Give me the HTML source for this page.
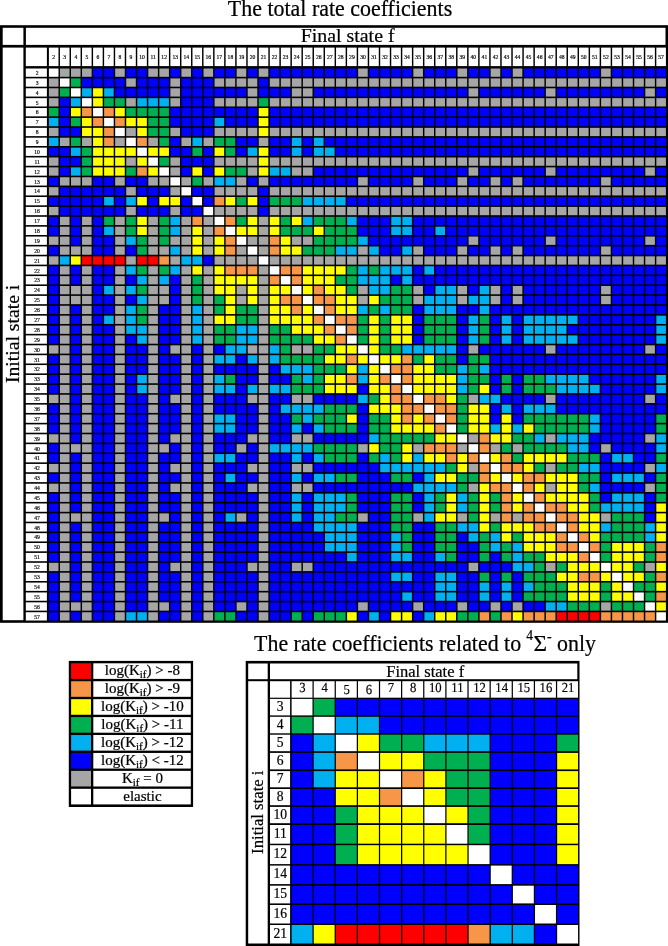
<!DOCTYPE html>
<html><head><meta charset="utf-8"><style>
html,body{margin:0;padding:0;background:#fff;overflow:hidden;width:668px;height:946px;}
svg{display:block;will-change:transform;}
text{font-family:"Liberation Serif",serif;fill:#000;stroke:#000;stroke-width:0.22px;}
</style></head><body>
<svg width="668" height="946" viewBox="0 0 668 946" shape-rendering="auto">
<rect x="0.00" y="25.20" width="668.00" height="597.60" fill="#000"/>
<rect x="2.70" y="27.80" width="20.70" height="17.10" fill="#fff"/>
<rect x="25.90" y="27.80" width="639.60" height="17.10" fill="#fff"/>
<rect x="2.70" y="47.60" width="20.70" height="572.60" fill="#fff"/>
<rect x="25.80" y="47.60" width="21.10" height="18.50" fill="#fff"/>
<rect x="48.90" y="47.60" width="9.60" height="18.50" fill="#fff"/>
<text x="53.70" y="58.90" font-size="5.6" text-anchor="middle" style="stroke-width:0.17px">2</text>
<rect x="59.94" y="47.60" width="9.60" height="18.50" fill="#fff"/>
<text x="64.74" y="58.90" font-size="5.6" text-anchor="middle" style="stroke-width:0.17px">3</text>
<rect x="70.99" y="47.60" width="9.60" height="18.50" fill="#fff"/>
<text x="75.79" y="58.90" font-size="5.6" text-anchor="middle" style="stroke-width:0.17px">4</text>
<rect x="82.03" y="47.60" width="9.60" height="18.50" fill="#fff"/>
<text x="86.83" y="58.90" font-size="5.6" text-anchor="middle" style="stroke-width:0.17px">5</text>
<rect x="93.08" y="47.60" width="9.60" height="18.50" fill="#fff"/>
<text x="97.88" y="58.90" font-size="5.6" text-anchor="middle" style="stroke-width:0.17px">6</text>
<rect x="104.12" y="47.60" width="9.60" height="18.50" fill="#fff"/>
<text x="108.92" y="58.90" font-size="5.6" text-anchor="middle" style="stroke-width:0.17px">7</text>
<rect x="115.16" y="47.60" width="9.60" height="18.50" fill="#fff"/>
<text x="119.96" y="58.90" font-size="5.6" text-anchor="middle" style="stroke-width:0.17px">8</text>
<rect x="126.21" y="47.60" width="9.60" height="18.50" fill="#fff"/>
<text x="131.01" y="58.90" font-size="5.6" text-anchor="middle" style="stroke-width:0.17px">9</text>
<rect x="137.25" y="47.60" width="9.60" height="18.50" fill="#fff"/>
<text x="142.05" y="58.90" font-size="5.6" text-anchor="middle" style="stroke-width:0.17px">10</text>
<rect x="148.30" y="47.60" width="9.60" height="18.50" fill="#fff"/>
<text x="153.10" y="58.90" font-size="5.6" text-anchor="middle" style="stroke-width:0.17px">11</text>
<rect x="159.34" y="47.60" width="9.60" height="18.50" fill="#fff"/>
<text x="164.14" y="58.90" font-size="5.6" text-anchor="middle" style="stroke-width:0.17px">12</text>
<rect x="170.38" y="47.60" width="9.60" height="18.50" fill="#fff"/>
<text x="175.18" y="58.90" font-size="5.6" text-anchor="middle" style="stroke-width:0.17px">13</text>
<rect x="181.43" y="47.60" width="9.60" height="18.50" fill="#fff"/>
<text x="186.23" y="58.90" font-size="5.6" text-anchor="middle" style="stroke-width:0.17px">14</text>
<rect x="192.47" y="47.60" width="9.60" height="18.50" fill="#fff"/>
<text x="197.27" y="58.90" font-size="5.6" text-anchor="middle" style="stroke-width:0.17px">15</text>
<rect x="203.52" y="47.60" width="9.60" height="18.50" fill="#fff"/>
<text x="208.32" y="58.90" font-size="5.6" text-anchor="middle" style="stroke-width:0.17px">16</text>
<rect x="214.56" y="47.60" width="9.60" height="18.50" fill="#fff"/>
<text x="219.36" y="58.90" font-size="5.6" text-anchor="middle" style="stroke-width:0.17px">17</text>
<rect x="225.60" y="47.60" width="9.60" height="18.50" fill="#fff"/>
<text x="230.40" y="58.90" font-size="5.6" text-anchor="middle" style="stroke-width:0.17px">18</text>
<rect x="236.65" y="47.60" width="9.60" height="18.50" fill="#fff"/>
<text x="241.45" y="58.90" font-size="5.6" text-anchor="middle" style="stroke-width:0.17px">19</text>
<rect x="247.69" y="47.60" width="9.60" height="18.50" fill="#fff"/>
<text x="252.49" y="58.90" font-size="5.6" text-anchor="middle" style="stroke-width:0.17px">20</text>
<rect x="258.74" y="47.60" width="9.60" height="18.50" fill="#fff"/>
<text x="263.54" y="58.90" font-size="5.6" text-anchor="middle" style="stroke-width:0.17px">21</text>
<rect x="269.78" y="47.60" width="9.60" height="18.50" fill="#fff"/>
<text x="274.58" y="58.90" font-size="5.6" text-anchor="middle" style="stroke-width:0.17px">22</text>
<rect x="280.82" y="47.60" width="9.60" height="18.50" fill="#fff"/>
<text x="285.62" y="58.90" font-size="5.6" text-anchor="middle" style="stroke-width:0.17px">23</text>
<rect x="291.87" y="47.60" width="9.60" height="18.50" fill="#fff"/>
<text x="296.67" y="58.90" font-size="5.6" text-anchor="middle" style="stroke-width:0.17px">24</text>
<rect x="302.91" y="47.60" width="9.60" height="18.50" fill="#fff"/>
<text x="307.71" y="58.90" font-size="5.6" text-anchor="middle" style="stroke-width:0.17px">25</text>
<rect x="313.96" y="47.60" width="9.60" height="18.50" fill="#fff"/>
<text x="318.76" y="58.90" font-size="5.6" text-anchor="middle" style="stroke-width:0.17px">26</text>
<rect x="325.00" y="47.60" width="9.60" height="18.50" fill="#fff"/>
<text x="329.80" y="58.90" font-size="5.6" text-anchor="middle" style="stroke-width:0.17px">27</text>
<rect x="336.04" y="47.60" width="9.60" height="18.50" fill="#fff"/>
<text x="340.84" y="58.90" font-size="5.6" text-anchor="middle" style="stroke-width:0.17px">28</text>
<rect x="347.09" y="47.60" width="9.60" height="18.50" fill="#fff"/>
<text x="351.89" y="58.90" font-size="5.6" text-anchor="middle" style="stroke-width:0.17px">29</text>
<rect x="358.13" y="47.60" width="9.60" height="18.50" fill="#fff"/>
<text x="362.93" y="58.90" font-size="5.6" text-anchor="middle" style="stroke-width:0.17px">30</text>
<rect x="369.18" y="47.60" width="9.60" height="18.50" fill="#fff"/>
<text x="373.98" y="58.90" font-size="5.6" text-anchor="middle" style="stroke-width:0.17px">31</text>
<rect x="380.22" y="47.60" width="9.60" height="18.50" fill="#fff"/>
<text x="385.02" y="58.90" font-size="5.6" text-anchor="middle" style="stroke-width:0.17px">32</text>
<rect x="391.26" y="47.60" width="9.60" height="18.50" fill="#fff"/>
<text x="396.06" y="58.90" font-size="5.6" text-anchor="middle" style="stroke-width:0.17px">33</text>
<rect x="402.31" y="47.60" width="9.60" height="18.50" fill="#fff"/>
<text x="407.11" y="58.90" font-size="5.6" text-anchor="middle" style="stroke-width:0.17px">34</text>
<rect x="413.35" y="47.60" width="9.60" height="18.50" fill="#fff"/>
<text x="418.15" y="58.90" font-size="5.6" text-anchor="middle" style="stroke-width:0.17px">35</text>
<rect x="424.40" y="47.60" width="9.60" height="18.50" fill="#fff"/>
<text x="429.20" y="58.90" font-size="5.6" text-anchor="middle" style="stroke-width:0.17px">36</text>
<rect x="435.44" y="47.60" width="9.60" height="18.50" fill="#fff"/>
<text x="440.24" y="58.90" font-size="5.6" text-anchor="middle" style="stroke-width:0.17px">37</text>
<rect x="446.48" y="47.60" width="9.60" height="18.50" fill="#fff"/>
<text x="451.28" y="58.90" font-size="5.6" text-anchor="middle" style="stroke-width:0.17px">38</text>
<rect x="457.53" y="47.60" width="9.60" height="18.50" fill="#fff"/>
<text x="462.33" y="58.90" font-size="5.6" text-anchor="middle" style="stroke-width:0.17px">39</text>
<rect x="468.57" y="47.60" width="9.60" height="18.50" fill="#fff"/>
<text x="473.37" y="58.90" font-size="5.6" text-anchor="middle" style="stroke-width:0.17px">40</text>
<rect x="479.62" y="47.60" width="9.60" height="18.50" fill="#fff"/>
<text x="484.42" y="58.90" font-size="5.6" text-anchor="middle" style="stroke-width:0.17px">41</text>
<rect x="490.66" y="47.60" width="9.60" height="18.50" fill="#fff"/>
<text x="495.46" y="58.90" font-size="5.6" text-anchor="middle" style="stroke-width:0.17px">42</text>
<rect x="501.70" y="47.60" width="9.60" height="18.50" fill="#fff"/>
<text x="506.50" y="58.90" font-size="5.6" text-anchor="middle" style="stroke-width:0.17px">43</text>
<rect x="512.75" y="47.60" width="9.60" height="18.50" fill="#fff"/>
<text x="517.55" y="58.90" font-size="5.6" text-anchor="middle" style="stroke-width:0.17px">44</text>
<rect x="523.79" y="47.60" width="9.60" height="18.50" fill="#fff"/>
<text x="528.59" y="58.90" font-size="5.6" text-anchor="middle" style="stroke-width:0.17px">45</text>
<rect x="534.84" y="47.60" width="9.60" height="18.50" fill="#fff"/>
<text x="539.64" y="58.90" font-size="5.6" text-anchor="middle" style="stroke-width:0.17px">46</text>
<rect x="545.88" y="47.60" width="9.60" height="18.50" fill="#fff"/>
<text x="550.68" y="58.90" font-size="5.6" text-anchor="middle" style="stroke-width:0.17px">47</text>
<rect x="556.92" y="47.60" width="9.60" height="18.50" fill="#fff"/>
<text x="561.72" y="58.90" font-size="5.6" text-anchor="middle" style="stroke-width:0.17px">48</text>
<rect x="567.97" y="47.60" width="9.60" height="18.50" fill="#fff"/>
<text x="572.77" y="58.90" font-size="5.6" text-anchor="middle" style="stroke-width:0.17px">49</text>
<rect x="579.01" y="47.60" width="9.60" height="18.50" fill="#fff"/>
<text x="583.81" y="58.90" font-size="5.6" text-anchor="middle" style="stroke-width:0.17px">50</text>
<rect x="590.06" y="47.60" width="9.60" height="18.50" fill="#fff"/>
<text x="594.86" y="58.90" font-size="5.6" text-anchor="middle" style="stroke-width:0.17px">51</text>
<rect x="601.10" y="47.60" width="9.60" height="18.50" fill="#fff"/>
<text x="605.90" y="58.90" font-size="5.6" text-anchor="middle" style="stroke-width:0.17px">52</text>
<rect x="612.14" y="47.60" width="9.60" height="18.50" fill="#fff"/>
<text x="616.94" y="58.90" font-size="5.6" text-anchor="middle" style="stroke-width:0.17px">53</text>
<rect x="623.19" y="47.60" width="9.60" height="18.50" fill="#fff"/>
<text x="627.99" y="58.90" font-size="5.6" text-anchor="middle" style="stroke-width:0.17px">54</text>
<rect x="634.23" y="47.60" width="9.60" height="18.50" fill="#fff"/>
<text x="639.03" y="58.90" font-size="5.6" text-anchor="middle" style="stroke-width:0.17px">55</text>
<rect x="645.28" y="47.60" width="9.60" height="18.50" fill="#fff"/>
<text x="650.08" y="58.90" font-size="5.6" text-anchor="middle" style="stroke-width:0.17px">56</text>
<rect x="656.32" y="47.60" width="9.60" height="18.50" fill="#fff"/>
<text x="661.12" y="58.90" font-size="5.6" text-anchor="middle" style="stroke-width:0.17px">57</text>
<rect x="25.80" y="68.50" width="21.10" height="8.30" fill="#fff"/>
<text x="37.10" y="74.85" font-size="5.6" text-anchor="middle" style="stroke-width:0.17px">2</text>
<rect x="48.90" y="68.50" width="9.60" height="8.30" fill="#ffffff"/>
<rect x="59.94" y="68.50" width="9.60" height="8.30" fill="#a6a6a6"/>
<rect x="70.99" y="68.50" width="9.60" height="8.30" fill="#a6a6a6"/>
<rect x="82.03" y="68.50" width="9.60" height="8.30" fill="#a6a6a6"/>
<rect x="93.08" y="68.50" width="9.60" height="8.30" fill="#0000ff"/>
<rect x="104.12" y="68.50" width="9.60" height="8.30" fill="#0000ff"/>
<rect x="115.16" y="68.50" width="9.60" height="8.30" fill="#a6a6a6"/>
<rect x="126.21" y="68.50" width="9.60" height="8.30" fill="#0000ff"/>
<rect x="137.25" y="68.50" width="9.60" height="8.30" fill="#0000ff"/>
<rect x="148.30" y="68.50" width="9.60" height="8.30" fill="#a6a6a6"/>
<rect x="159.34" y="68.50" width="9.60" height="8.30" fill="#a6a6a6"/>
<rect x="170.38" y="68.50" width="9.60" height="8.30" fill="#0000ff"/>
<rect x="181.43" y="68.50" width="9.60" height="8.30" fill="#a6a6a6"/>
<rect x="192.47" y="68.50" width="9.60" height="8.30" fill="#0000ff"/>
<rect x="203.52" y="68.50" width="9.60" height="8.30" fill="#a6a6a6"/>
<rect x="214.56" y="68.50" width="9.60" height="8.30" fill="#0000ff"/>
<rect x="225.60" y="68.50" width="9.60" height="8.30" fill="#0000ff"/>
<rect x="236.65" y="68.50" width="9.60" height="8.30" fill="#a6a6a6"/>
<rect x="247.69" y="68.50" width="9.60" height="8.30" fill="#0000ff"/>
<rect x="258.74" y="68.50" width="9.60" height="8.30" fill="#a6a6a6"/>
<rect x="269.78" y="68.50" width="9.60" height="8.30" fill="#0000ff"/>
<rect x="280.82" y="68.50" width="9.60" height="8.30" fill="#0000ff"/>
<rect x="291.87" y="68.50" width="9.60" height="8.30" fill="#0000ff"/>
<rect x="302.91" y="68.50" width="9.60" height="8.30" fill="#0000ff"/>
<rect x="313.96" y="68.50" width="9.60" height="8.30" fill="#0000ff"/>
<rect x="325.00" y="68.50" width="9.60" height="8.30" fill="#0000ff"/>
<rect x="336.04" y="68.50" width="9.60" height="8.30" fill="#0000ff"/>
<rect x="347.09" y="68.50" width="9.60" height="8.30" fill="#0000ff"/>
<rect x="358.13" y="68.50" width="9.60" height="8.30" fill="#a6a6a6"/>
<rect x="369.18" y="68.50" width="9.60" height="8.30" fill="#0000ff"/>
<rect x="380.22" y="68.50" width="9.60" height="8.30" fill="#0000ff"/>
<rect x="391.26" y="68.50" width="9.60" height="8.30" fill="#0000ff"/>
<rect x="402.31" y="68.50" width="9.60" height="8.30" fill="#0000ff"/>
<rect x="413.35" y="68.50" width="9.60" height="8.30" fill="#a6a6a6"/>
<rect x="424.40" y="68.50" width="9.60" height="8.30" fill="#0000ff"/>
<rect x="435.44" y="68.50" width="9.60" height="8.30" fill="#0000ff"/>
<rect x="446.48" y="68.50" width="9.60" height="8.30" fill="#0000ff"/>
<rect x="457.53" y="68.50" width="9.60" height="8.30" fill="#a6a6a6"/>
<rect x="468.57" y="68.50" width="9.60" height="8.30" fill="#0000ff"/>
<rect x="479.62" y="68.50" width="9.60" height="8.30" fill="#0000ff"/>
<rect x="490.66" y="68.50" width="9.60" height="8.30" fill="#a6a6a6"/>
<rect x="501.70" y="68.50" width="9.60" height="8.30" fill="#0000ff"/>
<rect x="512.75" y="68.50" width="9.60" height="8.30" fill="#a6a6a6"/>
<rect x="523.79" y="68.50" width="9.60" height="8.30" fill="#0000ff"/>
<rect x="534.84" y="68.50" width="9.60" height="8.30" fill="#0000ff"/>
<rect x="545.88" y="68.50" width="9.60" height="8.30" fill="#0000ff"/>
<rect x="556.92" y="68.50" width="9.60" height="8.30" fill="#0000ff"/>
<rect x="567.97" y="68.50" width="9.60" height="8.30" fill="#0000ff"/>
<rect x="579.01" y="68.50" width="9.60" height="8.30" fill="#0000ff"/>
<rect x="590.06" y="68.50" width="9.60" height="8.30" fill="#0000ff"/>
<rect x="601.10" y="68.50" width="9.60" height="8.30" fill="#a6a6a6"/>
<rect x="612.14" y="68.50" width="9.60" height="8.30" fill="#0000ff"/>
<rect x="623.19" y="68.50" width="9.60" height="8.30" fill="#0000ff"/>
<rect x="634.23" y="68.50" width="9.60" height="8.30" fill="#0000ff"/>
<rect x="645.28" y="68.50" width="9.60" height="8.30" fill="#0000ff"/>
<rect x="656.32" y="68.50" width="9.60" height="8.30" fill="#0000ff"/>
<rect x="25.80" y="78.39" width="21.10" height="8.30" fill="#fff"/>
<text x="37.10" y="84.74" font-size="5.6" text-anchor="middle" style="stroke-width:0.17px">3</text>
<rect x="48.90" y="78.39" width="9.60" height="8.30" fill="#a6a6a6"/>
<rect x="59.94" y="78.39" width="9.60" height="8.30" fill="#ffffff"/>
<rect x="70.99" y="78.39" width="9.60" height="8.30" fill="#00b050"/>
<rect x="82.03" y="78.39" width="9.60" height="8.30" fill="#0000ff"/>
<rect x="93.08" y="78.39" width="9.60" height="8.30" fill="#0000ff"/>
<rect x="104.12" y="78.39" width="9.60" height="8.30" fill="#0000ff"/>
<rect x="115.16" y="78.39" width="9.60" height="8.30" fill="#0000ff"/>
<rect x="126.21" y="78.39" width="9.60" height="8.30" fill="#a6a6a6"/>
<rect x="137.25" y="78.39" width="9.60" height="8.30" fill="#0000ff"/>
<rect x="148.30" y="78.39" width="9.60" height="8.30" fill="#0000ff"/>
<rect x="159.34" y="78.39" width="9.60" height="8.30" fill="#0000ff"/>
<rect x="170.38" y="78.39" width="9.60" height="8.30" fill="#a6a6a6"/>
<rect x="181.43" y="78.39" width="9.60" height="8.30" fill="#0000ff"/>
<rect x="192.47" y="78.39" width="9.60" height="8.30" fill="#0000ff"/>
<rect x="203.52" y="78.39" width="9.60" height="8.30" fill="#0000ff"/>
<rect x="214.56" y="78.39" width="9.60" height="8.30" fill="#a6a6a6"/>
<rect x="225.60" y="78.39" width="9.60" height="8.30" fill="#a6a6a6"/>
<rect x="236.65" y="78.39" width="9.60" height="8.30" fill="#a6a6a6"/>
<rect x="247.69" y="78.39" width="9.60" height="8.30" fill="#a6a6a6"/>
<rect x="258.74" y="78.39" width="9.60" height="8.30" fill="#0000ff"/>
<rect x="269.78" y="78.39" width="9.60" height="8.30" fill="#a6a6a6"/>
<rect x="280.82" y="78.39" width="9.60" height="8.30" fill="#a6a6a6"/>
<rect x="291.87" y="78.39" width="9.60" height="8.30" fill="#a6a6a6"/>
<rect x="302.91" y="78.39" width="9.60" height="8.30" fill="#a6a6a6"/>
<rect x="313.96" y="78.39" width="9.60" height="8.30" fill="#a6a6a6"/>
<rect x="325.00" y="78.39" width="9.60" height="8.30" fill="#a6a6a6"/>
<rect x="336.04" y="78.39" width="9.60" height="8.30" fill="#a6a6a6"/>
<rect x="347.09" y="78.39" width="9.60" height="8.30" fill="#a6a6a6"/>
<rect x="358.13" y="78.39" width="9.60" height="8.30" fill="#a6a6a6"/>
<rect x="369.18" y="78.39" width="9.60" height="8.30" fill="#a6a6a6"/>
<rect x="380.22" y="78.39" width="9.60" height="8.30" fill="#a6a6a6"/>
<rect x="391.26" y="78.39" width="9.60" height="8.30" fill="#a6a6a6"/>
<rect x="402.31" y="78.39" width="9.60" height="8.30" fill="#a6a6a6"/>
<rect x="413.35" y="78.39" width="9.60" height="8.30" fill="#a6a6a6"/>
<rect x="424.40" y="78.39" width="9.60" height="8.30" fill="#a6a6a6"/>
<rect x="435.44" y="78.39" width="9.60" height="8.30" fill="#a6a6a6"/>
<rect x="446.48" y="78.39" width="9.60" height="8.30" fill="#a6a6a6"/>
<rect x="457.53" y="78.39" width="9.60" height="8.30" fill="#a6a6a6"/>
<rect x="468.57" y="78.39" width="9.60" height="8.30" fill="#a6a6a6"/>
<rect x="479.62" y="78.39" width="9.60" height="8.30" fill="#a6a6a6"/>
<rect x="490.66" y="78.39" width="9.60" height="8.30" fill="#a6a6a6"/>
<rect x="501.70" y="78.39" width="9.60" height="8.30" fill="#a6a6a6"/>
<rect x="512.75" y="78.39" width="9.60" height="8.30" fill="#a6a6a6"/>
<rect x="523.79" y="78.39" width="9.60" height="8.30" fill="#a6a6a6"/>
<rect x="534.84" y="78.39" width="9.60" height="8.30" fill="#a6a6a6"/>
<rect x="545.88" y="78.39" width="9.60" height="8.30" fill="#a6a6a6"/>
<rect x="556.92" y="78.39" width="9.60" height="8.30" fill="#a6a6a6"/>
<rect x="567.97" y="78.39" width="9.60" height="8.30" fill="#a6a6a6"/>
<rect x="579.01" y="78.39" width="9.60" height="8.30" fill="#a6a6a6"/>
<rect x="590.06" y="78.39" width="9.60" height="8.30" fill="#a6a6a6"/>
<rect x="601.10" y="78.39" width="9.60" height="8.30" fill="#a6a6a6"/>
<rect x="612.14" y="78.39" width="9.60" height="8.30" fill="#a6a6a6"/>
<rect x="623.19" y="78.39" width="9.60" height="8.30" fill="#a6a6a6"/>
<rect x="634.23" y="78.39" width="9.60" height="8.30" fill="#a6a6a6"/>
<rect x="645.28" y="78.39" width="9.60" height="8.30" fill="#a6a6a6"/>
<rect x="656.32" y="78.39" width="9.60" height="8.30" fill="#a6a6a6"/>
<rect x="25.80" y="88.27" width="21.10" height="8.30" fill="#fff"/>
<text x="37.10" y="94.62" font-size="5.6" text-anchor="middle" style="stroke-width:0.17px">4</text>
<rect x="48.90" y="88.27" width="9.60" height="8.30" fill="#a6a6a6"/>
<rect x="59.94" y="88.27" width="9.60" height="8.30" fill="#00b050"/>
<rect x="70.99" y="88.27" width="9.60" height="8.30" fill="#ffffff"/>
<rect x="82.03" y="88.27" width="9.60" height="8.30" fill="#00b0f0"/>
<rect x="93.08" y="88.27" width="9.60" height="8.30" fill="#ffff00"/>
<rect x="104.12" y="88.27" width="9.60" height="8.30" fill="#00b0f0"/>
<rect x="115.16" y="88.27" width="9.60" height="8.30" fill="#0000ff"/>
<rect x="126.21" y="88.27" width="9.60" height="8.30" fill="#0000ff"/>
<rect x="137.25" y="88.27" width="9.60" height="8.30" fill="#0000ff"/>
<rect x="148.30" y="88.27" width="9.60" height="8.30" fill="#0000ff"/>
<rect x="159.34" y="88.27" width="9.60" height="8.30" fill="#0000ff"/>
<rect x="170.38" y="88.27" width="9.60" height="8.30" fill="#a6a6a6"/>
<rect x="181.43" y="88.27" width="9.60" height="8.30" fill="#0000ff"/>
<rect x="192.47" y="88.27" width="9.60" height="8.30" fill="#0000ff"/>
<rect x="203.52" y="88.27" width="9.60" height="8.30" fill="#0000ff"/>
<rect x="214.56" y="88.27" width="9.60" height="8.30" fill="#0000ff"/>
<rect x="225.60" y="88.27" width="9.60" height="8.30" fill="#0000ff"/>
<rect x="236.65" y="88.27" width="9.60" height="8.30" fill="#0000ff"/>
<rect x="247.69" y="88.27" width="9.60" height="8.30" fill="#a6a6a6"/>
<rect x="258.74" y="88.27" width="9.60" height="8.30" fill="#0000ff"/>
<rect x="269.78" y="88.27" width="9.60" height="8.30" fill="#0000ff"/>
<rect x="280.82" y="88.27" width="9.60" height="8.30" fill="#0000ff"/>
<rect x="291.87" y="88.27" width="9.60" height="8.30" fill="#a6a6a6"/>
<rect x="302.91" y="88.27" width="9.60" height="8.30" fill="#a6a6a6"/>
<rect x="313.96" y="88.27" width="9.60" height="8.30" fill="#0000ff"/>
<rect x="325.00" y="88.27" width="9.60" height="8.30" fill="#0000ff"/>
<rect x="336.04" y="88.27" width="9.60" height="8.30" fill="#0000ff"/>
<rect x="347.09" y="88.27" width="9.60" height="8.30" fill="#0000ff"/>
<rect x="358.13" y="88.27" width="9.60" height="8.30" fill="#0000ff"/>
<rect x="369.18" y="88.27" width="9.60" height="8.30" fill="#0000ff"/>
<rect x="380.22" y="88.27" width="9.60" height="8.30" fill="#0000ff"/>
<rect x="391.26" y="88.27" width="9.60" height="8.30" fill="#0000ff"/>
<rect x="402.31" y="88.27" width="9.60" height="8.30" fill="#0000ff"/>
<rect x="413.35" y="88.27" width="9.60" height="8.30" fill="#0000ff"/>
<rect x="424.40" y="88.27" width="9.60" height="8.30" fill="#0000ff"/>
<rect x="435.44" y="88.27" width="9.60" height="8.30" fill="#0000ff"/>
<rect x="446.48" y="88.27" width="9.60" height="8.30" fill="#0000ff"/>
<rect x="457.53" y="88.27" width="9.60" height="8.30" fill="#0000ff"/>
<rect x="468.57" y="88.27" width="9.60" height="8.30" fill="#a6a6a6"/>
<rect x="479.62" y="88.27" width="9.60" height="8.30" fill="#0000ff"/>
<rect x="490.66" y="88.27" width="9.60" height="8.30" fill="#0000ff"/>
<rect x="501.70" y="88.27" width="9.60" height="8.30" fill="#0000ff"/>
<rect x="512.75" y="88.27" width="9.60" height="8.30" fill="#0000ff"/>
<rect x="523.79" y="88.27" width="9.60" height="8.30" fill="#0000ff"/>
<rect x="534.84" y="88.27" width="9.60" height="8.30" fill="#0000ff"/>
<rect x="545.88" y="88.27" width="9.60" height="8.30" fill="#a6a6a6"/>
<rect x="556.92" y="88.27" width="9.60" height="8.30" fill="#0000ff"/>
<rect x="567.97" y="88.27" width="9.60" height="8.30" fill="#0000ff"/>
<rect x="579.01" y="88.27" width="9.60" height="8.30" fill="#0000ff"/>
<rect x="590.06" y="88.27" width="9.60" height="8.30" fill="#0000ff"/>
<rect x="601.10" y="88.27" width="9.60" height="8.30" fill="#0000ff"/>
<rect x="612.14" y="88.27" width="9.60" height="8.30" fill="#0000ff"/>
<rect x="623.19" y="88.27" width="9.60" height="8.30" fill="#0000ff"/>
<rect x="634.23" y="88.27" width="9.60" height="8.30" fill="#0000ff"/>
<rect x="645.28" y="88.27" width="9.60" height="8.30" fill="#a6a6a6"/>
<rect x="656.32" y="88.27" width="9.60" height="8.30" fill="#0000ff"/>
<rect x="25.80" y="98.16" width="21.10" height="8.30" fill="#fff"/>
<text x="37.10" y="104.51" font-size="5.6" text-anchor="middle" style="stroke-width:0.17px">5</text>
<rect x="48.90" y="98.16" width="9.60" height="8.30" fill="#a6a6a6"/>
<rect x="59.94" y="98.16" width="9.60" height="8.30" fill="#0000ff"/>
<rect x="70.99" y="98.16" width="9.60" height="8.30" fill="#00b0f0"/>
<rect x="82.03" y="98.16" width="9.60" height="8.30" fill="#ffffff"/>
<rect x="93.08" y="98.16" width="9.60" height="8.30" fill="#ffff00"/>
<rect x="104.12" y="98.16" width="9.60" height="8.30" fill="#00b050"/>
<rect x="115.16" y="98.16" width="9.60" height="8.30" fill="#00b050"/>
<rect x="126.21" y="98.16" width="9.60" height="8.30" fill="#a6a6a6"/>
<rect x="137.25" y="98.16" width="9.60" height="8.30" fill="#00b0f0"/>
<rect x="148.30" y="98.16" width="9.60" height="8.30" fill="#00b0f0"/>
<rect x="159.34" y="98.16" width="9.60" height="8.30" fill="#00b0f0"/>
<rect x="170.38" y="98.16" width="9.60" height="8.30" fill="#a6a6a6"/>
<rect x="181.43" y="98.16" width="9.60" height="8.30" fill="#0000ff"/>
<rect x="192.47" y="98.16" width="9.60" height="8.30" fill="#0000ff"/>
<rect x="203.52" y="98.16" width="9.60" height="8.30" fill="#0000ff"/>
<rect x="214.56" y="98.16" width="9.60" height="8.30" fill="#a6a6a6"/>
<rect x="225.60" y="98.16" width="9.60" height="8.30" fill="#a6a6a6"/>
<rect x="236.65" y="98.16" width="9.60" height="8.30" fill="#a6a6a6"/>
<rect x="247.69" y="98.16" width="9.60" height="8.30" fill="#a6a6a6"/>
<rect x="258.74" y="98.16" width="9.60" height="8.30" fill="#00b050"/>
<rect x="269.78" y="98.16" width="9.60" height="8.30" fill="#a6a6a6"/>
<rect x="280.82" y="98.16" width="9.60" height="8.30" fill="#a6a6a6"/>
<rect x="291.87" y="98.16" width="9.60" height="8.30" fill="#a6a6a6"/>
<rect x="302.91" y="98.16" width="9.60" height="8.30" fill="#a6a6a6"/>
<rect x="313.96" y="98.16" width="9.60" height="8.30" fill="#a6a6a6"/>
<rect x="325.00" y="98.16" width="9.60" height="8.30" fill="#a6a6a6"/>
<rect x="336.04" y="98.16" width="9.60" height="8.30" fill="#a6a6a6"/>
<rect x="347.09" y="98.16" width="9.60" height="8.30" fill="#a6a6a6"/>
<rect x="358.13" y="98.16" width="9.60" height="8.30" fill="#a6a6a6"/>
<rect x="369.18" y="98.16" width="9.60" height="8.30" fill="#a6a6a6"/>
<rect x="380.22" y="98.16" width="9.60" height="8.30" fill="#a6a6a6"/>
<rect x="391.26" y="98.16" width="9.60" height="8.30" fill="#a6a6a6"/>
<rect x="402.31" y="98.16" width="9.60" height="8.30" fill="#a6a6a6"/>
<rect x="413.35" y="98.16" width="9.60" height="8.30" fill="#a6a6a6"/>
<rect x="424.40" y="98.16" width="9.60" height="8.30" fill="#a6a6a6"/>
<rect x="435.44" y="98.16" width="9.60" height="8.30" fill="#a6a6a6"/>
<rect x="446.48" y="98.16" width="9.60" height="8.30" fill="#a6a6a6"/>
<rect x="457.53" y="98.16" width="9.60" height="8.30" fill="#a6a6a6"/>
<rect x="468.57" y="98.16" width="9.60" height="8.30" fill="#a6a6a6"/>
<rect x="479.62" y="98.16" width="9.60" height="8.30" fill="#a6a6a6"/>
<rect x="490.66" y="98.16" width="9.60" height="8.30" fill="#a6a6a6"/>
<rect x="501.70" y="98.16" width="9.60" height="8.30" fill="#a6a6a6"/>
<rect x="512.75" y="98.16" width="9.60" height="8.30" fill="#a6a6a6"/>
<rect x="523.79" y="98.16" width="9.60" height="8.30" fill="#a6a6a6"/>
<rect x="534.84" y="98.16" width="9.60" height="8.30" fill="#a6a6a6"/>
<rect x="545.88" y="98.16" width="9.60" height="8.30" fill="#a6a6a6"/>
<rect x="556.92" y="98.16" width="9.60" height="8.30" fill="#a6a6a6"/>
<rect x="567.97" y="98.16" width="9.60" height="8.30" fill="#a6a6a6"/>
<rect x="579.01" y="98.16" width="9.60" height="8.30" fill="#a6a6a6"/>
<rect x="590.06" y="98.16" width="9.60" height="8.30" fill="#a6a6a6"/>
<rect x="601.10" y="98.16" width="9.60" height="8.30" fill="#a6a6a6"/>
<rect x="612.14" y="98.16" width="9.60" height="8.30" fill="#a6a6a6"/>
<rect x="623.19" y="98.16" width="9.60" height="8.30" fill="#a6a6a6"/>
<rect x="634.23" y="98.16" width="9.60" height="8.30" fill="#a6a6a6"/>
<rect x="645.28" y="98.16" width="9.60" height="8.30" fill="#a6a6a6"/>
<rect x="656.32" y="98.16" width="9.60" height="8.30" fill="#a6a6a6"/>
<rect x="25.80" y="108.04" width="21.10" height="8.30" fill="#fff"/>
<text x="37.10" y="114.39" font-size="5.6" text-anchor="middle" style="stroke-width:0.17px">6</text>
<rect x="48.90" y="108.04" width="9.60" height="8.30" fill="#00b050"/>
<rect x="59.94" y="108.04" width="9.60" height="8.30" fill="#0000ff"/>
<rect x="70.99" y="108.04" width="9.60" height="8.30" fill="#ffff00"/>
<rect x="82.03" y="108.04" width="9.60" height="8.30" fill="#f79646"/>
<rect x="93.08" y="108.04" width="9.60" height="8.30" fill="#ffffff"/>
<rect x="104.12" y="108.04" width="9.60" height="8.30" fill="#f79646"/>
<rect x="115.16" y="108.04" width="9.60" height="8.30" fill="#ffff00"/>
<rect x="126.21" y="108.04" width="9.60" height="8.30" fill="#00b050"/>
<rect x="137.25" y="108.04" width="9.60" height="8.30" fill="#00b050"/>
<rect x="148.30" y="108.04" width="9.60" height="8.30" fill="#00b050"/>
<rect x="159.34" y="108.04" width="9.60" height="8.30" fill="#00b050"/>
<rect x="170.38" y="108.04" width="9.60" height="8.30" fill="#0000ff"/>
<rect x="181.43" y="108.04" width="9.60" height="8.30" fill="#0000ff"/>
<rect x="192.47" y="108.04" width="9.60" height="8.30" fill="#0000ff"/>
<rect x="203.52" y="108.04" width="9.60" height="8.30" fill="#0000ff"/>
<rect x="214.56" y="108.04" width="9.60" height="8.30" fill="#0000ff"/>
<rect x="225.60" y="108.04" width="9.60" height="8.30" fill="#0000ff"/>
<rect x="236.65" y="108.04" width="9.60" height="8.30" fill="#0000ff"/>
<rect x="247.69" y="108.04" width="9.60" height="8.30" fill="#0000ff"/>
<rect x="258.74" y="108.04" width="9.60" height="8.30" fill="#ffff00"/>
<rect x="269.78" y="108.04" width="9.60" height="8.30" fill="#0000ff"/>
<rect x="280.82" y="108.04" width="9.60" height="8.30" fill="#0000ff"/>
<rect x="291.87" y="108.04" width="9.60" height="8.30" fill="#0000ff"/>
<rect x="302.91" y="108.04" width="9.60" height="8.30" fill="#0000ff"/>
<rect x="313.96" y="108.04" width="9.60" height="8.30" fill="#0000ff"/>
<rect x="325.00" y="108.04" width="9.60" height="8.30" fill="#0000ff"/>
<rect x="336.04" y="108.04" width="9.60" height="8.30" fill="#0000ff"/>
<rect x="347.09" y="108.04" width="9.60" height="8.30" fill="#0000ff"/>
<rect x="358.13" y="108.04" width="9.60" height="8.30" fill="#0000ff"/>
<rect x="369.18" y="108.04" width="9.60" height="8.30" fill="#0000ff"/>
<rect x="380.22" y="108.04" width="9.60" height="8.30" fill="#0000ff"/>
<rect x="391.26" y="108.04" width="9.60" height="8.30" fill="#0000ff"/>
<rect x="402.31" y="108.04" width="9.60" height="8.30" fill="#0000ff"/>
<rect x="413.35" y="108.04" width="9.60" height="8.30" fill="#0000ff"/>
<rect x="424.40" y="108.04" width="9.60" height="8.30" fill="#0000ff"/>
<rect x="435.44" y="108.04" width="9.60" height="8.30" fill="#0000ff"/>
<rect x="446.48" y="108.04" width="9.60" height="8.30" fill="#0000ff"/>
<rect x="457.53" y="108.04" width="9.60" height="8.30" fill="#0000ff"/>
<rect x="468.57" y="108.04" width="9.60" height="8.30" fill="#0000ff"/>
<rect x="479.62" y="108.04" width="9.60" height="8.30" fill="#0000ff"/>
<rect x="490.66" y="108.04" width="9.60" height="8.30" fill="#0000ff"/>
<rect x="501.70" y="108.04" width="9.60" height="8.30" fill="#0000ff"/>
<rect x="512.75" y="108.04" width="9.60" height="8.30" fill="#0000ff"/>
<rect x="523.79" y="108.04" width="9.60" height="8.30" fill="#0000ff"/>
<rect x="534.84" y="108.04" width="9.60" height="8.30" fill="#0000ff"/>
<rect x="545.88" y="108.04" width="9.60" height="8.30" fill="#0000ff"/>
<rect x="556.92" y="108.04" width="9.60" height="8.30" fill="#0000ff"/>
<rect x="567.97" y="108.04" width="9.60" height="8.30" fill="#0000ff"/>
<rect x="579.01" y="108.04" width="9.60" height="8.30" fill="#0000ff"/>
<rect x="590.06" y="108.04" width="9.60" height="8.30" fill="#0000ff"/>
<rect x="601.10" y="108.04" width="9.60" height="8.30" fill="#0000ff"/>
<rect x="612.14" y="108.04" width="9.60" height="8.30" fill="#0000ff"/>
<rect x="623.19" y="108.04" width="9.60" height="8.30" fill="#0000ff"/>
<rect x="634.23" y="108.04" width="9.60" height="8.30" fill="#0000ff"/>
<rect x="645.28" y="108.04" width="9.60" height="8.30" fill="#0000ff"/>
<rect x="656.32" y="108.04" width="9.60" height="8.30" fill="#0000ff"/>
<rect x="25.80" y="117.93" width="21.10" height="8.30" fill="#fff"/>
<text x="37.10" y="124.28" font-size="5.6" text-anchor="middle" style="stroke-width:0.17px">7</text>
<rect x="48.90" y="117.93" width="9.60" height="8.30" fill="#00b0f0"/>
<rect x="59.94" y="117.93" width="9.60" height="8.30" fill="#0000ff"/>
<rect x="70.99" y="117.93" width="9.60" height="8.30" fill="#00b050"/>
<rect x="82.03" y="117.93" width="9.60" height="8.30" fill="#ffff00"/>
<rect x="93.08" y="117.93" width="9.60" height="8.30" fill="#f79646"/>
<rect x="104.12" y="117.93" width="9.60" height="8.30" fill="#ffffff"/>
<rect x="115.16" y="117.93" width="9.60" height="8.30" fill="#f79646"/>
<rect x="126.21" y="117.93" width="9.60" height="8.30" fill="#ffff00"/>
<rect x="137.25" y="117.93" width="9.60" height="8.30" fill="#ffff00"/>
<rect x="148.30" y="117.93" width="9.60" height="8.30" fill="#00b050"/>
<rect x="159.34" y="117.93" width="9.60" height="8.30" fill="#00b050"/>
<rect x="170.38" y="117.93" width="9.60" height="8.30" fill="#0000ff"/>
<rect x="181.43" y="117.93" width="9.60" height="8.30" fill="#0000ff"/>
<rect x="192.47" y="117.93" width="9.60" height="8.30" fill="#0000ff"/>
<rect x="203.52" y="117.93" width="9.60" height="8.30" fill="#0000ff"/>
<rect x="214.56" y="117.93" width="9.60" height="8.30" fill="#00b0f0"/>
<rect x="225.60" y="117.93" width="9.60" height="8.30" fill="#0000ff"/>
<rect x="236.65" y="117.93" width="9.60" height="8.30" fill="#0000ff"/>
<rect x="247.69" y="117.93" width="9.60" height="8.30" fill="#0000ff"/>
<rect x="258.74" y="117.93" width="9.60" height="8.30" fill="#ffff00"/>
<rect x="269.78" y="117.93" width="9.60" height="8.30" fill="#0000ff"/>
<rect x="280.82" y="117.93" width="9.60" height="8.30" fill="#0000ff"/>
<rect x="291.87" y="117.93" width="9.60" height="8.30" fill="#0000ff"/>
<rect x="302.91" y="117.93" width="9.60" height="8.30" fill="#0000ff"/>
<rect x="313.96" y="117.93" width="9.60" height="8.30" fill="#0000ff"/>
<rect x="325.00" y="117.93" width="9.60" height="8.30" fill="#0000ff"/>
<rect x="336.04" y="117.93" width="9.60" height="8.30" fill="#0000ff"/>
<rect x="347.09" y="117.93" width="9.60" height="8.30" fill="#0000ff"/>
<rect x="358.13" y="117.93" width="9.60" height="8.30" fill="#0000ff"/>
<rect x="369.18" y="117.93" width="9.60" height="8.30" fill="#0000ff"/>
<rect x="380.22" y="117.93" width="9.60" height="8.30" fill="#0000ff"/>
<rect x="391.26" y="117.93" width="9.60" height="8.30" fill="#0000ff"/>
<rect x="402.31" y="117.93" width="9.60" height="8.30" fill="#0000ff"/>
<rect x="413.35" y="117.93" width="9.60" height="8.30" fill="#0000ff"/>
<rect x="424.40" y="117.93" width="9.60" height="8.30" fill="#0000ff"/>
<rect x="435.44" y="117.93" width="9.60" height="8.30" fill="#0000ff"/>
<rect x="446.48" y="117.93" width="9.60" height="8.30" fill="#0000ff"/>
<rect x="457.53" y="117.93" width="9.60" height="8.30" fill="#0000ff"/>
<rect x="468.57" y="117.93" width="9.60" height="8.30" fill="#0000ff"/>
<rect x="479.62" y="117.93" width="9.60" height="8.30" fill="#0000ff"/>
<rect x="490.66" y="117.93" width="9.60" height="8.30" fill="#0000ff"/>
<rect x="501.70" y="117.93" width="9.60" height="8.30" fill="#0000ff"/>
<rect x="512.75" y="117.93" width="9.60" height="8.30" fill="#0000ff"/>
<rect x="523.79" y="117.93" width="9.60" height="8.30" fill="#0000ff"/>
<rect x="534.84" y="117.93" width="9.60" height="8.30" fill="#0000ff"/>
<rect x="545.88" y="117.93" width="9.60" height="8.30" fill="#0000ff"/>
<rect x="556.92" y="117.93" width="9.60" height="8.30" fill="#0000ff"/>
<rect x="567.97" y="117.93" width="9.60" height="8.30" fill="#0000ff"/>
<rect x="579.01" y="117.93" width="9.60" height="8.30" fill="#0000ff"/>
<rect x="590.06" y="117.93" width="9.60" height="8.30" fill="#0000ff"/>
<rect x="601.10" y="117.93" width="9.60" height="8.30" fill="#0000ff"/>
<rect x="612.14" y="117.93" width="9.60" height="8.30" fill="#0000ff"/>
<rect x="623.19" y="117.93" width="9.60" height="8.30" fill="#0000ff"/>
<rect x="634.23" y="117.93" width="9.60" height="8.30" fill="#0000ff"/>
<rect x="645.28" y="117.93" width="9.60" height="8.30" fill="#0000ff"/>
<rect x="656.32" y="117.93" width="9.60" height="8.30" fill="#0000ff"/>
<rect x="25.80" y="127.82" width="21.10" height="8.30" fill="#fff"/>
<text x="37.10" y="134.17" font-size="5.6" text-anchor="middle" style="stroke-width:0.17px">8</text>
<rect x="48.90" y="127.82" width="9.60" height="8.30" fill="#a6a6a6"/>
<rect x="59.94" y="127.82" width="9.60" height="8.30" fill="#0000ff"/>
<rect x="70.99" y="127.82" width="9.60" height="8.30" fill="#0000ff"/>
<rect x="82.03" y="127.82" width="9.60" height="8.30" fill="#ffff00"/>
<rect x="93.08" y="127.82" width="9.60" height="8.30" fill="#ffff00"/>
<rect x="104.12" y="127.82" width="9.60" height="8.30" fill="#f79646"/>
<rect x="115.16" y="127.82" width="9.60" height="8.30" fill="#ffffff"/>
<rect x="126.21" y="127.82" width="9.60" height="8.30" fill="#a6a6a6"/>
<rect x="137.25" y="127.82" width="9.60" height="8.30" fill="#ffff00"/>
<rect x="148.30" y="127.82" width="9.60" height="8.30" fill="#00b050"/>
<rect x="159.34" y="127.82" width="9.60" height="8.30" fill="#00b050"/>
<rect x="170.38" y="127.82" width="9.60" height="8.30" fill="#a6a6a6"/>
<rect x="181.43" y="127.82" width="9.60" height="8.30" fill="#0000ff"/>
<rect x="192.47" y="127.82" width="9.60" height="8.30" fill="#0000ff"/>
<rect x="203.52" y="127.82" width="9.60" height="8.30" fill="#0000ff"/>
<rect x="214.56" y="127.82" width="9.60" height="8.30" fill="#a6a6a6"/>
<rect x="225.60" y="127.82" width="9.60" height="8.30" fill="#a6a6a6"/>
<rect x="236.65" y="127.82" width="9.60" height="8.30" fill="#a6a6a6"/>
<rect x="247.69" y="127.82" width="9.60" height="8.30" fill="#a6a6a6"/>
<rect x="258.74" y="127.82" width="9.60" height="8.30" fill="#ffff00"/>
<rect x="269.78" y="127.82" width="9.60" height="8.30" fill="#a6a6a6"/>
<rect x="280.82" y="127.82" width="9.60" height="8.30" fill="#a6a6a6"/>
<rect x="291.87" y="127.82" width="9.60" height="8.30" fill="#a6a6a6"/>
<rect x="302.91" y="127.82" width="9.60" height="8.30" fill="#a6a6a6"/>
<rect x="313.96" y="127.82" width="9.60" height="8.30" fill="#a6a6a6"/>
<rect x="325.00" y="127.82" width="9.60" height="8.30" fill="#a6a6a6"/>
<rect x="336.04" y="127.82" width="9.60" height="8.30" fill="#a6a6a6"/>
<rect x="347.09" y="127.82" width="9.60" height="8.30" fill="#a6a6a6"/>
<rect x="358.13" y="127.82" width="9.60" height="8.30" fill="#a6a6a6"/>
<rect x="369.18" y="127.82" width="9.60" height="8.30" fill="#a6a6a6"/>
<rect x="380.22" y="127.82" width="9.60" height="8.30" fill="#a6a6a6"/>
<rect x="391.26" y="127.82" width="9.60" height="8.30" fill="#a6a6a6"/>
<rect x="402.31" y="127.82" width="9.60" height="8.30" fill="#a6a6a6"/>
<rect x="413.35" y="127.82" width="9.60" height="8.30" fill="#a6a6a6"/>
<rect x="424.40" y="127.82" width="9.60" height="8.30" fill="#a6a6a6"/>
<rect x="435.44" y="127.82" width="9.60" height="8.30" fill="#a6a6a6"/>
<rect x="446.48" y="127.82" width="9.60" height="8.30" fill="#a6a6a6"/>
<rect x="457.53" y="127.82" width="9.60" height="8.30" fill="#a6a6a6"/>
<rect x="468.57" y="127.82" width="9.60" height="8.30" fill="#a6a6a6"/>
<rect x="479.62" y="127.82" width="9.60" height="8.30" fill="#a6a6a6"/>
<rect x="490.66" y="127.82" width="9.60" height="8.30" fill="#a6a6a6"/>
<rect x="501.70" y="127.82" width="9.60" height="8.30" fill="#a6a6a6"/>
<rect x="512.75" y="127.82" width="9.60" height="8.30" fill="#a6a6a6"/>
<rect x="523.79" y="127.82" width="9.60" height="8.30" fill="#a6a6a6"/>
<rect x="534.84" y="127.82" width="9.60" height="8.30" fill="#a6a6a6"/>
<rect x="545.88" y="127.82" width="9.60" height="8.30" fill="#a6a6a6"/>
<rect x="556.92" y="127.82" width="9.60" height="8.30" fill="#a6a6a6"/>
<rect x="567.97" y="127.82" width="9.60" height="8.30" fill="#a6a6a6"/>
<rect x="579.01" y="127.82" width="9.60" height="8.30" fill="#a6a6a6"/>
<rect x="590.06" y="127.82" width="9.60" height="8.30" fill="#a6a6a6"/>
<rect x="601.10" y="127.82" width="9.60" height="8.30" fill="#a6a6a6"/>
<rect x="612.14" y="127.82" width="9.60" height="8.30" fill="#a6a6a6"/>
<rect x="623.19" y="127.82" width="9.60" height="8.30" fill="#a6a6a6"/>
<rect x="634.23" y="127.82" width="9.60" height="8.30" fill="#a6a6a6"/>
<rect x="645.28" y="127.82" width="9.60" height="8.30" fill="#a6a6a6"/>
<rect x="656.32" y="127.82" width="9.60" height="8.30" fill="#a6a6a6"/>
<rect x="25.80" y="137.70" width="21.10" height="8.30" fill="#fff"/>
<text x="37.10" y="144.05" font-size="5.6" text-anchor="middle" style="stroke-width:0.17px">9</text>
<rect x="48.90" y="137.70" width="9.60" height="8.30" fill="#00b0f0"/>
<rect x="59.94" y="137.70" width="9.60" height="8.30" fill="#a6a6a6"/>
<rect x="70.99" y="137.70" width="9.60" height="8.30" fill="#00b050"/>
<rect x="82.03" y="137.70" width="9.60" height="8.30" fill="#a6a6a6"/>
<rect x="93.08" y="137.70" width="9.60" height="8.30" fill="#ffff00"/>
<rect x="104.12" y="137.70" width="9.60" height="8.30" fill="#f79646"/>
<rect x="115.16" y="137.70" width="9.60" height="8.30" fill="#a6a6a6"/>
<rect x="126.21" y="137.70" width="9.60" height="8.30" fill="#ffffff"/>
<rect x="137.25" y="137.70" width="9.60" height="8.30" fill="#f79646"/>
<rect x="148.30" y="137.70" width="9.60" height="8.30" fill="#a6a6a6"/>
<rect x="159.34" y="137.70" width="9.60" height="8.30" fill="#00b050"/>
<rect x="170.38" y="137.70" width="9.60" height="8.30" fill="#0000ff"/>
<rect x="181.43" y="137.70" width="9.60" height="8.30" fill="#a6a6a6"/>
<rect x="192.47" y="137.70" width="9.60" height="8.30" fill="#00b0f0"/>
<rect x="203.52" y="137.70" width="9.60" height="8.30" fill="#a6a6a6"/>
<rect x="214.56" y="137.70" width="9.60" height="8.30" fill="#00b050"/>
<rect x="225.60" y="137.70" width="9.60" height="8.30" fill="#00b050"/>
<rect x="236.65" y="137.70" width="9.60" height="8.30" fill="#0000ff"/>
<rect x="247.69" y="137.70" width="9.60" height="8.30" fill="#0000ff"/>
<rect x="258.74" y="137.70" width="9.60" height="8.30" fill="#a6a6a6"/>
<rect x="269.78" y="137.70" width="9.60" height="8.30" fill="#0000ff"/>
<rect x="280.82" y="137.70" width="9.60" height="8.30" fill="#0000ff"/>
<rect x="291.87" y="137.70" width="9.60" height="8.30" fill="#00b0f0"/>
<rect x="302.91" y="137.70" width="9.60" height="8.30" fill="#0000ff"/>
<rect x="313.96" y="137.70" width="9.60" height="8.30" fill="#00b0f0"/>
<rect x="325.00" y="137.70" width="9.60" height="8.30" fill="#0000ff"/>
<rect x="336.04" y="137.70" width="9.60" height="8.30" fill="#0000ff"/>
<rect x="347.09" y="137.70" width="9.60" height="8.30" fill="#0000ff"/>
<rect x="358.13" y="137.70" width="9.60" height="8.30" fill="#0000ff"/>
<rect x="369.18" y="137.70" width="9.60" height="8.30" fill="#0000ff"/>
<rect x="380.22" y="137.70" width="9.60" height="8.30" fill="#0000ff"/>
<rect x="391.26" y="137.70" width="9.60" height="8.30" fill="#0000ff"/>
<rect x="402.31" y="137.70" width="9.60" height="8.30" fill="#0000ff"/>
<rect x="413.35" y="137.70" width="9.60" height="8.30" fill="#0000ff"/>
<rect x="424.40" y="137.70" width="9.60" height="8.30" fill="#0000ff"/>
<rect x="435.44" y="137.70" width="9.60" height="8.30" fill="#0000ff"/>
<rect x="446.48" y="137.70" width="9.60" height="8.30" fill="#0000ff"/>
<rect x="457.53" y="137.70" width="9.60" height="8.30" fill="#0000ff"/>
<rect x="468.57" y="137.70" width="9.60" height="8.30" fill="#0000ff"/>
<rect x="479.62" y="137.70" width="9.60" height="8.30" fill="#0000ff"/>
<rect x="490.66" y="137.70" width="9.60" height="8.30" fill="#0000ff"/>
<rect x="501.70" y="137.70" width="9.60" height="8.30" fill="#0000ff"/>
<rect x="512.75" y="137.70" width="9.60" height="8.30" fill="#0000ff"/>
<rect x="523.79" y="137.70" width="9.60" height="8.30" fill="#0000ff"/>
<rect x="534.84" y="137.70" width="9.60" height="8.30" fill="#0000ff"/>
<rect x="545.88" y="137.70" width="9.60" height="8.30" fill="#0000ff"/>
<rect x="556.92" y="137.70" width="9.60" height="8.30" fill="#0000ff"/>
<rect x="567.97" y="137.70" width="9.60" height="8.30" fill="#0000ff"/>
<rect x="579.01" y="137.70" width="9.60" height="8.30" fill="#0000ff"/>
<rect x="590.06" y="137.70" width="9.60" height="8.30" fill="#0000ff"/>
<rect x="601.10" y="137.70" width="9.60" height="8.30" fill="#0000ff"/>
<rect x="612.14" y="137.70" width="9.60" height="8.30" fill="#0000ff"/>
<rect x="623.19" y="137.70" width="9.60" height="8.30" fill="#0000ff"/>
<rect x="634.23" y="137.70" width="9.60" height="8.30" fill="#0000ff"/>
<rect x="645.28" y="137.70" width="9.60" height="8.30" fill="#0000ff"/>
<rect x="656.32" y="137.70" width="9.60" height="8.30" fill="#0000ff"/>
<rect x="25.80" y="147.59" width="21.10" height="8.30" fill="#fff"/>
<text x="37.10" y="153.94" font-size="5.6" text-anchor="middle" style="stroke-width:0.17px">10</text>
<rect x="48.90" y="147.59" width="9.60" height="8.30" fill="#0000ff"/>
<rect x="59.94" y="147.59" width="9.60" height="8.30" fill="#0000ff"/>
<rect x="70.99" y="147.59" width="9.60" height="8.30" fill="#00b0f0"/>
<rect x="82.03" y="147.59" width="9.60" height="8.30" fill="#00b050"/>
<rect x="93.08" y="147.59" width="9.60" height="8.30" fill="#ffff00"/>
<rect x="104.12" y="147.59" width="9.60" height="8.30" fill="#ffff00"/>
<rect x="115.16" y="147.59" width="9.60" height="8.30" fill="#ffff00"/>
<rect x="126.21" y="147.59" width="9.60" height="8.30" fill="#ffff00"/>
<rect x="137.25" y="147.59" width="9.60" height="8.30" fill="#ffffff"/>
<rect x="148.30" y="147.59" width="9.60" height="8.30" fill="#ffff00"/>
<rect x="159.34" y="147.59" width="9.60" height="8.30" fill="#ffff00"/>
<rect x="170.38" y="147.59" width="9.60" height="8.30" fill="#0000ff"/>
<rect x="181.43" y="147.59" width="9.60" height="8.30" fill="#0000ff"/>
<rect x="192.47" y="147.59" width="9.60" height="8.30" fill="#00b050"/>
<rect x="203.52" y="147.59" width="9.60" height="8.30" fill="#0000ff"/>
<rect x="214.56" y="147.59" width="9.60" height="8.30" fill="#ffff00"/>
<rect x="225.60" y="147.59" width="9.60" height="8.30" fill="#00b050"/>
<rect x="236.65" y="147.59" width="9.60" height="8.30" fill="#0000ff"/>
<rect x="247.69" y="147.59" width="9.60" height="8.30" fill="#00b0f0"/>
<rect x="258.74" y="147.59" width="9.60" height="8.30" fill="#ffff00"/>
<rect x="269.78" y="147.59" width="9.60" height="8.30" fill="#0000ff"/>
<rect x="280.82" y="147.59" width="9.60" height="8.30" fill="#0000ff"/>
<rect x="291.87" y="147.59" width="9.60" height="8.30" fill="#00b0f0"/>
<rect x="302.91" y="147.59" width="9.60" height="8.30" fill="#0000ff"/>
<rect x="313.96" y="147.59" width="9.60" height="8.30" fill="#00b0f0"/>
<rect x="325.00" y="147.59" width="9.60" height="8.30" fill="#00b0f0"/>
<rect x="336.04" y="147.59" width="9.60" height="8.30" fill="#0000ff"/>
<rect x="347.09" y="147.59" width="9.60" height="8.30" fill="#0000ff"/>
<rect x="358.13" y="147.59" width="9.60" height="8.30" fill="#0000ff"/>
<rect x="369.18" y="147.59" width="9.60" height="8.30" fill="#0000ff"/>
<rect x="380.22" y="147.59" width="9.60" height="8.30" fill="#0000ff"/>
<rect x="391.26" y="147.59" width="9.60" height="8.30" fill="#0000ff"/>
<rect x="402.31" y="147.59" width="9.60" height="8.30" fill="#0000ff"/>
<rect x="413.35" y="147.59" width="9.60" height="8.30" fill="#0000ff"/>
<rect x="424.40" y="147.59" width="9.60" height="8.30" fill="#0000ff"/>
<rect x="435.44" y="147.59" width="9.60" height="8.30" fill="#0000ff"/>
<rect x="446.48" y="147.59" width="9.60" height="8.30" fill="#0000ff"/>
<rect x="457.53" y="147.59" width="9.60" height="8.30" fill="#0000ff"/>
<rect x="468.57" y="147.59" width="9.60" height="8.30" fill="#0000ff"/>
<rect x="479.62" y="147.59" width="9.60" height="8.30" fill="#0000ff"/>
<rect x="490.66" y="147.59" width="9.60" height="8.30" fill="#0000ff"/>
<rect x="501.70" y="147.59" width="9.60" height="8.30" fill="#0000ff"/>
<rect x="512.75" y="147.59" width="9.60" height="8.30" fill="#0000ff"/>
<rect x="523.79" y="147.59" width="9.60" height="8.30" fill="#0000ff"/>
<rect x="534.84" y="147.59" width="9.60" height="8.30" fill="#0000ff"/>
<rect x="545.88" y="147.59" width="9.60" height="8.30" fill="#0000ff"/>
<rect x="556.92" y="147.59" width="9.60" height="8.30" fill="#0000ff"/>
<rect x="567.97" y="147.59" width="9.60" height="8.30" fill="#0000ff"/>
<rect x="579.01" y="147.59" width="9.60" height="8.30" fill="#0000ff"/>
<rect x="590.06" y="147.59" width="9.60" height="8.30" fill="#0000ff"/>
<rect x="601.10" y="147.59" width="9.60" height="8.30" fill="#0000ff"/>
<rect x="612.14" y="147.59" width="9.60" height="8.30" fill="#0000ff"/>
<rect x="623.19" y="147.59" width="9.60" height="8.30" fill="#0000ff"/>
<rect x="634.23" y="147.59" width="9.60" height="8.30" fill="#0000ff"/>
<rect x="645.28" y="147.59" width="9.60" height="8.30" fill="#0000ff"/>
<rect x="656.32" y="147.59" width="9.60" height="8.30" fill="#0000ff"/>
<rect x="25.80" y="157.47" width="21.10" height="8.30" fill="#fff"/>
<text x="37.10" y="163.82" font-size="5.6" text-anchor="middle" style="stroke-width:0.17px">11</text>
<rect x="48.90" y="157.47" width="9.60" height="8.30" fill="#a6a6a6"/>
<rect x="59.94" y="157.47" width="9.60" height="8.30" fill="#0000ff"/>
<rect x="70.99" y="157.47" width="9.60" height="8.30" fill="#0000ff"/>
<rect x="82.03" y="157.47" width="9.60" height="8.30" fill="#00b050"/>
<rect x="93.08" y="157.47" width="9.60" height="8.30" fill="#ffff00"/>
<rect x="104.12" y="157.47" width="9.60" height="8.30" fill="#ffff00"/>
<rect x="115.16" y="157.47" width="9.60" height="8.30" fill="#ffff00"/>
<rect x="126.21" y="157.47" width="9.60" height="8.30" fill="#a6a6a6"/>
<rect x="137.25" y="157.47" width="9.60" height="8.30" fill="#ffff00"/>
<rect x="148.30" y="157.47" width="9.60" height="8.30" fill="#ffffff"/>
<rect x="159.34" y="157.47" width="9.60" height="8.30" fill="#00b050"/>
<rect x="170.38" y="157.47" width="9.60" height="8.30" fill="#a6a6a6"/>
<rect x="181.43" y="157.47" width="9.60" height="8.30" fill="#0000ff"/>
<rect x="192.47" y="157.47" width="9.60" height="8.30" fill="#0000ff"/>
<rect x="203.52" y="157.47" width="9.60" height="8.30" fill="#0000ff"/>
<rect x="214.56" y="157.47" width="9.60" height="8.30" fill="#a6a6a6"/>
<rect x="225.60" y="157.47" width="9.60" height="8.30" fill="#a6a6a6"/>
<rect x="236.65" y="157.47" width="9.60" height="8.30" fill="#a6a6a6"/>
<rect x="247.69" y="157.47" width="9.60" height="8.30" fill="#a6a6a6"/>
<rect x="258.74" y="157.47" width="9.60" height="8.30" fill="#ffff00"/>
<rect x="269.78" y="157.47" width="9.60" height="8.30" fill="#a6a6a6"/>
<rect x="280.82" y="157.47" width="9.60" height="8.30" fill="#a6a6a6"/>
<rect x="291.87" y="157.47" width="9.60" height="8.30" fill="#a6a6a6"/>
<rect x="302.91" y="157.47" width="9.60" height="8.30" fill="#a6a6a6"/>
<rect x="313.96" y="157.47" width="9.60" height="8.30" fill="#a6a6a6"/>
<rect x="325.00" y="157.47" width="9.60" height="8.30" fill="#a6a6a6"/>
<rect x="336.04" y="157.47" width="9.60" height="8.30" fill="#a6a6a6"/>
<rect x="347.09" y="157.47" width="9.60" height="8.30" fill="#a6a6a6"/>
<rect x="358.13" y="157.47" width="9.60" height="8.30" fill="#a6a6a6"/>
<rect x="369.18" y="157.47" width="9.60" height="8.30" fill="#a6a6a6"/>
<rect x="380.22" y="157.47" width="9.60" height="8.30" fill="#a6a6a6"/>
<rect x="391.26" y="157.47" width="9.60" height="8.30" fill="#a6a6a6"/>
<rect x="402.31" y="157.47" width="9.60" height="8.30" fill="#a6a6a6"/>
<rect x="413.35" y="157.47" width="9.60" height="8.30" fill="#a6a6a6"/>
<rect x="424.40" y="157.47" width="9.60" height="8.30" fill="#a6a6a6"/>
<rect x="435.44" y="157.47" width="9.60" height="8.30" fill="#a6a6a6"/>
<rect x="446.48" y="157.47" width="9.60" height="8.30" fill="#a6a6a6"/>
<rect x="457.53" y="157.47" width="9.60" height="8.30" fill="#a6a6a6"/>
<rect x="468.57" y="157.47" width="9.60" height="8.30" fill="#a6a6a6"/>
<rect x="479.62" y="157.47" width="9.60" height="8.30" fill="#a6a6a6"/>
<rect x="490.66" y="157.47" width="9.60" height="8.30" fill="#a6a6a6"/>
<rect x="501.70" y="157.47" width="9.60" height="8.30" fill="#a6a6a6"/>
<rect x="512.75" y="157.47" width="9.60" height="8.30" fill="#a6a6a6"/>
<rect x="523.79" y="157.47" width="9.60" height="8.30" fill="#a6a6a6"/>
<rect x="534.84" y="157.47" width="9.60" height="8.30" fill="#a6a6a6"/>
<rect x="545.88" y="157.47" width="9.60" height="8.30" fill="#a6a6a6"/>
<rect x="556.92" y="157.47" width="9.60" height="8.30" fill="#a6a6a6"/>
<rect x="567.97" y="157.47" width="9.60" height="8.30" fill="#a6a6a6"/>
<rect x="579.01" y="157.47" width="9.60" height="8.30" fill="#a6a6a6"/>
<rect x="590.06" y="157.47" width="9.60" height="8.30" fill="#a6a6a6"/>
<rect x="601.10" y="157.47" width="9.60" height="8.30" fill="#a6a6a6"/>
<rect x="612.14" y="157.47" width="9.60" height="8.30" fill="#a6a6a6"/>
<rect x="623.19" y="157.47" width="9.60" height="8.30" fill="#a6a6a6"/>
<rect x="634.23" y="157.47" width="9.60" height="8.30" fill="#a6a6a6"/>
<rect x="645.28" y="157.47" width="9.60" height="8.30" fill="#a6a6a6"/>
<rect x="656.32" y="157.47" width="9.60" height="8.30" fill="#a6a6a6"/>
<rect x="25.80" y="167.36" width="21.10" height="8.30" fill="#fff"/>
<text x="37.10" y="173.71" font-size="5.6" text-anchor="middle" style="stroke-width:0.17px">12</text>
<rect x="48.90" y="167.36" width="9.60" height="8.30" fill="#a6a6a6"/>
<rect x="59.94" y="167.36" width="9.60" height="8.30" fill="#0000ff"/>
<rect x="70.99" y="167.36" width="9.60" height="8.30" fill="#00b0f0"/>
<rect x="82.03" y="167.36" width="9.60" height="8.30" fill="#00b050"/>
<rect x="93.08" y="167.36" width="9.60" height="8.30" fill="#ffff00"/>
<rect x="104.12" y="167.36" width="9.60" height="8.30" fill="#ffff00"/>
<rect x="115.16" y="167.36" width="9.60" height="8.30" fill="#ffff00"/>
<rect x="126.21" y="167.36" width="9.60" height="8.30" fill="#00b050"/>
<rect x="137.25" y="167.36" width="9.60" height="8.30" fill="#f79646"/>
<rect x="148.30" y="167.36" width="9.60" height="8.30" fill="#ffff00"/>
<rect x="159.34" y="167.36" width="9.60" height="8.30" fill="#ffffff"/>
<rect x="170.38" y="167.36" width="9.60" height="8.30" fill="#a6a6a6"/>
<rect x="181.43" y="167.36" width="9.60" height="8.30" fill="#0000ff"/>
<rect x="192.47" y="167.36" width="9.60" height="8.30" fill="#ffff00"/>
<rect x="203.52" y="167.36" width="9.60" height="8.30" fill="#0000ff"/>
<rect x="214.56" y="167.36" width="9.60" height="8.30" fill="#ffff00"/>
<rect x="225.60" y="167.36" width="9.60" height="8.30" fill="#00b050"/>
<rect x="236.65" y="167.36" width="9.60" height="8.30" fill="#00b050"/>
<rect x="247.69" y="167.36" width="9.60" height="8.30" fill="#a6a6a6"/>
<rect x="258.74" y="167.36" width="9.60" height="8.30" fill="#ffff00"/>
<rect x="269.78" y="167.36" width="9.60" height="8.30" fill="#00b0f0"/>
<rect x="280.82" y="167.36" width="9.60" height="8.30" fill="#00b0f0"/>
<rect x="291.87" y="167.36" width="9.60" height="8.30" fill="#a6a6a6"/>
<rect x="302.91" y="167.36" width="9.60" height="8.30" fill="#a6a6a6"/>
<rect x="313.96" y="167.36" width="9.60" height="8.30" fill="#0000ff"/>
<rect x="325.00" y="167.36" width="9.60" height="8.30" fill="#0000ff"/>
<rect x="336.04" y="167.36" width="9.60" height="8.30" fill="#0000ff"/>
<rect x="347.09" y="167.36" width="9.60" height="8.30" fill="#0000ff"/>
<rect x="358.13" y="167.36" width="9.60" height="8.30" fill="#0000ff"/>
<rect x="369.18" y="167.36" width="9.60" height="8.30" fill="#0000ff"/>
<rect x="380.22" y="167.36" width="9.60" height="8.30" fill="#0000ff"/>
<rect x="391.26" y="167.36" width="9.60" height="8.30" fill="#0000ff"/>
<rect x="402.31" y="167.36" width="9.60" height="8.30" fill="#0000ff"/>
<rect x="413.35" y="167.36" width="9.60" height="8.30" fill="#0000ff"/>
<rect x="424.40" y="167.36" width="9.60" height="8.30" fill="#0000ff"/>
<rect x="435.44" y="167.36" width="9.60" height="8.30" fill="#0000ff"/>
<rect x="446.48" y="167.36" width="9.60" height="8.30" fill="#0000ff"/>
<rect x="457.53" y="167.36" width="9.60" height="8.30" fill="#0000ff"/>
<rect x="468.57" y="167.36" width="9.60" height="8.30" fill="#a6a6a6"/>
<rect x="479.62" y="167.36" width="9.60" height="8.30" fill="#0000ff"/>
<rect x="490.66" y="167.36" width="9.60" height="8.30" fill="#0000ff"/>
<rect x="501.70" y="167.36" width="9.60" height="8.30" fill="#0000ff"/>
<rect x="512.75" y="167.36" width="9.60" height="8.30" fill="#0000ff"/>
<rect x="523.79" y="167.36" width="9.60" height="8.30" fill="#0000ff"/>
<rect x="534.84" y="167.36" width="9.60" height="8.30" fill="#0000ff"/>
<rect x="545.88" y="167.36" width="9.60" height="8.30" fill="#a6a6a6"/>
<rect x="556.92" y="167.36" width="9.60" height="8.30" fill="#0000ff"/>
<rect x="567.97" y="167.36" width="9.60" height="8.30" fill="#0000ff"/>
<rect x="579.01" y="167.36" width="9.60" height="8.30" fill="#0000ff"/>
<rect x="590.06" y="167.36" width="9.60" height="8.30" fill="#0000ff"/>
<rect x="601.10" y="167.36" width="9.60" height="8.30" fill="#0000ff"/>
<rect x="612.14" y="167.36" width="9.60" height="8.30" fill="#0000ff"/>
<rect x="623.19" y="167.36" width="9.60" height="8.30" fill="#0000ff"/>
<rect x="634.23" y="167.36" width="9.60" height="8.30" fill="#0000ff"/>
<rect x="645.28" y="167.36" width="9.60" height="8.30" fill="#a6a6a6"/>
<rect x="656.32" y="167.36" width="9.60" height="8.30" fill="#0000ff"/>
<rect x="25.80" y="177.25" width="21.10" height="8.30" fill="#fff"/>
<text x="37.10" y="183.60" font-size="5.6" text-anchor="middle" style="stroke-width:0.17px">13</text>
<rect x="48.90" y="177.25" width="9.60" height="8.30" fill="#0000ff"/>
<rect x="59.94" y="177.25" width="9.60" height="8.30" fill="#a6a6a6"/>
<rect x="70.99" y="177.25" width="9.60" height="8.30" fill="#a6a6a6"/>
<rect x="82.03" y="177.25" width="9.60" height="8.30" fill="#a6a6a6"/>
<rect x="93.08" y="177.25" width="9.60" height="8.30" fill="#0000ff"/>
<rect x="104.12" y="177.25" width="9.60" height="8.30" fill="#0000ff"/>
<rect x="115.16" y="177.25" width="9.60" height="8.30" fill="#a6a6a6"/>
<rect x="126.21" y="177.25" width="9.60" height="8.30" fill="#0000ff"/>
<rect x="137.25" y="177.25" width="9.60" height="8.30" fill="#0000ff"/>
<rect x="148.30" y="177.25" width="9.60" height="8.30" fill="#a6a6a6"/>
<rect x="159.34" y="177.25" width="9.60" height="8.30" fill="#a6a6a6"/>
<rect x="170.38" y="177.25" width="9.60" height="8.30" fill="#ffffff"/>
<rect x="181.43" y="177.25" width="9.60" height="8.30" fill="#a6a6a6"/>
<rect x="192.47" y="177.25" width="9.60" height="8.30" fill="#00b050"/>
<rect x="203.52" y="177.25" width="9.60" height="8.30" fill="#a6a6a6"/>
<rect x="214.56" y="177.25" width="9.60" height="8.30" fill="#00b0f0"/>
<rect x="225.60" y="177.25" width="9.60" height="8.30" fill="#00b0f0"/>
<rect x="236.65" y="177.25" width="9.60" height="8.30" fill="#a6a6a6"/>
<rect x="247.69" y="177.25" width="9.60" height="8.30" fill="#0000ff"/>
<rect x="258.74" y="177.25" width="9.60" height="8.30" fill="#a6a6a6"/>
<rect x="269.78" y="177.25" width="9.60" height="8.30" fill="#0000ff"/>
<rect x="280.82" y="177.25" width="9.60" height="8.30" fill="#0000ff"/>
<rect x="291.87" y="177.25" width="9.60" height="8.30" fill="#0000ff"/>
<rect x="302.91" y="177.25" width="9.60" height="8.30" fill="#0000ff"/>
<rect x="313.96" y="177.25" width="9.60" height="8.30" fill="#0000ff"/>
<rect x="325.00" y="177.25" width="9.60" height="8.30" fill="#0000ff"/>
<rect x="336.04" y="177.25" width="9.60" height="8.30" fill="#0000ff"/>
<rect x="347.09" y="177.25" width="9.60" height="8.30" fill="#0000ff"/>
<rect x="358.13" y="177.25" width="9.60" height="8.30" fill="#a6a6a6"/>
<rect x="369.18" y="177.25" width="9.60" height="8.30" fill="#0000ff"/>
<rect x="380.22" y="177.25" width="9.60" height="8.30" fill="#0000ff"/>
<rect x="391.26" y="177.25" width="9.60" height="8.30" fill="#0000ff"/>
<rect x="402.31" y="177.25" width="9.60" height="8.30" fill="#0000ff"/>
<rect x="413.35" y="177.25" width="9.60" height="8.30" fill="#a6a6a6"/>
<rect x="424.40" y="177.25" width="9.60" height="8.30" fill="#0000ff"/>
<rect x="435.44" y="177.25" width="9.60" height="8.30" fill="#0000ff"/>
<rect x="446.48" y="177.25" width="9.60" height="8.30" fill="#0000ff"/>
<rect x="457.53" y="177.25" width="9.60" height="8.30" fill="#a6a6a6"/>
<rect x="468.57" y="177.25" width="9.60" height="8.30" fill="#0000ff"/>
<rect x="479.62" y="177.25" width="9.60" height="8.30" fill="#0000ff"/>
<rect x="490.66" y="177.25" width="9.60" height="8.30" fill="#a6a6a6"/>
<rect x="501.70" y="177.25" width="9.60" height="8.30" fill="#0000ff"/>
<rect x="512.75" y="177.25" width="9.60" height="8.30" fill="#a6a6a6"/>
<rect x="523.79" y="177.25" width="9.60" height="8.30" fill="#0000ff"/>
<rect x="534.84" y="177.25" width="9.60" height="8.30" fill="#0000ff"/>
<rect x="545.88" y="177.25" width="9.60" height="8.30" fill="#0000ff"/>
<rect x="556.92" y="177.25" width="9.60" height="8.30" fill="#0000ff"/>
<rect x="567.97" y="177.25" width="9.60" height="8.30" fill="#0000ff"/>
<rect x="579.01" y="177.25" width="9.60" height="8.30" fill="#0000ff"/>
<rect x="590.06" y="177.25" width="9.60" height="8.30" fill="#0000ff"/>
<rect x="601.10" y="177.25" width="9.60" height="8.30" fill="#a6a6a6"/>
<rect x="612.14" y="177.25" width="9.60" height="8.30" fill="#0000ff"/>
<rect x="623.19" y="177.25" width="9.60" height="8.30" fill="#0000ff"/>
<rect x="634.23" y="177.25" width="9.60" height="8.30" fill="#0000ff"/>
<rect x="645.28" y="177.25" width="9.60" height="8.30" fill="#0000ff"/>
<rect x="656.32" y="177.25" width="9.60" height="8.30" fill="#0000ff"/>
<rect x="25.80" y="187.13" width="21.10" height="8.30" fill="#fff"/>
<text x="37.10" y="193.48" font-size="5.6" text-anchor="middle" style="stroke-width:0.17px">14</text>
<rect x="48.90" y="187.13" width="9.60" height="8.30" fill="#a6a6a6"/>
<rect x="59.94" y="187.13" width="9.60" height="8.30" fill="#0000ff"/>
<rect x="70.99" y="187.13" width="9.60" height="8.30" fill="#0000ff"/>
<rect x="82.03" y="187.13" width="9.60" height="8.30" fill="#0000ff"/>
<rect x="93.08" y="187.13" width="9.60" height="8.30" fill="#0000ff"/>
<rect x="104.12" y="187.13" width="9.60" height="8.30" fill="#0000ff"/>
<rect x="115.16" y="187.13" width="9.60" height="8.30" fill="#0000ff"/>
<rect x="126.21" y="187.13" width="9.60" height="8.30" fill="#a6a6a6"/>
<rect x="137.25" y="187.13" width="9.60" height="8.30" fill="#0000ff"/>
<rect x="148.30" y="187.13" width="9.60" height="8.30" fill="#0000ff"/>
<rect x="159.34" y="187.13" width="9.60" height="8.30" fill="#0000ff"/>
<rect x="170.38" y="187.13" width="9.60" height="8.30" fill="#a6a6a6"/>
<rect x="181.43" y="187.13" width="9.60" height="8.30" fill="#ffffff"/>
<rect x="192.47" y="187.13" width="9.60" height="8.30" fill="#0000ff"/>
<rect x="203.52" y="187.13" width="9.60" height="8.30" fill="#0000ff"/>
<rect x="214.56" y="187.13" width="9.60" height="8.30" fill="#a6a6a6"/>
<rect x="225.60" y="187.13" width="9.60" height="8.30" fill="#a6a6a6"/>
<rect x="236.65" y="187.13" width="9.60" height="8.30" fill="#a6a6a6"/>
<rect x="247.69" y="187.13" width="9.60" height="8.30" fill="#a6a6a6"/>
<rect x="258.74" y="187.13" width="9.60" height="8.30" fill="#0000ff"/>
<rect x="269.78" y="187.13" width="9.60" height="8.30" fill="#a6a6a6"/>
<rect x="280.82" y="187.13" width="9.60" height="8.30" fill="#a6a6a6"/>
<rect x="291.87" y="187.13" width="9.60" height="8.30" fill="#a6a6a6"/>
<rect x="302.91" y="187.13" width="9.60" height="8.30" fill="#a6a6a6"/>
<rect x="313.96" y="187.13" width="9.60" height="8.30" fill="#a6a6a6"/>
<rect x="325.00" y="187.13" width="9.60" height="8.30" fill="#a6a6a6"/>
<rect x="336.04" y="187.13" width="9.60" height="8.30" fill="#a6a6a6"/>
<rect x="347.09" y="187.13" width="9.60" height="8.30" fill="#a6a6a6"/>
<rect x="358.13" y="187.13" width="9.60" height="8.30" fill="#a6a6a6"/>
<rect x="369.18" y="187.13" width="9.60" height="8.30" fill="#a6a6a6"/>
<rect x="380.22" y="187.13" width="9.60" height="8.30" fill="#a6a6a6"/>
<rect x="391.26" y="187.13" width="9.60" height="8.30" fill="#a6a6a6"/>
<rect x="402.31" y="187.13" width="9.60" height="8.30" fill="#a6a6a6"/>
<rect x="413.35" y="187.13" width="9.60" height="8.30" fill="#a6a6a6"/>
<rect x="424.40" y="187.13" width="9.60" height="8.30" fill="#a6a6a6"/>
<rect x="435.44" y="187.13" width="9.60" height="8.30" fill="#a6a6a6"/>
<rect x="446.48" y="187.13" width="9.60" height="8.30" fill="#a6a6a6"/>
<rect x="457.53" y="187.13" width="9.60" height="8.30" fill="#a6a6a6"/>
<rect x="468.57" y="187.13" width="9.60" height="8.30" fill="#a6a6a6"/>
<rect x="479.62" y="187.13" width="9.60" height="8.30" fill="#a6a6a6"/>
<rect x="490.66" y="187.13" width="9.60" height="8.30" fill="#a6a6a6"/>
<rect x="501.70" y="187.13" width="9.60" height="8.30" fill="#a6a6a6"/>
<rect x="512.75" y="187.13" width="9.60" height="8.30" fill="#a6a6a6"/>
<rect x="523.79" y="187.13" width="9.60" height="8.30" fill="#a6a6a6"/>
<rect x="534.84" y="187.13" width="9.60" height="8.30" fill="#a6a6a6"/>
<rect x="545.88" y="187.13" width="9.60" height="8.30" fill="#a6a6a6"/>
<rect x="556.92" y="187.13" width="9.60" height="8.30" fill="#a6a6a6"/>
<rect x="567.97" y="187.13" width="9.60" height="8.30" fill="#a6a6a6"/>
<rect x="579.01" y="187.13" width="9.60" height="8.30" fill="#a6a6a6"/>
<rect x="590.06" y="187.13" width="9.60" height="8.30" fill="#a6a6a6"/>
<rect x="601.10" y="187.13" width="9.60" height="8.30" fill="#a6a6a6"/>
<rect x="612.14" y="187.13" width="9.60" height="8.30" fill="#a6a6a6"/>
<rect x="623.19" y="187.13" width="9.60" height="8.30" fill="#a6a6a6"/>
<rect x="634.23" y="187.13" width="9.60" height="8.30" fill="#a6a6a6"/>
<rect x="645.28" y="187.13" width="9.60" height="8.30" fill="#a6a6a6"/>
<rect x="656.32" y="187.13" width="9.60" height="8.30" fill="#a6a6a6"/>
<rect x="25.80" y="197.02" width="21.10" height="8.30" fill="#fff"/>
<text x="37.10" y="203.37" font-size="5.6" text-anchor="middle" style="stroke-width:0.17px">15</text>
<rect x="48.90" y="197.02" width="9.60" height="8.30" fill="#0000ff"/>
<rect x="59.94" y="197.02" width="9.60" height="8.30" fill="#0000ff"/>
<rect x="70.99" y="197.02" width="9.60" height="8.30" fill="#0000ff"/>
<rect x="82.03" y="197.02" width="9.60" height="8.30" fill="#0000ff"/>
<rect x="93.08" y="197.02" width="9.60" height="8.30" fill="#0000ff"/>
<rect x="104.12" y="197.02" width="9.60" height="8.30" fill="#00b0f0"/>
<rect x="115.16" y="197.02" width="9.60" height="8.30" fill="#0000ff"/>
<rect x="126.21" y="197.02" width="9.60" height="8.30" fill="#00b0f0"/>
<rect x="137.25" y="197.02" width="9.60" height="8.30" fill="#ffff00"/>
<rect x="148.30" y="197.02" width="9.60" height="8.30" fill="#0000ff"/>
<rect x="159.34" y="197.02" width="9.60" height="8.30" fill="#ffff00"/>
<rect x="170.38" y="197.02" width="9.60" height="8.30" fill="#ffff00"/>
<rect x="181.43" y="197.02" width="9.60" height="8.30" fill="#0000ff"/>
<rect x="192.47" y="197.02" width="9.60" height="8.30" fill="#ffffff"/>
<rect x="203.52" y="197.02" width="9.60" height="8.30" fill="#0000ff"/>
<rect x="214.56" y="197.02" width="9.60" height="8.30" fill="#f79646"/>
<rect x="225.60" y="197.02" width="9.60" height="8.30" fill="#ffff00"/>
<rect x="236.65" y="197.02" width="9.60" height="8.30" fill="#00b050"/>
<rect x="247.69" y="197.02" width="9.60" height="8.30" fill="#ffff00"/>
<rect x="258.74" y="197.02" width="9.60" height="8.30" fill="#0000ff"/>
<rect x="269.78" y="197.02" width="9.60" height="8.30" fill="#00b050"/>
<rect x="280.82" y="197.02" width="9.60" height="8.30" fill="#00b050"/>
<rect x="291.87" y="197.02" width="9.60" height="8.30" fill="#00b050"/>
<rect x="302.91" y="197.02" width="9.60" height="8.30" fill="#00b0f0"/>
<rect x="313.96" y="197.02" width="9.60" height="8.30" fill="#00b0f0"/>
<rect x="325.00" y="197.02" width="9.60" height="8.30" fill="#00b0f0"/>
<rect x="336.04" y="197.02" width="9.60" height="8.30" fill="#00b0f0"/>
<rect x="347.09" y="197.02" width="9.60" height="8.30" fill="#0000ff"/>
<rect x="358.13" y="197.02" width="9.60" height="8.30" fill="#0000ff"/>
<rect x="369.18" y="197.02" width="9.60" height="8.30" fill="#0000ff"/>
<rect x="380.22" y="197.02" width="9.60" height="8.30" fill="#0000ff"/>
<rect x="391.26" y="197.02" width="9.60" height="8.30" fill="#0000ff"/>
<rect x="402.31" y="197.02" width="9.60" height="8.30" fill="#0000ff"/>
<rect x="413.35" y="197.02" width="9.60" height="8.30" fill="#0000ff"/>
<rect x="424.40" y="197.02" width="9.60" height="8.30" fill="#0000ff"/>
<rect x="435.44" y="197.02" width="9.60" height="8.30" fill="#0000ff"/>
<rect x="446.48" y="197.02" width="9.60" height="8.30" fill="#0000ff"/>
<rect x="457.53" y="197.02" width="9.60" height="8.30" fill="#0000ff"/>
<rect x="468.57" y="197.02" width="9.60" height="8.30" fill="#0000ff"/>
<rect x="479.62" y="197.02" width="9.60" height="8.30" fill="#0000ff"/>
<rect x="490.66" y="197.02" width="9.60" height="8.30" fill="#0000ff"/>
<rect x="501.70" y="197.02" width="9.60" height="8.30" fill="#0000ff"/>
<rect x="512.75" y="197.02" width="9.60" height="8.30" fill="#0000ff"/>
<rect x="523.79" y="197.02" width="9.60" height="8.30" fill="#0000ff"/>
<rect x="534.84" y="197.02" width="9.60" height="8.30" fill="#0000ff"/>
<rect x="545.88" y="197.02" width="9.60" height="8.30" fill="#0000ff"/>
<rect x="556.92" y="197.02" width="9.60" height="8.30" fill="#0000ff"/>
<rect x="567.97" y="197.02" width="9.60" height="8.30" fill="#0000ff"/>
<rect x="579.01" y="197.02" width="9.60" height="8.30" fill="#0000ff"/>
<rect x="590.06" y="197.02" width="9.60" height="8.30" fill="#0000ff"/>
<rect x="601.10" y="197.02" width="9.60" height="8.30" fill="#0000ff"/>
<rect x="612.14" y="197.02" width="9.60" height="8.30" fill="#0000ff"/>
<rect x="623.19" y="197.02" width="9.60" height="8.30" fill="#0000ff"/>
<rect x="634.23" y="197.02" width="9.60" height="8.30" fill="#0000ff"/>
<rect x="645.28" y="197.02" width="9.60" height="8.30" fill="#0000ff"/>
<rect x="656.32" y="197.02" width="9.60" height="8.30" fill="#0000ff"/>
<rect x="25.80" y="206.90" width="21.10" height="8.30" fill="#fff"/>
<text x="37.10" y="213.25" font-size="5.6" text-anchor="middle" style="stroke-width:0.17px">16</text>
<rect x="48.90" y="206.90" width="9.60" height="8.30" fill="#a6a6a6"/>
<rect x="59.94" y="206.90" width="9.60" height="8.30" fill="#0000ff"/>
<rect x="70.99" y="206.90" width="9.60" height="8.30" fill="#0000ff"/>
<rect x="82.03" y="206.90" width="9.60" height="8.30" fill="#0000ff"/>
<rect x="93.08" y="206.90" width="9.60" height="8.30" fill="#0000ff"/>
<rect x="104.12" y="206.90" width="9.60" height="8.30" fill="#0000ff"/>
<rect x="115.16" y="206.90" width="9.60" height="8.30" fill="#0000ff"/>
<rect x="126.21" y="206.90" width="9.60" height="8.30" fill="#a6a6a6"/>
<rect x="137.25" y="206.90" width="9.60" height="8.30" fill="#0000ff"/>
<rect x="148.30" y="206.90" width="9.60" height="8.30" fill="#0000ff"/>
<rect x="159.34" y="206.90" width="9.60" height="8.30" fill="#0000ff"/>
<rect x="170.38" y="206.90" width="9.60" height="8.30" fill="#a6a6a6"/>
<rect x="181.43" y="206.90" width="9.60" height="8.30" fill="#0000ff"/>
<rect x="192.47" y="206.90" width="9.60" height="8.30" fill="#0000ff"/>
<rect x="203.52" y="206.90" width="9.60" height="8.30" fill="#ffffff"/>
<rect x="214.56" y="206.90" width="9.60" height="8.30" fill="#a6a6a6"/>
<rect x="225.60" y="206.90" width="9.60" height="8.30" fill="#a6a6a6"/>
<rect x="236.65" y="206.90" width="9.60" height="8.30" fill="#a6a6a6"/>
<rect x="247.69" y="206.90" width="9.60" height="8.30" fill="#a6a6a6"/>
<rect x="258.74" y="206.90" width="9.60" height="8.30" fill="#0000ff"/>
<rect x="269.78" y="206.90" width="9.60" height="8.30" fill="#a6a6a6"/>
<rect x="280.82" y="206.90" width="9.60" height="8.30" fill="#a6a6a6"/>
<rect x="291.87" y="206.90" width="9.60" height="8.30" fill="#a6a6a6"/>
<rect x="302.91" y="206.90" width="9.60" height="8.30" fill="#a6a6a6"/>
<rect x="313.96" y="206.90" width="9.60" height="8.30" fill="#a6a6a6"/>
<rect x="325.00" y="206.90" width="9.60" height="8.30" fill="#a6a6a6"/>
<rect x="336.04" y="206.90" width="9.60" height="8.30" fill="#a6a6a6"/>
<rect x="347.09" y="206.90" width="9.60" height="8.30" fill="#a6a6a6"/>
<rect x="358.13" y="206.90" width="9.60" height="8.30" fill="#a6a6a6"/>
<rect x="369.18" y="206.90" width="9.60" height="8.30" fill="#a6a6a6"/>
<rect x="380.22" y="206.90" width="9.60" height="8.30" fill="#a6a6a6"/>
<rect x="391.26" y="206.90" width="9.60" height="8.30" fill="#a6a6a6"/>
<rect x="402.31" y="206.90" width="9.60" height="8.30" fill="#a6a6a6"/>
<rect x="413.35" y="206.90" width="9.60" height="8.30" fill="#a6a6a6"/>
<rect x="424.40" y="206.90" width="9.60" height="8.30" fill="#a6a6a6"/>
<rect x="435.44" y="206.90" width="9.60" height="8.30" fill="#a6a6a6"/>
<rect x="446.48" y="206.90" width="9.60" height="8.30" fill="#a6a6a6"/>
<rect x="457.53" y="206.90" width="9.60" height="8.30" fill="#a6a6a6"/>
<rect x="468.57" y="206.90" width="9.60" height="8.30" fill="#a6a6a6"/>
<rect x="479.62" y="206.90" width="9.60" height="8.30" fill="#a6a6a6"/>
<rect x="490.66" y="206.90" width="9.60" height="8.30" fill="#a6a6a6"/>
<rect x="501.70" y="206.90" width="9.60" height="8.30" fill="#a6a6a6"/>
<rect x="512.75" y="206.90" width="9.60" height="8.30" fill="#a6a6a6"/>
<rect x="523.79" y="206.90" width="9.60" height="8.30" fill="#a6a6a6"/>
<rect x="534.84" y="206.90" width="9.60" height="8.30" fill="#a6a6a6"/>
<rect x="545.88" y="206.90" width="9.60" height="8.30" fill="#a6a6a6"/>
<rect x="556.92" y="206.90" width="9.60" height="8.30" fill="#a6a6a6"/>
<rect x="567.97" y="206.90" width="9.60" height="8.30" fill="#a6a6a6"/>
<rect x="579.01" y="206.90" width="9.60" height="8.30" fill="#a6a6a6"/>
<rect x="590.06" y="206.90" width="9.60" height="8.30" fill="#a6a6a6"/>
<rect x="601.10" y="206.90" width="9.60" height="8.30" fill="#a6a6a6"/>
<rect x="612.14" y="206.90" width="9.60" height="8.30" fill="#a6a6a6"/>
<rect x="623.19" y="206.90" width="9.60" height="8.30" fill="#a6a6a6"/>
<rect x="634.23" y="206.90" width="9.60" height="8.30" fill="#a6a6a6"/>
<rect x="645.28" y="206.90" width="9.60" height="8.30" fill="#a6a6a6"/>
<rect x="656.32" y="206.90" width="9.60" height="8.30" fill="#a6a6a6"/>
<rect x="25.80" y="216.79" width="21.10" height="8.30" fill="#fff"/>
<text x="37.10" y="223.14" font-size="5.6" text-anchor="middle" style="stroke-width:0.17px">17</text>
<rect x="48.90" y="216.79" width="9.60" height="8.30" fill="#0000ff"/>
<rect x="59.94" y="216.79" width="9.60" height="8.30" fill="#a6a6a6"/>
<rect x="70.99" y="216.79" width="9.60" height="8.30" fill="#0000ff"/>
<rect x="82.03" y="216.79" width="9.60" height="8.30" fill="#a6a6a6"/>
<rect x="93.08" y="216.79" width="9.60" height="8.30" fill="#0000ff"/>
<rect x="104.12" y="216.79" width="9.60" height="8.30" fill="#00b050"/>
<rect x="115.16" y="216.79" width="9.60" height="8.30" fill="#a6a6a6"/>
<rect x="126.21" y="216.79" width="9.60" height="8.30" fill="#00b050"/>
<rect x="137.25" y="216.79" width="9.60" height="8.30" fill="#ffff00"/>
<rect x="148.30" y="216.79" width="9.60" height="8.30" fill="#a6a6a6"/>
<rect x="159.34" y="216.79" width="9.60" height="8.30" fill="#00b050"/>
<rect x="170.38" y="216.79" width="9.60" height="8.30" fill="#00b0f0"/>
<rect x="181.43" y="216.79" width="9.60" height="8.30" fill="#a6a6a6"/>
<rect x="192.47" y="216.79" width="9.60" height="8.30" fill="#f79646"/>
<rect x="203.52" y="216.79" width="9.60" height="8.30" fill="#a6a6a6"/>
<rect x="214.56" y="216.79" width="9.60" height="8.30" fill="#ffffff"/>
<rect x="225.60" y="216.79" width="9.60" height="8.30" fill="#f79646"/>
<rect x="236.65" y="216.79" width="9.60" height="8.30" fill="#00b050"/>
<rect x="247.69" y="216.79" width="9.60" height="8.30" fill="#ffff00"/>
<rect x="258.74" y="216.79" width="9.60" height="8.30" fill="#a6a6a6"/>
<rect x="269.78" y="216.79" width="9.60" height="8.30" fill="#ffff00"/>
<rect x="280.82" y="216.79" width="9.60" height="8.30" fill="#00b050"/>
<rect x="291.87" y="216.79" width="9.60" height="8.30" fill="#ffff00"/>
<rect x="302.91" y="216.79" width="9.60" height="8.30" fill="#00b0f0"/>
<rect x="313.96" y="216.79" width="9.60" height="8.30" fill="#00b050"/>
<rect x="325.00" y="216.79" width="9.60" height="8.30" fill="#00b050"/>
<rect x="336.04" y="216.79" width="9.60" height="8.30" fill="#00b050"/>
<rect x="347.09" y="216.79" width="9.60" height="8.30" fill="#00b0f0"/>
<rect x="358.13" y="216.79" width="9.60" height="8.30" fill="#0000ff"/>
<rect x="369.18" y="216.79" width="9.60" height="8.30" fill="#0000ff"/>
<rect x="380.22" y="216.79" width="9.60" height="8.30" fill="#0000ff"/>
<rect x="391.26" y="216.79" width="9.60" height="8.30" fill="#00b0f0"/>
<rect x="402.31" y="216.79" width="9.60" height="8.30" fill="#00b0f0"/>
<rect x="413.35" y="216.79" width="9.60" height="8.30" fill="#0000ff"/>
<rect x="424.40" y="216.79" width="9.60" height="8.30" fill="#0000ff"/>
<rect x="435.44" y="216.79" width="9.60" height="8.30" fill="#0000ff"/>
<rect x="446.48" y="216.79" width="9.60" height="8.30" fill="#0000ff"/>
<rect x="457.53" y="216.79" width="9.60" height="8.30" fill="#0000ff"/>
<rect x="468.57" y="216.79" width="9.60" height="8.30" fill="#0000ff"/>
<rect x="479.62" y="216.79" width="9.60" height="8.30" fill="#0000ff"/>
<rect x="490.66" y="216.79" width="9.60" height="8.30" fill="#0000ff"/>
<rect x="501.70" y="216.79" width="9.60" height="8.30" fill="#0000ff"/>
<rect x="512.75" y="216.79" width="9.60" height="8.30" fill="#0000ff"/>
<rect x="523.79" y="216.79" width="9.60" height="8.30" fill="#0000ff"/>
<rect x="534.84" y="216.79" width="9.60" height="8.30" fill="#0000ff"/>
<rect x="545.88" y="216.79" width="9.60" height="8.30" fill="#0000ff"/>
<rect x="556.92" y="216.79" width="9.60" height="8.30" fill="#0000ff"/>
<rect x="567.97" y="216.79" width="9.60" height="8.30" fill="#0000ff"/>
<rect x="579.01" y="216.79" width="9.60" height="8.30" fill="#0000ff"/>
<rect x="590.06" y="216.79" width="9.60" height="8.30" fill="#0000ff"/>
<rect x="601.10" y="216.79" width="9.60" height="8.30" fill="#0000ff"/>
<rect x="612.14" y="216.79" width="9.60" height="8.30" fill="#0000ff"/>
<rect x="623.19" y="216.79" width="9.60" height="8.30" fill="#0000ff"/>
<rect x="634.23" y="216.79" width="9.60" height="8.30" fill="#0000ff"/>
<rect x="645.28" y="216.79" width="9.60" height="8.30" fill="#0000ff"/>
<rect x="656.32" y="216.79" width="9.60" height="8.30" fill="#0000ff"/>
<rect x="25.80" y="226.68" width="21.10" height="8.30" fill="#fff"/>
<text x="37.10" y="233.03" font-size="5.6" text-anchor="middle" style="stroke-width:0.17px">18</text>
<rect x="48.90" y="226.68" width="9.60" height="8.30" fill="#0000ff"/>
<rect x="59.94" y="226.68" width="9.60" height="8.30" fill="#a6a6a6"/>
<rect x="70.99" y="226.68" width="9.60" height="8.30" fill="#0000ff"/>
<rect x="82.03" y="226.68" width="9.60" height="8.30" fill="#a6a6a6"/>
<rect x="93.08" y="226.68" width="9.60" height="8.30" fill="#0000ff"/>
<rect x="104.12" y="226.68" width="9.60" height="8.30" fill="#00b0f0"/>
<rect x="115.16" y="226.68" width="9.60" height="8.30" fill="#a6a6a6"/>
<rect x="126.21" y="226.68" width="9.60" height="8.30" fill="#00b050"/>
<rect x="137.25" y="226.68" width="9.60" height="8.30" fill="#ffff00"/>
<rect x="148.30" y="226.68" width="9.60" height="8.30" fill="#a6a6a6"/>
<rect x="159.34" y="226.68" width="9.60" height="8.30" fill="#00b050"/>
<rect x="170.38" y="226.68" width="9.60" height="8.30" fill="#00b0f0"/>
<rect x="181.43" y="226.68" width="9.60" height="8.30" fill="#a6a6a6"/>
<rect x="192.47" y="226.68" width="9.60" height="8.30" fill="#ffff00"/>
<rect x="203.52" y="226.68" width="9.60" height="8.30" fill="#a6a6a6"/>
<rect x="214.56" y="226.68" width="9.60" height="8.30" fill="#f79646"/>
<rect x="225.60" y="226.68" width="9.60" height="8.30" fill="#ffffff"/>
<rect x="236.65" y="226.68" width="9.60" height="8.30" fill="#ffff00"/>
<rect x="247.69" y="226.68" width="9.60" height="8.30" fill="#ffff00"/>
<rect x="258.74" y="226.68" width="9.60" height="8.30" fill="#a6a6a6"/>
<rect x="269.78" y="226.68" width="9.60" height="8.30" fill="#ffff00"/>
<rect x="280.82" y="226.68" width="9.60" height="8.30" fill="#00b050"/>
<rect x="291.87" y="226.68" width="9.60" height="8.30" fill="#00b050"/>
<rect x="302.91" y="226.68" width="9.60" height="8.30" fill="#00b050"/>
<rect x="313.96" y="226.68" width="9.60" height="8.30" fill="#ffff00"/>
<rect x="325.00" y="226.68" width="9.60" height="8.30" fill="#00b050"/>
<rect x="336.04" y="226.68" width="9.60" height="8.30" fill="#00b050"/>
<rect x="347.09" y="226.68" width="9.60" height="8.30" fill="#00b050"/>
<rect x="358.13" y="226.68" width="9.60" height="8.30" fill="#0000ff"/>
<rect x="369.18" y="226.68" width="9.60" height="8.30" fill="#0000ff"/>
<rect x="380.22" y="226.68" width="9.60" height="8.30" fill="#0000ff"/>
<rect x="391.26" y="226.68" width="9.60" height="8.30" fill="#00b0f0"/>
<rect x="402.31" y="226.68" width="9.60" height="8.30" fill="#00b0f0"/>
<rect x="413.35" y="226.68" width="9.60" height="8.30" fill="#0000ff"/>
<rect x="424.40" y="226.68" width="9.60" height="8.30" fill="#0000ff"/>
<rect x="435.44" y="226.68" width="9.60" height="8.30" fill="#00b0f0"/>
<rect x="446.48" y="226.68" width="9.60" height="8.30" fill="#0000ff"/>
<rect x="457.53" y="226.68" width="9.60" height="8.30" fill="#0000ff"/>
<rect x="468.57" y="226.68" width="9.60" height="8.30" fill="#0000ff"/>
<rect x="479.62" y="226.68" width="9.60" height="8.30" fill="#0000ff"/>
<rect x="490.66" y="226.68" width="9.60" height="8.30" fill="#0000ff"/>
<rect x="501.70" y="226.68" width="9.60" height="8.30" fill="#0000ff"/>
<rect x="512.75" y="226.68" width="9.60" height="8.30" fill="#0000ff"/>
<rect x="523.79" y="226.68" width="9.60" height="8.30" fill="#0000ff"/>
<rect x="534.84" y="226.68" width="9.60" height="8.30" fill="#0000ff"/>
<rect x="545.88" y="226.68" width="9.60" height="8.30" fill="#0000ff"/>
<rect x="556.92" y="226.68" width="9.60" height="8.30" fill="#0000ff"/>
<rect x="567.97" y="226.68" width="9.60" height="8.30" fill="#0000ff"/>
<rect x="579.01" y="226.68" width="9.60" height="8.30" fill="#0000ff"/>
<rect x="590.06" y="226.68" width="9.60" height="8.30" fill="#0000ff"/>
<rect x="601.10" y="226.68" width="9.60" height="8.30" fill="#0000ff"/>
<rect x="612.14" y="226.68" width="9.60" height="8.30" fill="#0000ff"/>
<rect x="623.19" y="226.68" width="9.60" height="8.30" fill="#0000ff"/>
<rect x="634.23" y="226.68" width="9.60" height="8.30" fill="#0000ff"/>
<rect x="645.28" y="226.68" width="9.60" height="8.30" fill="#0000ff"/>
<rect x="656.32" y="226.68" width="9.60" height="8.30" fill="#0000ff"/>
<rect x="25.80" y="236.56" width="21.10" height="8.30" fill="#fff"/>
<text x="37.10" y="242.91" font-size="5.6" text-anchor="middle" style="stroke-width:0.17px">19</text>
<rect x="48.90" y="236.56" width="9.60" height="8.30" fill="#a6a6a6"/>
<rect x="59.94" y="236.56" width="9.60" height="8.30" fill="#a6a6a6"/>
<rect x="70.99" y="236.56" width="9.60" height="8.30" fill="#0000ff"/>
<rect x="82.03" y="236.56" width="9.60" height="8.30" fill="#a6a6a6"/>
<rect x="93.08" y="236.56" width="9.60" height="8.30" fill="#0000ff"/>
<rect x="104.12" y="236.56" width="9.60" height="8.30" fill="#0000ff"/>
<rect x="115.16" y="236.56" width="9.60" height="8.30" fill="#a6a6a6"/>
<rect x="126.21" y="236.56" width="9.60" height="8.30" fill="#00b0f0"/>
<rect x="137.25" y="236.56" width="9.60" height="8.30" fill="#00b050"/>
<rect x="148.30" y="236.56" width="9.60" height="8.30" fill="#a6a6a6"/>
<rect x="159.34" y="236.56" width="9.60" height="8.30" fill="#00b050"/>
<rect x="170.38" y="236.56" width="9.60" height="8.30" fill="#a6a6a6"/>
<rect x="181.43" y="236.56" width="9.60" height="8.30" fill="#a6a6a6"/>
<rect x="192.47" y="236.56" width="9.60" height="8.30" fill="#ffff00"/>
<rect x="203.52" y="236.56" width="9.60" height="8.30" fill="#a6a6a6"/>
<rect x="214.56" y="236.56" width="9.60" height="8.30" fill="#ffff00"/>
<rect x="225.60" y="236.56" width="9.60" height="8.30" fill="#f79646"/>
<rect x="236.65" y="236.56" width="9.60" height="8.30" fill="#ffffff"/>
<rect x="247.69" y="236.56" width="9.60" height="8.30" fill="#a6a6a6"/>
<rect x="258.74" y="236.56" width="9.60" height="8.30" fill="#a6a6a6"/>
<rect x="269.78" y="236.56" width="9.60" height="8.30" fill="#f79646"/>
<rect x="280.82" y="236.56" width="9.60" height="8.30" fill="#ffff00"/>
<rect x="291.87" y="236.56" width="9.60" height="8.30" fill="#a6a6a6"/>
<rect x="302.91" y="236.56" width="9.60" height="8.30" fill="#a6a6a6"/>
<rect x="313.96" y="236.56" width="9.60" height="8.30" fill="#00b050"/>
<rect x="325.00" y="236.56" width="9.60" height="8.30" fill="#00b050"/>
<rect x="336.04" y="236.56" width="9.60" height="8.30" fill="#00b050"/>
<rect x="347.09" y="236.56" width="9.60" height="8.30" fill="#00b050"/>
<rect x="358.13" y="236.56" width="9.60" height="8.30" fill="#00b0f0"/>
<rect x="369.18" y="236.56" width="9.60" height="8.30" fill="#0000ff"/>
<rect x="380.22" y="236.56" width="9.60" height="8.30" fill="#0000ff"/>
<rect x="391.26" y="236.56" width="9.60" height="8.30" fill="#0000ff"/>
<rect x="402.31" y="236.56" width="9.60" height="8.30" fill="#0000ff"/>
<rect x="413.35" y="236.56" width="9.60" height="8.30" fill="#0000ff"/>
<rect x="424.40" y="236.56" width="9.60" height="8.30" fill="#0000ff"/>
<rect x="435.44" y="236.56" width="9.60" height="8.30" fill="#0000ff"/>
<rect x="446.48" y="236.56" width="9.60" height="8.30" fill="#0000ff"/>
<rect x="457.53" y="236.56" width="9.60" height="8.30" fill="#0000ff"/>
<rect x="468.57" y="236.56" width="9.60" height="8.30" fill="#a6a6a6"/>
<rect x="479.62" y="236.56" width="9.60" height="8.30" fill="#0000ff"/>
<rect x="490.66" y="236.56" width="9.60" height="8.30" fill="#0000ff"/>
<rect x="501.70" y="236.56" width="9.60" height="8.30" fill="#0000ff"/>
<rect x="512.75" y="236.56" width="9.60" height="8.30" fill="#0000ff"/>
<rect x="523.79" y="236.56" width="9.60" height="8.30" fill="#0000ff"/>
<rect x="534.84" y="236.56" width="9.60" height="8.30" fill="#0000ff"/>
<rect x="545.88" y="236.56" width="9.60" height="8.30" fill="#a6a6a6"/>
<rect x="556.92" y="236.56" width="9.60" height="8.30" fill="#0000ff"/>
<rect x="567.97" y="236.56" width="9.60" height="8.30" fill="#0000ff"/>
<rect x="579.01" y="236.56" width="9.60" height="8.30" fill="#0000ff"/>
<rect x="590.06" y="236.56" width="9.60" height="8.30" fill="#0000ff"/>
<rect x="601.10" y="236.56" width="9.60" height="8.30" fill="#0000ff"/>
<rect x="612.14" y="236.56" width="9.60" height="8.30" fill="#0000ff"/>
<rect x="623.19" y="236.56" width="9.60" height="8.30" fill="#0000ff"/>
<rect x="634.23" y="236.56" width="9.60" height="8.30" fill="#0000ff"/>
<rect x="645.28" y="236.56" width="9.60" height="8.30" fill="#a6a6a6"/>
<rect x="656.32" y="236.56" width="9.60" height="8.30" fill="#0000ff"/>
<rect x="25.80" y="246.45" width="21.10" height="8.30" fill="#fff"/>
<text x="37.10" y="252.80" font-size="5.6" text-anchor="middle" style="stroke-width:0.17px">20</text>
<rect x="48.90" y="246.45" width="9.60" height="8.30" fill="#0000ff"/>
<rect x="59.94" y="246.45" width="9.60" height="8.30" fill="#a6a6a6"/>
<rect x="70.99" y="246.45" width="9.60" height="8.30" fill="#a6a6a6"/>
<rect x="82.03" y="246.45" width="9.60" height="8.30" fill="#a6a6a6"/>
<rect x="93.08" y="246.45" width="9.60" height="8.30" fill="#0000ff"/>
<rect x="104.12" y="246.45" width="9.60" height="8.30" fill="#0000ff"/>
<rect x="115.16" y="246.45" width="9.60" height="8.30" fill="#a6a6a6"/>
<rect x="126.21" y="246.45" width="9.60" height="8.30" fill="#0000ff"/>
<rect x="137.25" y="246.45" width="9.60" height="8.30" fill="#00b050"/>
<rect x="148.30" y="246.45" width="9.60" height="8.30" fill="#a6a6a6"/>
<rect x="159.34" y="246.45" width="9.60" height="8.30" fill="#a6a6a6"/>
<rect x="170.38" y="246.45" width="9.60" height="8.30" fill="#00b0f0"/>
<rect x="181.43" y="246.45" width="9.60" height="8.30" fill="#a6a6a6"/>
<rect x="192.47" y="246.45" width="9.60" height="8.30" fill="#ffff00"/>
<rect x="203.52" y="246.45" width="9.60" height="8.30" fill="#a6a6a6"/>
<rect x="214.56" y="246.45" width="9.60" height="8.30" fill="#ffff00"/>
<rect x="225.60" y="246.45" width="9.60" height="8.30" fill="#f79646"/>
<rect x="236.65" y="246.45" width="9.60" height="8.30" fill="#a6a6a6"/>
<rect x="247.69" y="246.45" width="9.60" height="8.30" fill="#ffffff"/>
<rect x="258.74" y="246.45" width="9.60" height="8.30" fill="#a6a6a6"/>
<rect x="269.78" y="246.45" width="9.60" height="8.30" fill="#f79646"/>
<rect x="280.82" y="246.45" width="9.60" height="8.30" fill="#ffff00"/>
<rect x="291.87" y="246.45" width="9.60" height="8.30" fill="#ffff00"/>
<rect x="302.91" y="246.45" width="9.60" height="8.30" fill="#00b050"/>
<rect x="313.96" y="246.45" width="9.60" height="8.30" fill="#00b050"/>
<rect x="325.00" y="246.45" width="9.60" height="8.30" fill="#00b050"/>
<rect x="336.04" y="246.45" width="9.60" height="8.30" fill="#00b0f0"/>
<rect x="347.09" y="246.45" width="9.60" height="8.30" fill="#00b0f0"/>
<rect x="358.13" y="246.45" width="9.60" height="8.30" fill="#a6a6a6"/>
<rect x="369.18" y="246.45" width="9.60" height="8.30" fill="#00b0f0"/>
<rect x="380.22" y="246.45" width="9.60" height="8.30" fill="#0000ff"/>
<rect x="391.26" y="246.45" width="9.60" height="8.30" fill="#0000ff"/>
<rect x="402.31" y="246.45" width="9.60" height="8.30" fill="#00b0f0"/>
<rect x="413.35" y="246.45" width="9.60" height="8.30" fill="#a6a6a6"/>
<rect x="424.40" y="246.45" width="9.60" height="8.30" fill="#0000ff"/>
<rect x="435.44" y="246.45" width="9.60" height="8.30" fill="#0000ff"/>
<rect x="446.48" y="246.45" width="9.60" height="8.30" fill="#0000ff"/>
<rect x="457.53" y="246.45" width="9.60" height="8.30" fill="#a6a6a6"/>
<rect x="468.57" y="246.45" width="9.60" height="8.30" fill="#0000ff"/>
<rect x="479.62" y="246.45" width="9.60" height="8.30" fill="#0000ff"/>
<rect x="490.66" y="246.45" width="9.60" height="8.30" fill="#a6a6a6"/>
<rect x="501.70" y="246.45" width="9.60" height="8.30" fill="#0000ff"/>
<rect x="512.75" y="246.45" width="9.60" height="8.30" fill="#a6a6a6"/>
<rect x="523.79" y="246.45" width="9.60" height="8.30" fill="#0000ff"/>
<rect x="534.84" y="246.45" width="9.60" height="8.30" fill="#0000ff"/>
<rect x="545.88" y="246.45" width="9.60" height="8.30" fill="#0000ff"/>
<rect x="556.92" y="246.45" width="9.60" height="8.30" fill="#0000ff"/>
<rect x="567.97" y="246.45" width="9.60" height="8.30" fill="#0000ff"/>
<rect x="579.01" y="246.45" width="9.60" height="8.30" fill="#0000ff"/>
<rect x="590.06" y="246.45" width="9.60" height="8.30" fill="#0000ff"/>
<rect x="601.10" y="246.45" width="9.60" height="8.30" fill="#a6a6a6"/>
<rect x="612.14" y="246.45" width="9.60" height="8.30" fill="#0000ff"/>
<rect x="623.19" y="246.45" width="9.60" height="8.30" fill="#0000ff"/>
<rect x="634.23" y="246.45" width="9.60" height="8.30" fill="#0000ff"/>
<rect x="645.28" y="246.45" width="9.60" height="8.30" fill="#0000ff"/>
<rect x="656.32" y="246.45" width="9.60" height="8.30" fill="#0000ff"/>
<rect x="25.80" y="256.33" width="21.10" height="8.30" fill="#fff"/>
<text x="37.10" y="262.68" font-size="5.6" text-anchor="middle" style="stroke-width:0.17px">21</text>
<rect x="48.90" y="256.33" width="9.60" height="8.30" fill="#a6a6a6"/>
<rect x="59.94" y="256.33" width="9.60" height="8.30" fill="#00b0f0"/>
<rect x="70.99" y="256.33" width="9.60" height="8.30" fill="#ffff00"/>
<rect x="82.03" y="256.33" width="9.60" height="8.30" fill="#ff0000"/>
<rect x="93.08" y="256.33" width="9.60" height="8.30" fill="#ff0000"/>
<rect x="104.12" y="256.33" width="9.60" height="8.30" fill="#ff0000"/>
<rect x="115.16" y="256.33" width="9.60" height="8.30" fill="#ff0000"/>
<rect x="126.21" y="256.33" width="9.60" height="8.30" fill="#a6a6a6"/>
<rect x="137.25" y="256.33" width="9.60" height="8.30" fill="#ff0000"/>
<rect x="148.30" y="256.33" width="9.60" height="8.30" fill="#ff0000"/>
<rect x="159.34" y="256.33" width="9.60" height="8.30" fill="#f79646"/>
<rect x="170.38" y="256.33" width="9.60" height="8.30" fill="#a6a6a6"/>
<rect x="181.43" y="256.33" width="9.60" height="8.30" fill="#00b0f0"/>
<rect x="192.47" y="256.33" width="9.60" height="8.30" fill="#00b0f0"/>
<rect x="203.52" y="256.33" width="9.60" height="8.30" fill="#0000ff"/>
<rect x="214.56" y="256.33" width="9.60" height="8.30" fill="#a6a6a6"/>
<rect x="225.60" y="256.33" width="9.60" height="8.30" fill="#a6a6a6"/>
<rect x="236.65" y="256.33" width="9.60" height="8.30" fill="#a6a6a6"/>
<rect x="247.69" y="256.33" width="9.60" height="8.30" fill="#a6a6a6"/>
<rect x="258.74" y="256.33" width="9.60" height="8.30" fill="#ffffff"/>
<rect x="269.78" y="256.33" width="9.60" height="8.30" fill="#a6a6a6"/>
<rect x="280.82" y="256.33" width="9.60" height="8.30" fill="#a6a6a6"/>
<rect x="291.87" y="256.33" width="9.60" height="8.30" fill="#a6a6a6"/>
<rect x="302.91" y="256.33" width="9.60" height="8.30" fill="#a6a6a6"/>
<rect x="313.96" y="256.33" width="9.60" height="8.30" fill="#a6a6a6"/>
<rect x="325.00" y="256.33" width="9.60" height="8.30" fill="#a6a6a6"/>
<rect x="336.04" y="256.33" width="9.60" height="8.30" fill="#a6a6a6"/>
<rect x="347.09" y="256.33" width="9.60" height="8.30" fill="#a6a6a6"/>
<rect x="358.13" y="256.33" width="9.60" height="8.30" fill="#a6a6a6"/>
<rect x="369.18" y="256.33" width="9.60" height="8.30" fill="#a6a6a6"/>
<rect x="380.22" y="256.33" width="9.60" height="8.30" fill="#a6a6a6"/>
<rect x="391.26" y="256.33" width="9.60" height="8.30" fill="#a6a6a6"/>
<rect x="402.31" y="256.33" width="9.60" height="8.30" fill="#a6a6a6"/>
<rect x="413.35" y="256.33" width="9.60" height="8.30" fill="#a6a6a6"/>
<rect x="424.40" y="256.33" width="9.60" height="8.30" fill="#a6a6a6"/>
<rect x="435.44" y="256.33" width="9.60" height="8.30" fill="#a6a6a6"/>
<rect x="446.48" y="256.33" width="9.60" height="8.30" fill="#a6a6a6"/>
<rect x="457.53" y="256.33" width="9.60" height="8.30" fill="#a6a6a6"/>
<rect x="468.57" y="256.33" width="9.60" height="8.30" fill="#a6a6a6"/>
<rect x="479.62" y="256.33" width="9.60" height="8.30" fill="#a6a6a6"/>
<rect x="490.66" y="256.33" width="9.60" height="8.30" fill="#a6a6a6"/>
<rect x="501.70" y="256.33" width="9.60" height="8.30" fill="#a6a6a6"/>
<rect x="512.75" y="256.33" width="9.60" height="8.30" fill="#a6a6a6"/>
<rect x="523.79" y="256.33" width="9.60" height="8.30" fill="#a6a6a6"/>
<rect x="534.84" y="256.33" width="9.60" height="8.30" fill="#a6a6a6"/>
<rect x="545.88" y="256.33" width="9.60" height="8.30" fill="#a6a6a6"/>
<rect x="556.92" y="256.33" width="9.60" height="8.30" fill="#a6a6a6"/>
<rect x="567.97" y="256.33" width="9.60" height="8.30" fill="#a6a6a6"/>
<rect x="579.01" y="256.33" width="9.60" height="8.30" fill="#a6a6a6"/>
<rect x="590.06" y="256.33" width="9.60" height="8.30" fill="#a6a6a6"/>
<rect x="601.10" y="256.33" width="9.60" height="8.30" fill="#a6a6a6"/>
<rect x="612.14" y="256.33" width="9.60" height="8.30" fill="#a6a6a6"/>
<rect x="623.19" y="256.33" width="9.60" height="8.30" fill="#a6a6a6"/>
<rect x="634.23" y="256.33" width="9.60" height="8.30" fill="#a6a6a6"/>
<rect x="645.28" y="256.33" width="9.60" height="8.30" fill="#a6a6a6"/>
<rect x="656.32" y="256.33" width="9.60" height="8.30" fill="#a6a6a6"/>
<rect x="25.80" y="266.22" width="21.10" height="8.30" fill="#fff"/>
<text x="37.10" y="272.57" font-size="5.6" text-anchor="middle" style="stroke-width:0.17px">22</text>
<rect x="48.90" y="266.22" width="9.60" height="8.30" fill="#0000ff"/>
<rect x="59.94" y="266.22" width="9.60" height="8.30" fill="#a6a6a6"/>
<rect x="70.99" y="266.22" width="9.60" height="8.30" fill="#0000ff"/>
<rect x="82.03" y="266.22" width="9.60" height="8.30" fill="#a6a6a6"/>
<rect x="93.08" y="266.22" width="9.60" height="8.30" fill="#0000ff"/>
<rect x="104.12" y="266.22" width="9.60" height="8.30" fill="#0000ff"/>
<rect x="115.16" y="266.22" width="9.60" height="8.30" fill="#a6a6a6"/>
<rect x="126.21" y="266.22" width="9.60" height="8.30" fill="#00b0f0"/>
<rect x="137.25" y="266.22" width="9.60" height="8.30" fill="#00b050"/>
<rect x="148.30" y="266.22" width="9.60" height="8.30" fill="#a6a6a6"/>
<rect x="159.34" y="266.22" width="9.60" height="8.30" fill="#00b050"/>
<rect x="170.38" y="266.22" width="9.60" height="8.30" fill="#00b0f0"/>
<rect x="181.43" y="266.22" width="9.60" height="8.30" fill="#a6a6a6"/>
<rect x="192.47" y="266.22" width="9.60" height="8.30" fill="#ffff00"/>
<rect x="203.52" y="266.22" width="9.60" height="8.30" fill="#a6a6a6"/>
<rect x="214.56" y="266.22" width="9.60" height="8.30" fill="#ffff00"/>
<rect x="225.60" y="266.22" width="9.60" height="8.30" fill="#f79646"/>
<rect x="236.65" y="266.22" width="9.60" height="8.30" fill="#f79646"/>
<rect x="247.69" y="266.22" width="9.60" height="8.30" fill="#f79646"/>
<rect x="258.74" y="266.22" width="9.60" height="8.30" fill="#a6a6a6"/>
<rect x="269.78" y="266.22" width="9.60" height="8.30" fill="#ffffff"/>
<rect x="280.82" y="266.22" width="9.60" height="8.30" fill="#f79646"/>
<rect x="291.87" y="266.22" width="9.60" height="8.30" fill="#f79646"/>
<rect x="302.91" y="266.22" width="9.60" height="8.30" fill="#ffff00"/>
<rect x="313.96" y="266.22" width="9.60" height="8.30" fill="#ffff00"/>
<rect x="325.00" y="266.22" width="9.60" height="8.30" fill="#ffff00"/>
<rect x="336.04" y="266.22" width="9.60" height="8.30" fill="#ffff00"/>
<rect x="347.09" y="266.22" width="9.60" height="8.30" fill="#00b050"/>
<rect x="358.13" y="266.22" width="9.60" height="8.30" fill="#00b0f0"/>
<rect x="369.18" y="266.22" width="9.60" height="8.30" fill="#00b050"/>
<rect x="380.22" y="266.22" width="9.60" height="8.30" fill="#00b0f0"/>
<rect x="391.26" y="266.22" width="9.60" height="8.30" fill="#00b0f0"/>
<rect x="402.31" y="266.22" width="9.60" height="8.30" fill="#00b0f0"/>
<rect x="413.35" y="266.22" width="9.60" height="8.30" fill="#0000ff"/>
<rect x="424.40" y="266.22" width="9.60" height="8.30" fill="#00b0f0"/>
<rect x="435.44" y="266.22" width="9.60" height="8.30" fill="#0000ff"/>
<rect x="446.48" y="266.22" width="9.60" height="8.30" fill="#0000ff"/>
<rect x="457.53" y="266.22" width="9.60" height="8.30" fill="#0000ff"/>
<rect x="468.57" y="266.22" width="9.60" height="8.30" fill="#0000ff"/>
<rect x="479.62" y="266.22" width="9.60" height="8.30" fill="#0000ff"/>
<rect x="490.66" y="266.22" width="9.60" height="8.30" fill="#0000ff"/>
<rect x="501.70" y="266.22" width="9.60" height="8.30" fill="#0000ff"/>
<rect x="512.75" y="266.22" width="9.60" height="8.30" fill="#0000ff"/>
<rect x="523.79" y="266.22" width="9.60" height="8.30" fill="#0000ff"/>
<rect x="534.84" y="266.22" width="9.60" height="8.30" fill="#0000ff"/>
<rect x="545.88" y="266.22" width="9.60" height="8.30" fill="#0000ff"/>
<rect x="556.92" y="266.22" width="9.60" height="8.30" fill="#0000ff"/>
<rect x="567.97" y="266.22" width="9.60" height="8.30" fill="#0000ff"/>
<rect x="579.01" y="266.22" width="9.60" height="8.30" fill="#0000ff"/>
<rect x="590.06" y="266.22" width="9.60" height="8.30" fill="#0000ff"/>
<rect x="601.10" y="266.22" width="9.60" height="8.30" fill="#0000ff"/>
<rect x="612.14" y="266.22" width="9.60" height="8.30" fill="#0000ff"/>
<rect x="623.19" y="266.22" width="9.60" height="8.30" fill="#0000ff"/>
<rect x="634.23" y="266.22" width="9.60" height="8.30" fill="#0000ff"/>
<rect x="645.28" y="266.22" width="9.60" height="8.30" fill="#0000ff"/>
<rect x="656.32" y="266.22" width="9.60" height="8.30" fill="#0000ff"/>
<rect x="25.80" y="276.11" width="21.10" height="8.30" fill="#fff"/>
<text x="37.10" y="282.46" font-size="5.6" text-anchor="middle" style="stroke-width:0.17px">23</text>
<rect x="48.90" y="276.11" width="9.60" height="8.30" fill="#0000ff"/>
<rect x="59.94" y="276.11" width="9.60" height="8.30" fill="#a6a6a6"/>
<rect x="70.99" y="276.11" width="9.60" height="8.30" fill="#0000ff"/>
<rect x="82.03" y="276.11" width="9.60" height="8.30" fill="#a6a6a6"/>
<rect x="93.08" y="276.11" width="9.60" height="8.30" fill="#0000ff"/>
<rect x="104.12" y="276.11" width="9.60" height="8.30" fill="#0000ff"/>
<rect x="115.16" y="276.11" width="9.60" height="8.30" fill="#a6a6a6"/>
<rect x="126.21" y="276.11" width="9.60" height="8.30" fill="#0000ff"/>
<rect x="137.25" y="276.11" width="9.60" height="8.30" fill="#00b0f0"/>
<rect x="148.30" y="276.11" width="9.60" height="8.30" fill="#a6a6a6"/>
<rect x="159.34" y="276.11" width="9.60" height="8.30" fill="#00b0f0"/>
<rect x="170.38" y="276.11" width="9.60" height="8.30" fill="#0000ff"/>
<rect x="181.43" y="276.11" width="9.60" height="8.30" fill="#a6a6a6"/>
<rect x="192.47" y="276.11" width="9.60" height="8.30" fill="#00b050"/>
<rect x="203.52" y="276.11" width="9.60" height="8.30" fill="#a6a6a6"/>
<rect x="214.56" y="276.11" width="9.60" height="8.30" fill="#ffff00"/>
<rect x="225.60" y="276.11" width="9.60" height="8.30" fill="#ffff00"/>
<rect x="236.65" y="276.11" width="9.60" height="8.30" fill="#ffff00"/>
<rect x="247.69" y="276.11" width="9.60" height="8.30" fill="#ffff00"/>
<rect x="258.74" y="276.11" width="9.60" height="8.30" fill="#a6a6a6"/>
<rect x="269.78" y="276.11" width="9.60" height="8.30" fill="#f79646"/>
<rect x="280.82" y="276.11" width="9.60" height="8.30" fill="#ffffff"/>
<rect x="291.87" y="276.11" width="9.60" height="8.30" fill="#f79646"/>
<rect x="302.91" y="276.11" width="9.60" height="8.30" fill="#ffff00"/>
<rect x="313.96" y="276.11" width="9.60" height="8.30" fill="#ffff00"/>
<rect x="325.00" y="276.11" width="9.60" height="8.30" fill="#ffff00"/>
<rect x="336.04" y="276.11" width="9.60" height="8.30" fill="#00b050"/>
<rect x="347.09" y="276.11" width="9.60" height="8.30" fill="#00b050"/>
<rect x="358.13" y="276.11" width="9.60" height="8.30" fill="#00b0f0"/>
<rect x="369.18" y="276.11" width="9.60" height="8.30" fill="#00b0f0"/>
<rect x="380.22" y="276.11" width="9.60" height="8.30" fill="#00b0f0"/>
<rect x="391.26" y="276.11" width="9.60" height="8.30" fill="#0000ff"/>
<rect x="402.31" y="276.11" width="9.60" height="8.30" fill="#00b0f0"/>
<rect x="413.35" y="276.11" width="9.60" height="8.30" fill="#0000ff"/>
<rect x="424.40" y="276.11" width="9.60" height="8.30" fill="#0000ff"/>
<rect x="435.44" y="276.11" width="9.60" height="8.30" fill="#0000ff"/>
<rect x="446.48" y="276.11" width="9.60" height="8.30" fill="#0000ff"/>
<rect x="457.53" y="276.11" width="9.60" height="8.30" fill="#0000ff"/>
<rect x="468.57" y="276.11" width="9.60" height="8.30" fill="#0000ff"/>
<rect x="479.62" y="276.11" width="9.60" height="8.30" fill="#0000ff"/>
<rect x="490.66" y="276.11" width="9.60" height="8.30" fill="#0000ff"/>
<rect x="501.70" y="276.11" width="9.60" height="8.30" fill="#0000ff"/>
<rect x="512.75" y="276.11" width="9.60" height="8.30" fill="#0000ff"/>
<rect x="523.79" y="276.11" width="9.60" height="8.30" fill="#0000ff"/>
<rect x="534.84" y="276.11" width="9.60" height="8.30" fill="#0000ff"/>
<rect x="545.88" y="276.11" width="9.60" height="8.30" fill="#0000ff"/>
<rect x="556.92" y="276.11" width="9.60" height="8.30" fill="#0000ff"/>
<rect x="567.97" y="276.11" width="9.60" height="8.30" fill="#0000ff"/>
<rect x="579.01" y="276.11" width="9.60" height="8.30" fill="#0000ff"/>
<rect x="590.06" y="276.11" width="9.60" height="8.30" fill="#0000ff"/>
<rect x="601.10" y="276.11" width="9.60" height="8.30" fill="#0000ff"/>
<rect x="612.14" y="276.11" width="9.60" height="8.30" fill="#0000ff"/>
<rect x="623.19" y="276.11" width="9.60" height="8.30" fill="#0000ff"/>
<rect x="634.23" y="276.11" width="9.60" height="8.30" fill="#0000ff"/>
<rect x="645.28" y="276.11" width="9.60" height="8.30" fill="#0000ff"/>
<rect x="656.32" y="276.11" width="9.60" height="8.30" fill="#0000ff"/>
<rect x="25.80" y="285.99" width="21.10" height="8.30" fill="#fff"/>
<text x="37.10" y="292.34" font-size="5.6" text-anchor="middle" style="stroke-width:0.17px">24</text>
<rect x="48.90" y="285.99" width="9.60" height="8.30" fill="#0000ff"/>
<rect x="59.94" y="285.99" width="9.60" height="8.30" fill="#a6a6a6"/>
<rect x="70.99" y="285.99" width="9.60" height="8.30" fill="#a6a6a6"/>
<rect x="82.03" y="285.99" width="9.60" height="8.30" fill="#a6a6a6"/>
<rect x="93.08" y="285.99" width="9.60" height="8.30" fill="#0000ff"/>
<rect x="104.12" y="285.99" width="9.60" height="8.30" fill="#00b0f0"/>
<rect x="115.16" y="285.99" width="9.60" height="8.30" fill="#a6a6a6"/>
<rect x="126.21" y="285.99" width="9.60" height="8.30" fill="#00b0f0"/>
<rect x="137.25" y="285.99" width="9.60" height="8.30" fill="#00b050"/>
<rect x="148.30" y="285.99" width="9.60" height="8.30" fill="#a6a6a6"/>
<rect x="159.34" y="285.99" width="9.60" height="8.30" fill="#a6a6a6"/>
<rect x="170.38" y="285.99" width="9.60" height="8.30" fill="#0000ff"/>
<rect x="181.43" y="285.99" width="9.60" height="8.30" fill="#a6a6a6"/>
<rect x="192.47" y="285.99" width="9.60" height="8.30" fill="#00b050"/>
<rect x="203.52" y="285.99" width="9.60" height="8.30" fill="#a6a6a6"/>
<rect x="214.56" y="285.99" width="9.60" height="8.30" fill="#ffff00"/>
<rect x="225.60" y="285.99" width="9.60" height="8.30" fill="#ffff00"/>
<rect x="236.65" y="285.99" width="9.60" height="8.30" fill="#a6a6a6"/>
<rect x="247.69" y="285.99" width="9.60" height="8.30" fill="#ffff00"/>
<rect x="258.74" y="285.99" width="9.60" height="8.30" fill="#a6a6a6"/>
<rect x="269.78" y="285.99" width="9.60" height="8.30" fill="#ffff00"/>
<rect x="280.82" y="285.99" width="9.60" height="8.30" fill="#ffff00"/>
<rect x="291.87" y="285.99" width="9.60" height="8.30" fill="#ffffff"/>
<rect x="302.91" y="285.99" width="9.60" height="8.30" fill="#ffff00"/>
<rect x="313.96" y="285.99" width="9.60" height="8.30" fill="#f79646"/>
<rect x="325.00" y="285.99" width="9.60" height="8.30" fill="#ffff00"/>
<rect x="336.04" y="285.99" width="9.60" height="8.30" fill="#ffff00"/>
<rect x="347.09" y="285.99" width="9.60" height="8.30" fill="#00b050"/>
<rect x="358.13" y="285.99" width="9.60" height="8.30" fill="#a6a6a6"/>
<rect x="369.18" y="285.99" width="9.60" height="8.30" fill="#00b0f0"/>
<rect x="380.22" y="285.99" width="9.60" height="8.30" fill="#00b0f0"/>
<rect x="391.26" y="285.99" width="9.60" height="8.30" fill="#00b050"/>
<rect x="402.31" y="285.99" width="9.60" height="8.30" fill="#00b050"/>
<rect x="413.35" y="285.99" width="9.60" height="8.30" fill="#a6a6a6"/>
<rect x="424.40" y="285.99" width="9.60" height="8.30" fill="#0000ff"/>
<rect x="435.44" y="285.99" width="9.60" height="8.30" fill="#00b0f0"/>
<rect x="446.48" y="285.99" width="9.60" height="8.30" fill="#00b0f0"/>
<rect x="457.53" y="285.99" width="9.60" height="8.30" fill="#a6a6a6"/>
<rect x="468.57" y="285.99" width="9.60" height="8.30" fill="#0000ff"/>
<rect x="479.62" y="285.99" width="9.60" height="8.30" fill="#00b0f0"/>
<rect x="490.66" y="285.99" width="9.60" height="8.30" fill="#a6a6a6"/>
<rect x="501.70" y="285.99" width="9.60" height="8.30" fill="#0000ff"/>
<rect x="512.75" y="285.99" width="9.60" height="8.30" fill="#a6a6a6"/>
<rect x="523.79" y="285.99" width="9.60" height="8.30" fill="#0000ff"/>
<rect x="534.84" y="285.99" width="9.60" height="8.30" fill="#0000ff"/>
<rect x="545.88" y="285.99" width="9.60" height="8.30" fill="#0000ff"/>
<rect x="556.92" y="285.99" width="9.60" height="8.30" fill="#0000ff"/>
<rect x="567.97" y="285.99" width="9.60" height="8.30" fill="#0000ff"/>
<rect x="579.01" y="285.99" width="9.60" height="8.30" fill="#0000ff"/>
<rect x="590.06" y="285.99" width="9.60" height="8.30" fill="#0000ff"/>
<rect x="601.10" y="285.99" width="9.60" height="8.30" fill="#a6a6a6"/>
<rect x="612.14" y="285.99" width="9.60" height="8.30" fill="#0000ff"/>
<rect x="623.19" y="285.99" width="9.60" height="8.30" fill="#0000ff"/>
<rect x="634.23" y="285.99" width="9.60" height="8.30" fill="#0000ff"/>
<rect x="645.28" y="285.99" width="9.60" height="8.30" fill="#0000ff"/>
<rect x="656.32" y="285.99" width="9.60" height="8.30" fill="#0000ff"/>
<rect x="25.80" y="295.88" width="21.10" height="8.30" fill="#fff"/>
<text x="37.10" y="302.23" font-size="5.6" text-anchor="middle" style="stroke-width:0.17px">25</text>
<rect x="48.90" y="295.88" width="9.60" height="8.30" fill="#0000ff"/>
<rect x="59.94" y="295.88" width="9.60" height="8.30" fill="#a6a6a6"/>
<rect x="70.99" y="295.88" width="9.60" height="8.30" fill="#a6a6a6"/>
<rect x="82.03" y="295.88" width="9.60" height="8.30" fill="#a6a6a6"/>
<rect x="93.08" y="295.88" width="9.60" height="8.30" fill="#0000ff"/>
<rect x="104.12" y="295.88" width="9.60" height="8.30" fill="#0000ff"/>
<rect x="115.16" y="295.88" width="9.60" height="8.30" fill="#a6a6a6"/>
<rect x="126.21" y="295.88" width="9.60" height="8.30" fill="#0000ff"/>
<rect x="137.25" y="295.88" width="9.60" height="8.30" fill="#00b0f0"/>
<rect x="148.30" y="295.88" width="9.60" height="8.30" fill="#a6a6a6"/>
<rect x="159.34" y="295.88" width="9.60" height="8.30" fill="#a6a6a6"/>
<rect x="170.38" y="295.88" width="9.60" height="8.30" fill="#0000ff"/>
<rect x="181.43" y="295.88" width="9.60" height="8.30" fill="#a6a6a6"/>
<rect x="192.47" y="295.88" width="9.60" height="8.30" fill="#00b050"/>
<rect x="203.52" y="295.88" width="9.60" height="8.30" fill="#a6a6a6"/>
<rect x="214.56" y="295.88" width="9.60" height="8.30" fill="#00b050"/>
<rect x="225.60" y="295.88" width="9.60" height="8.30" fill="#ffff00"/>
<rect x="236.65" y="295.88" width="9.60" height="8.30" fill="#a6a6a6"/>
<rect x="247.69" y="295.88" width="9.60" height="8.30" fill="#ffff00"/>
<rect x="258.74" y="295.88" width="9.60" height="8.30" fill="#a6a6a6"/>
<rect x="269.78" y="295.88" width="9.60" height="8.30" fill="#ffff00"/>
<rect x="280.82" y="295.88" width="9.60" height="8.30" fill="#f79646"/>
<rect x="291.87" y="295.88" width="9.60" height="8.30" fill="#f79646"/>
<rect x="302.91" y="295.88" width="9.60" height="8.30" fill="#ffffff"/>
<rect x="313.96" y="295.88" width="9.60" height="8.30" fill="#f79646"/>
<rect x="325.00" y="295.88" width="9.60" height="8.30" fill="#f79646"/>
<rect x="336.04" y="295.88" width="9.60" height="8.30" fill="#ffff00"/>
<rect x="347.09" y="295.88" width="9.60" height="8.30" fill="#ffff00"/>
<rect x="358.13" y="295.88" width="9.60" height="8.30" fill="#a6a6a6"/>
<rect x="369.18" y="295.88" width="9.60" height="8.30" fill="#ffff00"/>
<rect x="380.22" y="295.88" width="9.60" height="8.30" fill="#00b050"/>
<rect x="391.26" y="295.88" width="9.60" height="8.30" fill="#00b050"/>
<rect x="402.31" y="295.88" width="9.60" height="8.30" fill="#00b050"/>
<rect x="413.35" y="295.88" width="9.60" height="8.30" fill="#a6a6a6"/>
<rect x="424.40" y="295.88" width="9.60" height="8.30" fill="#00b0f0"/>
<rect x="435.44" y="295.88" width="9.60" height="8.30" fill="#00b0f0"/>
<rect x="446.48" y="295.88" width="9.60" height="8.30" fill="#00b0f0"/>
<rect x="457.53" y="295.88" width="9.60" height="8.30" fill="#a6a6a6"/>
<rect x="468.57" y="295.88" width="9.60" height="8.30" fill="#00b0f0"/>
<rect x="479.62" y="295.88" width="9.60" height="8.30" fill="#00b0f0"/>
<rect x="490.66" y="295.88" width="9.60" height="8.30" fill="#a6a6a6"/>
<rect x="501.70" y="295.88" width="9.60" height="8.30" fill="#0000ff"/>
<rect x="512.75" y="295.88" width="9.60" height="8.30" fill="#a6a6a6"/>
<rect x="523.79" y="295.88" width="9.60" height="8.30" fill="#0000ff"/>
<rect x="534.84" y="295.88" width="9.60" height="8.30" fill="#0000ff"/>
<rect x="545.88" y="295.88" width="9.60" height="8.30" fill="#0000ff"/>
<rect x="556.92" y="295.88" width="9.60" height="8.30" fill="#0000ff"/>
<rect x="567.97" y="295.88" width="9.60" height="8.30" fill="#0000ff"/>
<rect x="579.01" y="295.88" width="9.60" height="8.30" fill="#0000ff"/>
<rect x="590.06" y="295.88" width="9.60" height="8.30" fill="#0000ff"/>
<rect x="601.10" y="295.88" width="9.60" height="8.30" fill="#a6a6a6"/>
<rect x="612.14" y="295.88" width="9.60" height="8.30" fill="#0000ff"/>
<rect x="623.19" y="295.88" width="9.60" height="8.30" fill="#0000ff"/>
<rect x="634.23" y="295.88" width="9.60" height="8.30" fill="#0000ff"/>
<rect x="645.28" y="295.88" width="9.60" height="8.30" fill="#0000ff"/>
<rect x="656.32" y="295.88" width="9.60" height="8.30" fill="#0000ff"/>
<rect x="25.80" y="305.76" width="21.10" height="8.30" fill="#fff"/>
<text x="37.10" y="312.11" font-size="5.6" text-anchor="middle" style="stroke-width:0.17px">26</text>
<rect x="48.90" y="305.76" width="9.60" height="8.30" fill="#0000ff"/>
<rect x="59.94" y="305.76" width="9.60" height="8.30" fill="#a6a6a6"/>
<rect x="70.99" y="305.76" width="9.60" height="8.30" fill="#0000ff"/>
<rect x="82.03" y="305.76" width="9.60" height="8.30" fill="#a6a6a6"/>
<rect x="93.08" y="305.76" width="9.60" height="8.30" fill="#0000ff"/>
<rect x="104.12" y="305.76" width="9.60" height="8.30" fill="#0000ff"/>
<rect x="115.16" y="305.76" width="9.60" height="8.30" fill="#a6a6a6"/>
<rect x="126.21" y="305.76" width="9.60" height="8.30" fill="#00b0f0"/>
<rect x="137.25" y="305.76" width="9.60" height="8.30" fill="#00b050"/>
<rect x="148.30" y="305.76" width="9.60" height="8.30" fill="#a6a6a6"/>
<rect x="159.34" y="305.76" width="9.60" height="8.30" fill="#0000ff"/>
<rect x="170.38" y="305.76" width="9.60" height="8.30" fill="#0000ff"/>
<rect x="181.43" y="305.76" width="9.60" height="8.30" fill="#a6a6a6"/>
<rect x="192.47" y="305.76" width="9.60" height="8.30" fill="#00b0f0"/>
<rect x="203.52" y="305.76" width="9.60" height="8.30" fill="#a6a6a6"/>
<rect x="214.56" y="305.76" width="9.60" height="8.30" fill="#00b050"/>
<rect x="225.60" y="305.76" width="9.60" height="8.30" fill="#ffff00"/>
<rect x="236.65" y="305.76" width="9.60" height="8.30" fill="#00b050"/>
<rect x="247.69" y="305.76" width="9.60" height="8.30" fill="#00b050"/>
<rect x="258.74" y="305.76" width="9.60" height="8.30" fill="#a6a6a6"/>
<rect x="269.78" y="305.76" width="9.60" height="8.30" fill="#ffff00"/>
<rect x="280.82" y="305.76" width="9.60" height="8.30" fill="#ffff00"/>
<rect x="291.87" y="305.76" width="9.60" height="8.30" fill="#f79646"/>
<rect x="302.91" y="305.76" width="9.60" height="8.30" fill="#ffff00"/>
<rect x="313.96" y="305.76" width="9.60" height="8.30" fill="#ffffff"/>
<rect x="325.00" y="305.76" width="9.60" height="8.30" fill="#f79646"/>
<rect x="336.04" y="305.76" width="9.60" height="8.30" fill="#ffff00"/>
<rect x="347.09" y="305.76" width="9.60" height="8.30" fill="#ffff00"/>
<rect x="358.13" y="305.76" width="9.60" height="8.30" fill="#00b0f0"/>
<rect x="369.18" y="305.76" width="9.60" height="8.30" fill="#00b050"/>
<rect x="380.22" y="305.76" width="9.60" height="8.30" fill="#00b0f0"/>
<rect x="391.26" y="305.76" width="9.60" height="8.30" fill="#00b050"/>
<rect x="402.31" y="305.76" width="9.60" height="8.30" fill="#00b050"/>
<rect x="413.35" y="305.76" width="9.60" height="8.30" fill="#0000ff"/>
<rect x="424.40" y="305.76" width="9.60" height="8.30" fill="#00b0f0"/>
<rect x="435.44" y="305.76" width="9.60" height="8.30" fill="#00b0f0"/>
<rect x="446.48" y="305.76" width="9.60" height="8.30" fill="#00b0f0"/>
<rect x="457.53" y="305.76" width="9.60" height="8.30" fill="#0000ff"/>
<rect x="468.57" y="305.76" width="9.60" height="8.30" fill="#0000ff"/>
<rect x="479.62" y="305.76" width="9.60" height="8.30" fill="#00b0f0"/>
<rect x="490.66" y="305.76" width="9.60" height="8.30" fill="#0000ff"/>
<rect x="501.70" y="305.76" width="9.60" height="8.30" fill="#0000ff"/>
<rect x="512.75" y="305.76" width="9.60" height="8.30" fill="#0000ff"/>
<rect x="523.79" y="305.76" width="9.60" height="8.30" fill="#0000ff"/>
<rect x="534.84" y="305.76" width="9.60" height="8.30" fill="#0000ff"/>
<rect x="545.88" y="305.76" width="9.60" height="8.30" fill="#0000ff"/>
<rect x="556.92" y="305.76" width="9.60" height="8.30" fill="#0000ff"/>
<rect x="567.97" y="305.76" width="9.60" height="8.30" fill="#0000ff"/>
<rect x="579.01" y="305.76" width="9.60" height="8.30" fill="#0000ff"/>
<rect x="590.06" y="305.76" width="9.60" height="8.30" fill="#0000ff"/>
<rect x="601.10" y="305.76" width="9.60" height="8.30" fill="#0000ff"/>
<rect x="612.14" y="305.76" width="9.60" height="8.30" fill="#0000ff"/>
<rect x="623.19" y="305.76" width="9.60" height="8.30" fill="#0000ff"/>
<rect x="634.23" y="305.76" width="9.60" height="8.30" fill="#0000ff"/>
<rect x="645.28" y="305.76" width="9.60" height="8.30" fill="#0000ff"/>
<rect x="656.32" y="305.76" width="9.60" height="8.30" fill="#0000ff"/>
<rect x="25.80" y="315.65" width="21.10" height="8.30" fill="#fff"/>
<text x="37.10" y="322.00" font-size="5.6" text-anchor="middle" style="stroke-width:0.17px">27</text>
<rect x="48.90" y="315.65" width="9.60" height="8.30" fill="#0000ff"/>
<rect x="59.94" y="315.65" width="9.60" height="8.30" fill="#a6a6a6"/>
<rect x="70.99" y="315.65" width="9.60" height="8.30" fill="#0000ff"/>
<rect x="82.03" y="315.65" width="9.60" height="8.30" fill="#a6a6a6"/>
<rect x="93.08" y="315.65" width="9.60" height="8.30" fill="#0000ff"/>
<rect x="104.12" y="315.65" width="9.60" height="8.30" fill="#00b0f0"/>
<rect x="115.16" y="315.65" width="9.60" height="8.30" fill="#a6a6a6"/>
<rect x="126.21" y="315.65" width="9.60" height="8.30" fill="#00b0f0"/>
<rect x="137.25" y="315.65" width="9.60" height="8.30" fill="#00b050"/>
<rect x="148.30" y="315.65" width="9.60" height="8.30" fill="#a6a6a6"/>
<rect x="159.34" y="315.65" width="9.60" height="8.30" fill="#0000ff"/>
<rect x="170.38" y="315.65" width="9.60" height="8.30" fill="#0000ff"/>
<rect x="181.43" y="315.65" width="9.60" height="8.30" fill="#a6a6a6"/>
<rect x="192.47" y="315.65" width="9.60" height="8.30" fill="#00b0f0"/>
<rect x="203.52" y="315.65" width="9.60" height="8.30" fill="#a6a6a6"/>
<rect x="214.56" y="315.65" width="9.60" height="8.30" fill="#ffff00"/>
<rect x="225.60" y="315.65" width="9.60" height="8.30" fill="#ffff00"/>
<rect x="236.65" y="315.65" width="9.60" height="8.30" fill="#00b050"/>
<rect x="247.69" y="315.65" width="9.60" height="8.30" fill="#00b050"/>
<rect x="258.74" y="315.65" width="9.60" height="8.30" fill="#a6a6a6"/>
<rect x="269.78" y="315.65" width="9.60" height="8.30" fill="#ffff00"/>
<rect x="280.82" y="315.65" width="9.60" height="8.30" fill="#ffff00"/>
<rect x="291.87" y="315.65" width="9.60" height="8.30" fill="#ffff00"/>
<rect x="302.91" y="315.65" width="9.60" height="8.30" fill="#ffff00"/>
<rect x="313.96" y="315.65" width="9.60" height="8.30" fill="#f79646"/>
<rect x="325.00" y="315.65" width="9.60" height="8.30" fill="#ffffff"/>
<rect x="336.04" y="315.65" width="9.60" height="8.30" fill="#f79646"/>
<rect x="347.09" y="315.65" width="9.60" height="8.30" fill="#f79646"/>
<rect x="358.13" y="315.65" width="9.60" height="8.30" fill="#00b050"/>
<rect x="369.18" y="315.65" width="9.60" height="8.30" fill="#ffff00"/>
<rect x="380.22" y="315.65" width="9.60" height="8.30" fill="#00b050"/>
<rect x="391.26" y="315.65" width="9.60" height="8.30" fill="#ffff00"/>
<rect x="402.31" y="315.65" width="9.60" height="8.30" fill="#ffff00"/>
<rect x="413.35" y="315.65" width="9.60" height="8.30" fill="#0000ff"/>
<rect x="424.40" y="315.65" width="9.60" height="8.30" fill="#00b050"/>
<rect x="435.44" y="315.65" width="9.60" height="8.30" fill="#00b050"/>
<rect x="446.48" y="315.65" width="9.60" height="8.30" fill="#00b050"/>
<rect x="457.53" y="315.65" width="9.60" height="8.30" fill="#0000ff"/>
<rect x="468.57" y="315.65" width="9.60" height="8.30" fill="#00b0f0"/>
<rect x="479.62" y="315.65" width="9.60" height="8.30" fill="#00b050"/>
<rect x="490.66" y="315.65" width="9.60" height="8.30" fill="#0000ff"/>
<rect x="501.70" y="315.65" width="9.60" height="8.30" fill="#00b0f0"/>
<rect x="512.75" y="315.65" width="9.60" height="8.30" fill="#0000ff"/>
<rect x="523.79" y="315.65" width="9.60" height="8.30" fill="#00b0f0"/>
<rect x="534.84" y="315.65" width="9.60" height="8.30" fill="#00b0f0"/>
<rect x="545.88" y="315.65" width="9.60" height="8.30" fill="#00b0f0"/>
<rect x="556.92" y="315.65" width="9.60" height="8.30" fill="#00b0f0"/>
<rect x="567.97" y="315.65" width="9.60" height="8.30" fill="#00b0f0"/>
<rect x="579.01" y="315.65" width="9.60" height="8.30" fill="#0000ff"/>
<rect x="590.06" y="315.65" width="9.60" height="8.30" fill="#0000ff"/>
<rect x="601.10" y="315.65" width="9.60" height="8.30" fill="#0000ff"/>
<rect x="612.14" y="315.65" width="9.60" height="8.30" fill="#0000ff"/>
<rect x="623.19" y="315.65" width="9.60" height="8.30" fill="#0000ff"/>
<rect x="634.23" y="315.65" width="9.60" height="8.30" fill="#0000ff"/>
<rect x="645.28" y="315.65" width="9.60" height="8.30" fill="#0000ff"/>
<rect x="656.32" y="315.65" width="9.60" height="8.30" fill="#00b0f0"/>
<rect x="25.80" y="325.54" width="21.10" height="8.30" fill="#fff"/>
<text x="37.10" y="331.89" font-size="5.6" text-anchor="middle" style="stroke-width:0.17px">28</text>
<rect x="48.90" y="325.54" width="9.60" height="8.30" fill="#0000ff"/>
<rect x="59.94" y="325.54" width="9.60" height="8.30" fill="#a6a6a6"/>
<rect x="70.99" y="325.54" width="9.60" height="8.30" fill="#0000ff"/>
<rect x="82.03" y="325.54" width="9.60" height="8.30" fill="#a6a6a6"/>
<rect x="93.08" y="325.54" width="9.60" height="8.30" fill="#0000ff"/>
<rect x="104.12" y="325.54" width="9.60" height="8.30" fill="#0000ff"/>
<rect x="115.16" y="325.54" width="9.60" height="8.30" fill="#a6a6a6"/>
<rect x="126.21" y="325.54" width="9.60" height="8.30" fill="#00b0f0"/>
<rect x="137.25" y="325.54" width="9.60" height="8.30" fill="#00b0f0"/>
<rect x="148.30" y="325.54" width="9.60" height="8.30" fill="#a6a6a6"/>
<rect x="159.34" y="325.54" width="9.60" height="8.30" fill="#0000ff"/>
<rect x="170.38" y="325.54" width="9.60" height="8.30" fill="#0000ff"/>
<rect x="181.43" y="325.54" width="9.60" height="8.30" fill="#a6a6a6"/>
<rect x="192.47" y="325.54" width="9.60" height="8.30" fill="#00b0f0"/>
<rect x="203.52" y="325.54" width="9.60" height="8.30" fill="#a6a6a6"/>
<rect x="214.56" y="325.54" width="9.60" height="8.30" fill="#00b050"/>
<rect x="225.60" y="325.54" width="9.60" height="8.30" fill="#00b050"/>
<rect x="236.65" y="325.54" width="9.60" height="8.30" fill="#00b0f0"/>
<rect x="247.69" y="325.54" width="9.60" height="8.30" fill="#00b0f0"/>
<rect x="258.74" y="325.54" width="9.60" height="8.30" fill="#a6a6a6"/>
<rect x="269.78" y="325.54" width="9.60" height="8.30" fill="#00b050"/>
<rect x="280.82" y="325.54" width="9.60" height="8.30" fill="#00b050"/>
<rect x="291.87" y="325.54" width="9.60" height="8.30" fill="#ffff00"/>
<rect x="302.91" y="325.54" width="9.60" height="8.30" fill="#ffff00"/>
<rect x="313.96" y="325.54" width="9.60" height="8.30" fill="#ffff00"/>
<rect x="325.00" y="325.54" width="9.60" height="8.30" fill="#f79646"/>
<rect x="336.04" y="325.54" width="9.60" height="8.30" fill="#ffffff"/>
<rect x="347.09" y="325.54" width="9.60" height="8.30" fill="#f79646"/>
<rect x="358.13" y="325.54" width="9.60" height="8.30" fill="#00b050"/>
<rect x="369.18" y="325.54" width="9.60" height="8.30" fill="#ffff00"/>
<rect x="380.22" y="325.54" width="9.60" height="8.30" fill="#00b050"/>
<rect x="391.26" y="325.54" width="9.60" height="8.30" fill="#ffff00"/>
<rect x="402.31" y="325.54" width="9.60" height="8.30" fill="#ffff00"/>
<rect x="413.35" y="325.54" width="9.60" height="8.30" fill="#0000ff"/>
<rect x="424.40" y="325.54" width="9.60" height="8.30" fill="#00b050"/>
<rect x="435.44" y="325.54" width="9.60" height="8.30" fill="#00b050"/>
<rect x="446.48" y="325.54" width="9.60" height="8.30" fill="#00b050"/>
<rect x="457.53" y="325.54" width="9.60" height="8.30" fill="#0000ff"/>
<rect x="468.57" y="325.54" width="9.60" height="8.30" fill="#00b0f0"/>
<rect x="479.62" y="325.54" width="9.60" height="8.30" fill="#00b050"/>
<rect x="490.66" y="325.54" width="9.60" height="8.30" fill="#0000ff"/>
<rect x="501.70" y="325.54" width="9.60" height="8.30" fill="#00b0f0"/>
<rect x="512.75" y="325.54" width="9.60" height="8.30" fill="#0000ff"/>
<rect x="523.79" y="325.54" width="9.60" height="8.30" fill="#00b0f0"/>
<rect x="534.84" y="325.54" width="9.60" height="8.30" fill="#00b0f0"/>
<rect x="545.88" y="325.54" width="9.60" height="8.30" fill="#00b0f0"/>
<rect x="556.92" y="325.54" width="9.60" height="8.30" fill="#00b0f0"/>
<rect x="567.97" y="325.54" width="9.60" height="8.30" fill="#0000ff"/>
<rect x="579.01" y="325.54" width="9.60" height="8.30" fill="#0000ff"/>
<rect x="590.06" y="325.54" width="9.60" height="8.30" fill="#0000ff"/>
<rect x="601.10" y="325.54" width="9.60" height="8.30" fill="#0000ff"/>
<rect x="612.14" y="325.54" width="9.60" height="8.30" fill="#0000ff"/>
<rect x="623.19" y="325.54" width="9.60" height="8.30" fill="#0000ff"/>
<rect x="634.23" y="325.54" width="9.60" height="8.30" fill="#0000ff"/>
<rect x="645.28" y="325.54" width="9.60" height="8.30" fill="#0000ff"/>
<rect x="656.32" y="325.54" width="9.60" height="8.30" fill="#00b0f0"/>
<rect x="25.80" y="335.42" width="21.10" height="8.30" fill="#fff"/>
<text x="37.10" y="341.77" font-size="5.6" text-anchor="middle" style="stroke-width:0.17px">29</text>
<rect x="48.90" y="335.42" width="9.60" height="8.30" fill="#0000ff"/>
<rect x="59.94" y="335.42" width="9.60" height="8.30" fill="#a6a6a6"/>
<rect x="70.99" y="335.42" width="9.60" height="8.30" fill="#0000ff"/>
<rect x="82.03" y="335.42" width="9.60" height="8.30" fill="#a6a6a6"/>
<rect x="93.08" y="335.42" width="9.60" height="8.30" fill="#0000ff"/>
<rect x="104.12" y="335.42" width="9.60" height="8.30" fill="#0000ff"/>
<rect x="115.16" y="335.42" width="9.60" height="8.30" fill="#a6a6a6"/>
<rect x="126.21" y="335.42" width="9.60" height="8.30" fill="#0000ff"/>
<rect x="137.25" y="335.42" width="9.60" height="8.30" fill="#00b0f0"/>
<rect x="148.30" y="335.42" width="9.60" height="8.30" fill="#a6a6a6"/>
<rect x="159.34" y="335.42" width="9.60" height="8.30" fill="#0000ff"/>
<rect x="170.38" y="335.42" width="9.60" height="8.30" fill="#0000ff"/>
<rect x="181.43" y="335.42" width="9.60" height="8.30" fill="#a6a6a6"/>
<rect x="192.47" y="335.42" width="9.60" height="8.30" fill="#00b0f0"/>
<rect x="203.52" y="335.42" width="9.60" height="8.30" fill="#a6a6a6"/>
<rect x="214.56" y="335.42" width="9.60" height="8.30" fill="#00b050"/>
<rect x="225.60" y="335.42" width="9.60" height="8.30" fill="#00b050"/>
<rect x="236.65" y="335.42" width="9.60" height="8.30" fill="#00b0f0"/>
<rect x="247.69" y="335.42" width="9.60" height="8.30" fill="#00b0f0"/>
<rect x="258.74" y="335.42" width="9.60" height="8.30" fill="#a6a6a6"/>
<rect x="269.78" y="335.42" width="9.60" height="8.30" fill="#00b050"/>
<rect x="280.82" y="335.42" width="9.60" height="8.30" fill="#00b050"/>
<rect x="291.87" y="335.42" width="9.60" height="8.30" fill="#00b050"/>
<rect x="302.91" y="335.42" width="9.60" height="8.30" fill="#00b050"/>
<rect x="313.96" y="335.42" width="9.60" height="8.30" fill="#ffff00"/>
<rect x="325.00" y="335.42" width="9.60" height="8.30" fill="#ffff00"/>
<rect x="336.04" y="335.42" width="9.60" height="8.30" fill="#f79646"/>
<rect x="347.09" y="335.42" width="9.60" height="8.30" fill="#ffffff"/>
<rect x="358.13" y="335.42" width="9.60" height="8.30" fill="#00b050"/>
<rect x="369.18" y="335.42" width="9.60" height="8.30" fill="#ffff00"/>
<rect x="380.22" y="335.42" width="9.60" height="8.30" fill="#00b050"/>
<rect x="391.26" y="335.42" width="9.60" height="8.30" fill="#ffff00"/>
<rect x="402.31" y="335.42" width="9.60" height="8.30" fill="#ffff00"/>
<rect x="413.35" y="335.42" width="9.60" height="8.30" fill="#0000ff"/>
<rect x="424.40" y="335.42" width="9.60" height="8.30" fill="#00b050"/>
<rect x="435.44" y="335.42" width="9.60" height="8.30" fill="#00b050"/>
<rect x="446.48" y="335.42" width="9.60" height="8.30" fill="#00b050"/>
<rect x="457.53" y="335.42" width="9.60" height="8.30" fill="#0000ff"/>
<rect x="468.57" y="335.42" width="9.60" height="8.30" fill="#00b0f0"/>
<rect x="479.62" y="335.42" width="9.60" height="8.30" fill="#00b050"/>
<rect x="490.66" y="335.42" width="9.60" height="8.30" fill="#0000ff"/>
<rect x="501.70" y="335.42" width="9.60" height="8.30" fill="#00b0f0"/>
<rect x="512.75" y="335.42" width="9.60" height="8.30" fill="#0000ff"/>
<rect x="523.79" y="335.42" width="9.60" height="8.30" fill="#00b0f0"/>
<rect x="534.84" y="335.42" width="9.60" height="8.30" fill="#00b0f0"/>
<rect x="545.88" y="335.42" width="9.60" height="8.30" fill="#00b0f0"/>
<rect x="556.92" y="335.42" width="9.60" height="8.30" fill="#00b0f0"/>
<rect x="567.97" y="335.42" width="9.60" height="8.30" fill="#00b0f0"/>
<rect x="579.01" y="335.42" width="9.60" height="8.30" fill="#0000ff"/>
<rect x="590.06" y="335.42" width="9.60" height="8.30" fill="#0000ff"/>
<rect x="601.10" y="335.42" width="9.60" height="8.30" fill="#0000ff"/>
<rect x="612.14" y="335.42" width="9.60" height="8.30" fill="#0000ff"/>
<rect x="623.19" y="335.42" width="9.60" height="8.30" fill="#0000ff"/>
<rect x="634.23" y="335.42" width="9.60" height="8.30" fill="#0000ff"/>
<rect x="645.28" y="335.42" width="9.60" height="8.30" fill="#0000ff"/>
<rect x="656.32" y="335.42" width="9.60" height="8.30" fill="#00b0f0"/>
<rect x="25.80" y="345.31" width="21.10" height="8.30" fill="#fff"/>
<text x="37.10" y="351.66" font-size="5.6" text-anchor="middle" style="stroke-width:0.17px">30</text>
<rect x="48.90" y="345.31" width="9.60" height="8.30" fill="#a6a6a6"/>
<rect x="59.94" y="345.31" width="9.60" height="8.30" fill="#a6a6a6"/>
<rect x="70.99" y="345.31" width="9.60" height="8.30" fill="#0000ff"/>
<rect x="82.03" y="345.31" width="9.60" height="8.30" fill="#a6a6a6"/>
<rect x="93.08" y="345.31" width="9.60" height="8.30" fill="#0000ff"/>
<rect x="104.12" y="345.31" width="9.60" height="8.30" fill="#0000ff"/>
<rect x="115.16" y="345.31" width="9.60" height="8.30" fill="#a6a6a6"/>
<rect x="126.21" y="345.31" width="9.60" height="8.30" fill="#0000ff"/>
<rect x="137.25" y="345.31" width="9.60" height="8.30" fill="#0000ff"/>
<rect x="148.30" y="345.31" width="9.60" height="8.30" fill="#a6a6a6"/>
<rect x="159.34" y="345.31" width="9.60" height="8.30" fill="#0000ff"/>
<rect x="170.38" y="345.31" width="9.60" height="8.30" fill="#a6a6a6"/>
<rect x="181.43" y="345.31" width="9.60" height="8.30" fill="#a6a6a6"/>
<rect x="192.47" y="345.31" width="9.60" height="8.30" fill="#0000ff"/>
<rect x="203.52" y="345.31" width="9.60" height="8.30" fill="#a6a6a6"/>
<rect x="214.56" y="345.31" width="9.60" height="8.30" fill="#0000ff"/>
<rect x="225.60" y="345.31" width="9.60" height="8.30" fill="#00b0f0"/>
<rect x="236.65" y="345.31" width="9.60" height="8.30" fill="#00b0f0"/>
<rect x="247.69" y="345.31" width="9.60" height="8.30" fill="#a6a6a6"/>
<rect x="258.74" y="345.31" width="9.60" height="8.30" fill="#a6a6a6"/>
<rect x="269.78" y="345.31" width="9.60" height="8.30" fill="#00b0f0"/>
<rect x="280.82" y="345.31" width="9.60" height="8.30" fill="#00b050"/>
<rect x="291.87" y="345.31" width="9.60" height="8.30" fill="#a6a6a6"/>
<rect x="302.91" y="345.31" width="9.60" height="8.30" fill="#a6a6a6"/>
<rect x="313.96" y="345.31" width="9.60" height="8.30" fill="#00b050"/>
<rect x="325.00" y="345.31" width="9.60" height="8.30" fill="#00b050"/>
<rect x="336.04" y="345.31" width="9.60" height="8.30" fill="#ffff00"/>
<rect x="347.09" y="345.31" width="9.60" height="8.30" fill="#ffff00"/>
<rect x="358.13" y="345.31" width="9.60" height="8.30" fill="#ffffff"/>
<rect x="369.18" y="345.31" width="9.60" height="8.30" fill="#ffff00"/>
<rect x="380.22" y="345.31" width="9.60" height="8.30" fill="#00b050"/>
<rect x="391.26" y="345.31" width="9.60" height="8.30" fill="#00b050"/>
<rect x="402.31" y="345.31" width="9.60" height="8.30" fill="#00b0f0"/>
<rect x="413.35" y="345.31" width="9.60" height="8.30" fill="#00b0f0"/>
<rect x="424.40" y="345.31" width="9.60" height="8.30" fill="#00b0f0"/>
<rect x="435.44" y="345.31" width="9.60" height="8.30" fill="#00b0f0"/>
<rect x="446.48" y="345.31" width="9.60" height="8.30" fill="#00b0f0"/>
<rect x="457.53" y="345.31" width="9.60" height="8.30" fill="#0000ff"/>
<rect x="468.57" y="345.31" width="9.60" height="8.30" fill="#a6a6a6"/>
<rect x="479.62" y="345.31" width="9.60" height="8.30" fill="#0000ff"/>
<rect x="490.66" y="345.31" width="9.60" height="8.30" fill="#0000ff"/>
<rect x="501.70" y="345.31" width="9.60" height="8.30" fill="#0000ff"/>
<rect x="512.75" y="345.31" width="9.60" height="8.30" fill="#0000ff"/>
<rect x="523.79" y="345.31" width="9.60" height="8.30" fill="#0000ff"/>
<rect x="534.84" y="345.31" width="9.60" height="8.30" fill="#0000ff"/>
<rect x="545.88" y="345.31" width="9.60" height="8.30" fill="#a6a6a6"/>
<rect x="556.92" y="345.31" width="9.60" height="8.30" fill="#0000ff"/>
<rect x="567.97" y="345.31" width="9.60" height="8.30" fill="#0000ff"/>
<rect x="579.01" y="345.31" width="9.60" height="8.30" fill="#0000ff"/>
<rect x="590.06" y="345.31" width="9.60" height="8.30" fill="#0000ff"/>
<rect x="601.10" y="345.31" width="9.60" height="8.30" fill="#0000ff"/>
<rect x="612.14" y="345.31" width="9.60" height="8.30" fill="#0000ff"/>
<rect x="623.19" y="345.31" width="9.60" height="8.30" fill="#0000ff"/>
<rect x="634.23" y="345.31" width="9.60" height="8.30" fill="#0000ff"/>
<rect x="645.28" y="345.31" width="9.60" height="8.30" fill="#a6a6a6"/>
<rect x="656.32" y="345.31" width="9.60" height="8.30" fill="#0000ff"/>
<rect x="25.80" y="355.19" width="21.10" height="8.30" fill="#fff"/>
<text x="37.10" y="361.54" font-size="5.6" text-anchor="middle" style="stroke-width:0.17px">31</text>
<rect x="48.90" y="355.19" width="9.60" height="8.30" fill="#0000ff"/>
<rect x="59.94" y="355.19" width="9.60" height="8.30" fill="#a6a6a6"/>
<rect x="70.99" y="355.19" width="9.60" height="8.30" fill="#0000ff"/>
<rect x="82.03" y="355.19" width="9.60" height="8.30" fill="#a6a6a6"/>
<rect x="93.08" y="355.19" width="9.60" height="8.30" fill="#0000ff"/>
<rect x="104.12" y="355.19" width="9.60" height="8.30" fill="#0000ff"/>
<rect x="115.16" y="355.19" width="9.60" height="8.30" fill="#a6a6a6"/>
<rect x="126.21" y="355.19" width="9.60" height="8.30" fill="#0000ff"/>
<rect x="137.25" y="355.19" width="9.60" height="8.30" fill="#0000ff"/>
<rect x="148.30" y="355.19" width="9.60" height="8.30" fill="#a6a6a6"/>
<rect x="159.34" y="355.19" width="9.60" height="8.30" fill="#0000ff"/>
<rect x="170.38" y="355.19" width="9.60" height="8.30" fill="#0000ff"/>
<rect x="181.43" y="355.19" width="9.60" height="8.30" fill="#a6a6a6"/>
<rect x="192.47" y="355.19" width="9.60" height="8.30" fill="#0000ff"/>
<rect x="203.52" y="355.19" width="9.60" height="8.30" fill="#a6a6a6"/>
<rect x="214.56" y="355.19" width="9.60" height="8.30" fill="#00b0f0"/>
<rect x="225.60" y="355.19" width="9.60" height="8.30" fill="#00b0f0"/>
<rect x="236.65" y="355.19" width="9.60" height="8.30" fill="#0000ff"/>
<rect x="247.69" y="355.19" width="9.60" height="8.30" fill="#00b0f0"/>
<rect x="258.74" y="355.19" width="9.60" height="8.30" fill="#a6a6a6"/>
<rect x="269.78" y="355.19" width="9.60" height="8.30" fill="#00b0f0"/>
<rect x="280.82" y="355.19" width="9.60" height="8.30" fill="#00b050"/>
<rect x="291.87" y="355.19" width="9.60" height="8.30" fill="#00b050"/>
<rect x="302.91" y="355.19" width="9.60" height="8.30" fill="#00b050"/>
<rect x="313.96" y="355.19" width="9.60" height="8.30" fill="#00b050"/>
<rect x="325.00" y="355.19" width="9.60" height="8.30" fill="#ffff00"/>
<rect x="336.04" y="355.19" width="9.60" height="8.30" fill="#ffff00"/>
<rect x="347.09" y="355.19" width="9.60" height="8.30" fill="#f79646"/>
<rect x="358.13" y="355.19" width="9.60" height="8.30" fill="#ffff00"/>
<rect x="369.18" y="355.19" width="9.60" height="8.30" fill="#ffffff"/>
<rect x="380.22" y="355.19" width="9.60" height="8.30" fill="#ffff00"/>
<rect x="391.26" y="355.19" width="9.60" height="8.30" fill="#ffff00"/>
<rect x="402.31" y="355.19" width="9.60" height="8.30" fill="#f79646"/>
<rect x="413.35" y="355.19" width="9.60" height="8.30" fill="#00b050"/>
<rect x="424.40" y="355.19" width="9.60" height="8.30" fill="#ffff00"/>
<rect x="435.44" y="355.19" width="9.60" height="8.30" fill="#00b050"/>
<rect x="446.48" y="355.19" width="9.60" height="8.30" fill="#00b050"/>
<rect x="457.53" y="355.19" width="9.60" height="8.30" fill="#0000ff"/>
<rect x="468.57" y="355.19" width="9.60" height="8.30" fill="#00b050"/>
<rect x="479.62" y="355.19" width="9.60" height="8.30" fill="#00b050"/>
<rect x="490.66" y="355.19" width="9.60" height="8.30" fill="#0000ff"/>
<rect x="501.70" y="355.19" width="9.60" height="8.30" fill="#0000ff"/>
<rect x="512.75" y="355.19" width="9.60" height="8.30" fill="#0000ff"/>
<rect x="523.79" y="355.19" width="9.60" height="8.30" fill="#0000ff"/>
<rect x="534.84" y="355.19" width="9.60" height="8.30" fill="#0000ff"/>
<rect x="545.88" y="355.19" width="9.60" height="8.30" fill="#0000ff"/>
<rect x="556.92" y="355.19" width="9.60" height="8.30" fill="#0000ff"/>
<rect x="567.97" y="355.19" width="9.60" height="8.30" fill="#0000ff"/>
<rect x="579.01" y="355.19" width="9.60" height="8.30" fill="#0000ff"/>
<rect x="590.06" y="355.19" width="9.60" height="8.30" fill="#0000ff"/>
<rect x="601.10" y="355.19" width="9.60" height="8.30" fill="#0000ff"/>
<rect x="612.14" y="355.19" width="9.60" height="8.30" fill="#0000ff"/>
<rect x="623.19" y="355.19" width="9.60" height="8.30" fill="#0000ff"/>
<rect x="634.23" y="355.19" width="9.60" height="8.30" fill="#0000ff"/>
<rect x="645.28" y="355.19" width="9.60" height="8.30" fill="#0000ff"/>
<rect x="656.32" y="355.19" width="9.60" height="8.30" fill="#0000ff"/>
<rect x="25.80" y="365.08" width="21.10" height="8.30" fill="#fff"/>
<text x="37.10" y="371.43" font-size="5.6" text-anchor="middle" style="stroke-width:0.17px">32</text>
<rect x="48.90" y="365.08" width="9.60" height="8.30" fill="#0000ff"/>
<rect x="59.94" y="365.08" width="9.60" height="8.30" fill="#a6a6a6"/>
<rect x="70.99" y="365.08" width="9.60" height="8.30" fill="#0000ff"/>
<rect x="82.03" y="365.08" width="9.60" height="8.30" fill="#a6a6a6"/>
<rect x="93.08" y="365.08" width="9.60" height="8.30" fill="#0000ff"/>
<rect x="104.12" y="365.08" width="9.60" height="8.30" fill="#0000ff"/>
<rect x="115.16" y="365.08" width="9.60" height="8.30" fill="#a6a6a6"/>
<rect x="126.21" y="365.08" width="9.60" height="8.30" fill="#0000ff"/>
<rect x="137.25" y="365.08" width="9.60" height="8.30" fill="#0000ff"/>
<rect x="148.30" y="365.08" width="9.60" height="8.30" fill="#a6a6a6"/>
<rect x="159.34" y="365.08" width="9.60" height="8.30" fill="#0000ff"/>
<rect x="170.38" y="365.08" width="9.60" height="8.30" fill="#0000ff"/>
<rect x="181.43" y="365.08" width="9.60" height="8.30" fill="#a6a6a6"/>
<rect x="192.47" y="365.08" width="9.60" height="8.30" fill="#0000ff"/>
<rect x="203.52" y="365.08" width="9.60" height="8.30" fill="#a6a6a6"/>
<rect x="214.56" y="365.08" width="9.60" height="8.30" fill="#0000ff"/>
<rect x="225.60" y="365.08" width="9.60" height="8.30" fill="#0000ff"/>
<rect x="236.65" y="365.08" width="9.60" height="8.30" fill="#0000ff"/>
<rect x="247.69" y="365.08" width="9.60" height="8.30" fill="#0000ff"/>
<rect x="258.74" y="365.08" width="9.60" height="8.30" fill="#a6a6a6"/>
<rect x="269.78" y="365.08" width="9.60" height="8.30" fill="#0000ff"/>
<rect x="280.82" y="365.08" width="9.60" height="8.30" fill="#00b0f0"/>
<rect x="291.87" y="365.08" width="9.60" height="8.30" fill="#00b0f0"/>
<rect x="302.91" y="365.08" width="9.60" height="8.30" fill="#00b0f0"/>
<rect x="313.96" y="365.08" width="9.60" height="8.30" fill="#00b050"/>
<rect x="325.00" y="365.08" width="9.60" height="8.30" fill="#00b050"/>
<rect x="336.04" y="365.08" width="9.60" height="8.30" fill="#00b050"/>
<rect x="347.09" y="365.08" width="9.60" height="8.30" fill="#ffff00"/>
<rect x="358.13" y="365.08" width="9.60" height="8.30" fill="#00b0f0"/>
<rect x="369.18" y="365.08" width="9.60" height="8.30" fill="#ffff00"/>
<rect x="380.22" y="365.08" width="9.60" height="8.30" fill="#ffffff"/>
<rect x="391.26" y="365.08" width="9.60" height="8.30" fill="#f79646"/>
<rect x="402.31" y="365.08" width="9.60" height="8.30" fill="#f79646"/>
<rect x="413.35" y="365.08" width="9.60" height="8.30" fill="#ffff00"/>
<rect x="424.40" y="365.08" width="9.60" height="8.30" fill="#ffff00"/>
<rect x="435.44" y="365.08" width="9.60" height="8.30" fill="#00b050"/>
<rect x="446.48" y="365.08" width="9.60" height="8.30" fill="#00b050"/>
<rect x="457.53" y="365.08" width="9.60" height="8.30" fill="#00b0f0"/>
<rect x="468.57" y="365.08" width="9.60" height="8.30" fill="#00b050"/>
<rect x="479.62" y="365.08" width="9.60" height="8.30" fill="#00b0f0"/>
<rect x="490.66" y="365.08" width="9.60" height="8.30" fill="#0000ff"/>
<rect x="501.70" y="365.08" width="9.60" height="8.30" fill="#0000ff"/>
<rect x="512.75" y="365.08" width="9.60" height="8.30" fill="#0000ff"/>
<rect x="523.79" y="365.08" width="9.60" height="8.30" fill="#0000ff"/>
<rect x="534.84" y="365.08" width="9.60" height="8.30" fill="#0000ff"/>
<rect x="545.88" y="365.08" width="9.60" height="8.30" fill="#0000ff"/>
<rect x="556.92" y="365.08" width="9.60" height="8.30" fill="#0000ff"/>
<rect x="567.97" y="365.08" width="9.60" height="8.30" fill="#0000ff"/>
<rect x="579.01" y="365.08" width="9.60" height="8.30" fill="#0000ff"/>
<rect x="590.06" y="365.08" width="9.60" height="8.30" fill="#0000ff"/>
<rect x="601.10" y="365.08" width="9.60" height="8.30" fill="#0000ff"/>
<rect x="612.14" y="365.08" width="9.60" height="8.30" fill="#0000ff"/>
<rect x="623.19" y="365.08" width="9.60" height="8.30" fill="#0000ff"/>
<rect x="634.23" y="365.08" width="9.60" height="8.30" fill="#0000ff"/>
<rect x="645.28" y="365.08" width="9.60" height="8.30" fill="#0000ff"/>
<rect x="656.32" y="365.08" width="9.60" height="8.30" fill="#0000ff"/>
<rect x="25.80" y="374.97" width="21.10" height="8.30" fill="#fff"/>
<text x="37.10" y="381.32" font-size="5.6" text-anchor="middle" style="stroke-width:0.17px">33</text>
<rect x="48.90" y="374.97" width="9.60" height="8.30" fill="#0000ff"/>
<rect x="59.94" y="374.97" width="9.60" height="8.30" fill="#a6a6a6"/>
<rect x="70.99" y="374.97" width="9.60" height="8.30" fill="#0000ff"/>
<rect x="82.03" y="374.97" width="9.60" height="8.30" fill="#a6a6a6"/>
<rect x="93.08" y="374.97" width="9.60" height="8.30" fill="#0000ff"/>
<rect x="104.12" y="374.97" width="9.60" height="8.30" fill="#0000ff"/>
<rect x="115.16" y="374.97" width="9.60" height="8.30" fill="#a6a6a6"/>
<rect x="126.21" y="374.97" width="9.60" height="8.30" fill="#0000ff"/>
<rect x="137.25" y="374.97" width="9.60" height="8.30" fill="#00b0f0"/>
<rect x="148.30" y="374.97" width="9.60" height="8.30" fill="#a6a6a6"/>
<rect x="159.34" y="374.97" width="9.60" height="8.30" fill="#0000ff"/>
<rect x="170.38" y="374.97" width="9.60" height="8.30" fill="#0000ff"/>
<rect x="181.43" y="374.97" width="9.60" height="8.30" fill="#a6a6a6"/>
<rect x="192.47" y="374.97" width="9.60" height="8.30" fill="#0000ff"/>
<rect x="203.52" y="374.97" width="9.60" height="8.30" fill="#a6a6a6"/>
<rect x="214.56" y="374.97" width="9.60" height="8.30" fill="#00b0f0"/>
<rect x="225.60" y="374.97" width="9.60" height="8.30" fill="#00b050"/>
<rect x="236.65" y="374.97" width="9.60" height="8.30" fill="#0000ff"/>
<rect x="247.69" y="374.97" width="9.60" height="8.30" fill="#0000ff"/>
<rect x="258.74" y="374.97" width="9.60" height="8.30" fill="#a6a6a6"/>
<rect x="269.78" y="374.97" width="9.60" height="8.30" fill="#0000ff"/>
<rect x="280.82" y="374.97" width="9.60" height="8.30" fill="#0000ff"/>
<rect x="291.87" y="374.97" width="9.60" height="8.30" fill="#00b050"/>
<rect x="302.91" y="374.97" width="9.60" height="8.30" fill="#00b0f0"/>
<rect x="313.96" y="374.97" width="9.60" height="8.30" fill="#00b050"/>
<rect x="325.00" y="374.97" width="9.60" height="8.30" fill="#ffff00"/>
<rect x="336.04" y="374.97" width="9.60" height="8.30" fill="#ffff00"/>
<rect x="347.09" y="374.97" width="9.60" height="8.30" fill="#f79646"/>
<rect x="358.13" y="374.97" width="9.60" height="8.30" fill="#00b0f0"/>
<rect x="369.18" y="374.97" width="9.60" height="8.30" fill="#ffff00"/>
<rect x="380.22" y="374.97" width="9.60" height="8.30" fill="#f79646"/>
<rect x="391.26" y="374.97" width="9.60" height="8.30" fill="#ffffff"/>
<rect x="402.31" y="374.97" width="9.60" height="8.30" fill="#f79646"/>
<rect x="413.35" y="374.97" width="9.60" height="8.30" fill="#ffff00"/>
<rect x="424.40" y="374.97" width="9.60" height="8.30" fill="#ffff00"/>
<rect x="435.44" y="374.97" width="9.60" height="8.30" fill="#ffff00"/>
<rect x="446.48" y="374.97" width="9.60" height="8.30" fill="#ffff00"/>
<rect x="457.53" y="374.97" width="9.60" height="8.30" fill="#00b0f0"/>
<rect x="468.57" y="374.97" width="9.60" height="8.30" fill="#00b050"/>
<rect x="479.62" y="374.97" width="9.60" height="8.30" fill="#00b050"/>
<rect x="490.66" y="374.97" width="9.60" height="8.30" fill="#0000ff"/>
<rect x="501.70" y="374.97" width="9.60" height="8.30" fill="#00b050"/>
<rect x="512.75" y="374.97" width="9.60" height="8.30" fill="#0000ff"/>
<rect x="523.79" y="374.97" width="9.60" height="8.30" fill="#00b050"/>
<rect x="534.84" y="374.97" width="9.60" height="8.30" fill="#00b050"/>
<rect x="545.88" y="374.97" width="9.60" height="8.30" fill="#00b0f0"/>
<rect x="556.92" y="374.97" width="9.60" height="8.30" fill="#00b0f0"/>
<rect x="567.97" y="374.97" width="9.60" height="8.30" fill="#00b0f0"/>
<rect x="579.01" y="374.97" width="9.60" height="8.30" fill="#00b0f0"/>
<rect x="590.06" y="374.97" width="9.60" height="8.30" fill="#0000ff"/>
<rect x="601.10" y="374.97" width="9.60" height="8.30" fill="#0000ff"/>
<rect x="612.14" y="374.97" width="9.60" height="8.30" fill="#0000ff"/>
<rect x="623.19" y="374.97" width="9.60" height="8.30" fill="#0000ff"/>
<rect x="634.23" y="374.97" width="9.60" height="8.30" fill="#0000ff"/>
<rect x="645.28" y="374.97" width="9.60" height="8.30" fill="#0000ff"/>
<rect x="656.32" y="374.97" width="9.60" height="8.30" fill="#00b0f0"/>
<rect x="25.80" y="384.85" width="21.10" height="8.30" fill="#fff"/>
<text x="37.10" y="391.20" font-size="5.6" text-anchor="middle" style="stroke-width:0.17px">34</text>
<rect x="48.90" y="384.85" width="9.60" height="8.30" fill="#0000ff"/>
<rect x="59.94" y="384.85" width="9.60" height="8.30" fill="#a6a6a6"/>
<rect x="70.99" y="384.85" width="9.60" height="8.30" fill="#0000ff"/>
<rect x="82.03" y="384.85" width="9.60" height="8.30" fill="#a6a6a6"/>
<rect x="93.08" y="384.85" width="9.60" height="8.30" fill="#0000ff"/>
<rect x="104.12" y="384.85" width="9.60" height="8.30" fill="#0000ff"/>
<rect x="115.16" y="384.85" width="9.60" height="8.30" fill="#a6a6a6"/>
<rect x="126.21" y="384.85" width="9.60" height="8.30" fill="#0000ff"/>
<rect x="137.25" y="384.85" width="9.60" height="8.30" fill="#00b0f0"/>
<rect x="148.30" y="384.85" width="9.60" height="8.30" fill="#a6a6a6"/>
<rect x="159.34" y="384.85" width="9.60" height="8.30" fill="#0000ff"/>
<rect x="170.38" y="384.85" width="9.60" height="8.30" fill="#0000ff"/>
<rect x="181.43" y="384.85" width="9.60" height="8.30" fill="#a6a6a6"/>
<rect x="192.47" y="384.85" width="9.60" height="8.30" fill="#0000ff"/>
<rect x="203.52" y="384.85" width="9.60" height="8.30" fill="#a6a6a6"/>
<rect x="214.56" y="384.85" width="9.60" height="8.30" fill="#00b0f0"/>
<rect x="225.60" y="384.85" width="9.60" height="8.30" fill="#00b0f0"/>
<rect x="236.65" y="384.85" width="9.60" height="8.30" fill="#0000ff"/>
<rect x="247.69" y="384.85" width="9.60" height="8.30" fill="#00b0f0"/>
<rect x="258.74" y="384.85" width="9.60" height="8.30" fill="#a6a6a6"/>
<rect x="269.78" y="384.85" width="9.60" height="8.30" fill="#00b0f0"/>
<rect x="280.82" y="384.85" width="9.60" height="8.30" fill="#00b0f0"/>
<rect x="291.87" y="384.85" width="9.60" height="8.30" fill="#00b050"/>
<rect x="302.91" y="384.85" width="9.60" height="8.30" fill="#00b050"/>
<rect x="313.96" y="384.85" width="9.60" height="8.30" fill="#00b050"/>
<rect x="325.00" y="384.85" width="9.60" height="8.30" fill="#ffff00"/>
<rect x="336.04" y="384.85" width="9.60" height="8.30" fill="#ffff00"/>
<rect x="347.09" y="384.85" width="9.60" height="8.30" fill="#ffff00"/>
<rect x="358.13" y="384.85" width="9.60" height="8.30" fill="#0000ff"/>
<rect x="369.18" y="384.85" width="9.60" height="8.30" fill="#ffff00"/>
<rect x="380.22" y="384.85" width="9.60" height="8.30" fill="#ffff00"/>
<rect x="391.26" y="384.85" width="9.60" height="8.30" fill="#f79646"/>
<rect x="402.31" y="384.85" width="9.60" height="8.30" fill="#ffffff"/>
<rect x="413.35" y="384.85" width="9.60" height="8.30" fill="#ffff00"/>
<rect x="424.40" y="384.85" width="9.60" height="8.30" fill="#ffff00"/>
<rect x="435.44" y="384.85" width="9.60" height="8.30" fill="#ffff00"/>
<rect x="446.48" y="384.85" width="9.60" height="8.30" fill="#ffff00"/>
<rect x="457.53" y="384.85" width="9.60" height="8.30" fill="#00b0f0"/>
<rect x="468.57" y="384.85" width="9.60" height="8.30" fill="#00b050"/>
<rect x="479.62" y="384.85" width="9.60" height="8.30" fill="#ffff00"/>
<rect x="490.66" y="384.85" width="9.60" height="8.30" fill="#0000ff"/>
<rect x="501.70" y="384.85" width="9.60" height="8.30" fill="#00b050"/>
<rect x="512.75" y="384.85" width="9.60" height="8.30" fill="#0000ff"/>
<rect x="523.79" y="384.85" width="9.60" height="8.30" fill="#00b050"/>
<rect x="534.84" y="384.85" width="9.60" height="8.30" fill="#00b050"/>
<rect x="545.88" y="384.85" width="9.60" height="8.30" fill="#00b050"/>
<rect x="556.92" y="384.85" width="9.60" height="8.30" fill="#00b0f0"/>
<rect x="567.97" y="384.85" width="9.60" height="8.30" fill="#00b0f0"/>
<rect x="579.01" y="384.85" width="9.60" height="8.30" fill="#00b0f0"/>
<rect x="590.06" y="384.85" width="9.60" height="8.30" fill="#00b0f0"/>
<rect x="601.10" y="384.85" width="9.60" height="8.30" fill="#0000ff"/>
<rect x="612.14" y="384.85" width="9.60" height="8.30" fill="#0000ff"/>
<rect x="623.19" y="384.85" width="9.60" height="8.30" fill="#0000ff"/>
<rect x="634.23" y="384.85" width="9.60" height="8.30" fill="#0000ff"/>
<rect x="645.28" y="384.85" width="9.60" height="8.30" fill="#0000ff"/>
<rect x="656.32" y="384.85" width="9.60" height="8.30" fill="#00b0f0"/>
<rect x="25.80" y="394.74" width="21.10" height="8.30" fill="#fff"/>
<text x="37.10" y="401.09" font-size="5.6" text-anchor="middle" style="stroke-width:0.17px">35</text>
<rect x="48.90" y="394.74" width="9.60" height="8.30" fill="#a6a6a6"/>
<rect x="59.94" y="394.74" width="9.60" height="8.30" fill="#a6a6a6"/>
<rect x="70.99" y="394.74" width="9.60" height="8.30" fill="#0000ff"/>
<rect x="82.03" y="394.74" width="9.60" height="8.30" fill="#a6a6a6"/>
<rect x="93.08" y="394.74" width="9.60" height="8.30" fill="#0000ff"/>
<rect x="104.12" y="394.74" width="9.60" height="8.30" fill="#0000ff"/>
<rect x="115.16" y="394.74" width="9.60" height="8.30" fill="#a6a6a6"/>
<rect x="126.21" y="394.74" width="9.60" height="8.30" fill="#0000ff"/>
<rect x="137.25" y="394.74" width="9.60" height="8.30" fill="#0000ff"/>
<rect x="148.30" y="394.74" width="9.60" height="8.30" fill="#a6a6a6"/>
<rect x="159.34" y="394.74" width="9.60" height="8.30" fill="#0000ff"/>
<rect x="170.38" y="394.74" width="9.60" height="8.30" fill="#a6a6a6"/>
<rect x="181.43" y="394.74" width="9.60" height="8.30" fill="#a6a6a6"/>
<rect x="192.47" y="394.74" width="9.60" height="8.30" fill="#0000ff"/>
<rect x="203.52" y="394.74" width="9.60" height="8.30" fill="#a6a6a6"/>
<rect x="214.56" y="394.74" width="9.60" height="8.30" fill="#0000ff"/>
<rect x="225.60" y="394.74" width="9.60" height="8.30" fill="#0000ff"/>
<rect x="236.65" y="394.74" width="9.60" height="8.30" fill="#0000ff"/>
<rect x="247.69" y="394.74" width="9.60" height="8.30" fill="#a6a6a6"/>
<rect x="258.74" y="394.74" width="9.60" height="8.30" fill="#a6a6a6"/>
<rect x="269.78" y="394.74" width="9.60" height="8.30" fill="#0000ff"/>
<rect x="280.82" y="394.74" width="9.60" height="8.30" fill="#0000ff"/>
<rect x="291.87" y="394.74" width="9.60" height="8.30" fill="#a6a6a6"/>
<rect x="302.91" y="394.74" width="9.60" height="8.30" fill="#a6a6a6"/>
<rect x="313.96" y="394.74" width="9.60" height="8.30" fill="#0000ff"/>
<rect x="325.00" y="394.74" width="9.60" height="8.30" fill="#0000ff"/>
<rect x="336.04" y="394.74" width="9.60" height="8.30" fill="#0000ff"/>
<rect x="347.09" y="394.74" width="9.60" height="8.30" fill="#0000ff"/>
<rect x="358.13" y="394.74" width="9.60" height="8.30" fill="#00b0f0"/>
<rect x="369.18" y="394.74" width="9.60" height="8.30" fill="#00b050"/>
<rect x="380.22" y="394.74" width="9.60" height="8.30" fill="#ffff00"/>
<rect x="391.26" y="394.74" width="9.60" height="8.30" fill="#f79646"/>
<rect x="402.31" y="394.74" width="9.60" height="8.30" fill="#f79646"/>
<rect x="413.35" y="394.74" width="9.60" height="8.30" fill="#ffffff"/>
<rect x="424.40" y="394.74" width="9.60" height="8.30" fill="#f79646"/>
<rect x="435.44" y="394.74" width="9.60" height="8.30" fill="#f79646"/>
<rect x="446.48" y="394.74" width="9.60" height="8.30" fill="#ffff00"/>
<rect x="457.53" y="394.74" width="9.60" height="8.30" fill="#00b050"/>
<rect x="468.57" y="394.74" width="9.60" height="8.30" fill="#a6a6a6"/>
<rect x="479.62" y="394.74" width="9.60" height="8.30" fill="#00b0f0"/>
<rect x="490.66" y="394.74" width="9.60" height="8.30" fill="#00b0f0"/>
<rect x="501.70" y="394.74" width="9.60" height="8.30" fill="#0000ff"/>
<rect x="512.75" y="394.74" width="9.60" height="8.30" fill="#0000ff"/>
<rect x="523.79" y="394.74" width="9.60" height="8.30" fill="#0000ff"/>
<rect x="534.84" y="394.74" width="9.60" height="8.30" fill="#0000ff"/>
<rect x="545.88" y="394.74" width="9.60" height="8.30" fill="#a6a6a6"/>
<rect x="556.92" y="394.74" width="9.60" height="8.30" fill="#0000ff"/>
<rect x="567.97" y="394.74" width="9.60" height="8.30" fill="#0000ff"/>
<rect x="579.01" y="394.74" width="9.60" height="8.30" fill="#0000ff"/>
<rect x="590.06" y="394.74" width="9.60" height="8.30" fill="#0000ff"/>
<rect x="601.10" y="394.74" width="9.60" height="8.30" fill="#0000ff"/>
<rect x="612.14" y="394.74" width="9.60" height="8.30" fill="#0000ff"/>
<rect x="623.19" y="394.74" width="9.60" height="8.30" fill="#0000ff"/>
<rect x="634.23" y="394.74" width="9.60" height="8.30" fill="#0000ff"/>
<rect x="645.28" y="394.74" width="9.60" height="8.30" fill="#a6a6a6"/>
<rect x="656.32" y="394.74" width="9.60" height="8.30" fill="#0000ff"/>
<rect x="25.80" y="404.62" width="21.10" height="8.30" fill="#fff"/>
<text x="37.10" y="410.97" font-size="5.6" text-anchor="middle" style="stroke-width:0.17px">36</text>
<rect x="48.90" y="404.62" width="9.60" height="8.30" fill="#0000ff"/>
<rect x="59.94" y="404.62" width="9.60" height="8.30" fill="#a6a6a6"/>
<rect x="70.99" y="404.62" width="9.60" height="8.30" fill="#0000ff"/>
<rect x="82.03" y="404.62" width="9.60" height="8.30" fill="#a6a6a6"/>
<rect x="93.08" y="404.62" width="9.60" height="8.30" fill="#0000ff"/>
<rect x="104.12" y="404.62" width="9.60" height="8.30" fill="#0000ff"/>
<rect x="115.16" y="404.62" width="9.60" height="8.30" fill="#a6a6a6"/>
<rect x="126.21" y="404.62" width="9.60" height="8.30" fill="#0000ff"/>
<rect x="137.25" y="404.62" width="9.60" height="8.30" fill="#0000ff"/>
<rect x="148.30" y="404.62" width="9.60" height="8.30" fill="#a6a6a6"/>
<rect x="159.34" y="404.62" width="9.60" height="8.30" fill="#0000ff"/>
<rect x="170.38" y="404.62" width="9.60" height="8.30" fill="#0000ff"/>
<rect x="181.43" y="404.62" width="9.60" height="8.30" fill="#a6a6a6"/>
<rect x="192.47" y="404.62" width="9.60" height="8.30" fill="#0000ff"/>
<rect x="203.52" y="404.62" width="9.60" height="8.30" fill="#a6a6a6"/>
<rect x="214.56" y="404.62" width="9.60" height="8.30" fill="#0000ff"/>
<rect x="225.60" y="404.62" width="9.60" height="8.30" fill="#0000ff"/>
<rect x="236.65" y="404.62" width="9.60" height="8.30" fill="#0000ff"/>
<rect x="247.69" y="404.62" width="9.60" height="8.30" fill="#0000ff"/>
<rect x="258.74" y="404.62" width="9.60" height="8.30" fill="#a6a6a6"/>
<rect x="269.78" y="404.62" width="9.60" height="8.30" fill="#0000ff"/>
<rect x="280.82" y="404.62" width="9.60" height="8.30" fill="#00b0f0"/>
<rect x="291.87" y="404.62" width="9.60" height="8.30" fill="#00b0f0"/>
<rect x="302.91" y="404.62" width="9.60" height="8.30" fill="#00b0f0"/>
<rect x="313.96" y="404.62" width="9.60" height="8.30" fill="#00b0f0"/>
<rect x="325.00" y="404.62" width="9.60" height="8.30" fill="#00b050"/>
<rect x="336.04" y="404.62" width="9.60" height="8.30" fill="#00b050"/>
<rect x="347.09" y="404.62" width="9.60" height="8.30" fill="#00b050"/>
<rect x="358.13" y="404.62" width="9.60" height="8.30" fill="#0000ff"/>
<rect x="369.18" y="404.62" width="9.60" height="8.30" fill="#ffff00"/>
<rect x="380.22" y="404.62" width="9.60" height="8.30" fill="#ffff00"/>
<rect x="391.26" y="404.62" width="9.60" height="8.30" fill="#ffff00"/>
<rect x="402.31" y="404.62" width="9.60" height="8.30" fill="#f79646"/>
<rect x="413.35" y="404.62" width="9.60" height="8.30" fill="#f79646"/>
<rect x="424.40" y="404.62" width="9.60" height="8.30" fill="#ffffff"/>
<rect x="435.44" y="404.62" width="9.60" height="8.30" fill="#f79646"/>
<rect x="446.48" y="404.62" width="9.60" height="8.30" fill="#f79646"/>
<rect x="457.53" y="404.62" width="9.60" height="8.30" fill="#00b050"/>
<rect x="468.57" y="404.62" width="9.60" height="8.30" fill="#ffff00"/>
<rect x="479.62" y="404.62" width="9.60" height="8.30" fill="#ffff00"/>
<rect x="490.66" y="404.62" width="9.60" height="8.30" fill="#0000ff"/>
<rect x="501.70" y="404.62" width="9.60" height="8.30" fill="#00b0f0"/>
<rect x="512.75" y="404.62" width="9.60" height="8.30" fill="#0000ff"/>
<rect x="523.79" y="404.62" width="9.60" height="8.30" fill="#00b0f0"/>
<rect x="534.84" y="404.62" width="9.60" height="8.30" fill="#00b0f0"/>
<rect x="545.88" y="404.62" width="9.60" height="8.30" fill="#00b0f0"/>
<rect x="556.92" y="404.62" width="9.60" height="8.30" fill="#0000ff"/>
<rect x="567.97" y="404.62" width="9.60" height="8.30" fill="#0000ff"/>
<rect x="579.01" y="404.62" width="9.60" height="8.30" fill="#0000ff"/>
<rect x="590.06" y="404.62" width="9.60" height="8.30" fill="#0000ff"/>
<rect x="601.10" y="404.62" width="9.60" height="8.30" fill="#0000ff"/>
<rect x="612.14" y="404.62" width="9.60" height="8.30" fill="#0000ff"/>
<rect x="623.19" y="404.62" width="9.60" height="8.30" fill="#0000ff"/>
<rect x="634.23" y="404.62" width="9.60" height="8.30" fill="#0000ff"/>
<rect x="645.28" y="404.62" width="9.60" height="8.30" fill="#0000ff"/>
<rect x="656.32" y="404.62" width="9.60" height="8.30" fill="#0000ff"/>
<rect x="25.80" y="414.51" width="21.10" height="8.30" fill="#fff"/>
<text x="37.10" y="420.86" font-size="5.6" text-anchor="middle" style="stroke-width:0.17px">37</text>
<rect x="48.90" y="414.51" width="9.60" height="8.30" fill="#0000ff"/>
<rect x="59.94" y="414.51" width="9.60" height="8.30" fill="#a6a6a6"/>
<rect x="70.99" y="414.51" width="9.60" height="8.30" fill="#0000ff"/>
<rect x="82.03" y="414.51" width="9.60" height="8.30" fill="#a6a6a6"/>
<rect x="93.08" y="414.51" width="9.60" height="8.30" fill="#0000ff"/>
<rect x="104.12" y="414.51" width="9.60" height="8.30" fill="#0000ff"/>
<rect x="115.16" y="414.51" width="9.60" height="8.30" fill="#a6a6a6"/>
<rect x="126.21" y="414.51" width="9.60" height="8.30" fill="#0000ff"/>
<rect x="137.25" y="414.51" width="9.60" height="8.30" fill="#0000ff"/>
<rect x="148.30" y="414.51" width="9.60" height="8.30" fill="#a6a6a6"/>
<rect x="159.34" y="414.51" width="9.60" height="8.30" fill="#0000ff"/>
<rect x="170.38" y="414.51" width="9.60" height="8.30" fill="#0000ff"/>
<rect x="181.43" y="414.51" width="9.60" height="8.30" fill="#a6a6a6"/>
<rect x="192.47" y="414.51" width="9.60" height="8.30" fill="#0000ff"/>
<rect x="203.52" y="414.51" width="9.60" height="8.30" fill="#a6a6a6"/>
<rect x="214.56" y="414.51" width="9.60" height="8.30" fill="#00b0f0"/>
<rect x="225.60" y="414.51" width="9.60" height="8.30" fill="#00b0f0"/>
<rect x="236.65" y="414.51" width="9.60" height="8.30" fill="#0000ff"/>
<rect x="247.69" y="414.51" width="9.60" height="8.30" fill="#0000ff"/>
<rect x="258.74" y="414.51" width="9.60" height="8.30" fill="#a6a6a6"/>
<rect x="269.78" y="414.51" width="9.60" height="8.30" fill="#0000ff"/>
<rect x="280.82" y="414.51" width="9.60" height="8.30" fill="#0000ff"/>
<rect x="291.87" y="414.51" width="9.60" height="8.30" fill="#00b050"/>
<rect x="302.91" y="414.51" width="9.60" height="8.30" fill="#00b0f0"/>
<rect x="313.96" y="414.51" width="9.60" height="8.30" fill="#00b050"/>
<rect x="325.00" y="414.51" width="9.60" height="8.30" fill="#00b050"/>
<rect x="336.04" y="414.51" width="9.60" height="8.30" fill="#00b050"/>
<rect x="347.09" y="414.51" width="9.60" height="8.30" fill="#ffff00"/>
<rect x="358.13" y="414.51" width="9.60" height="8.30" fill="#0000ff"/>
<rect x="369.18" y="414.51" width="9.60" height="8.30" fill="#00b050"/>
<rect x="380.22" y="414.51" width="9.60" height="8.30" fill="#00b050"/>
<rect x="391.26" y="414.51" width="9.60" height="8.30" fill="#ffff00"/>
<rect x="402.31" y="414.51" width="9.60" height="8.30" fill="#f79646"/>
<rect x="413.35" y="414.51" width="9.60" height="8.30" fill="#ffff00"/>
<rect x="424.40" y="414.51" width="9.60" height="8.30" fill="#f79646"/>
<rect x="435.44" y="414.51" width="9.60" height="8.30" fill="#ffffff"/>
<rect x="446.48" y="414.51" width="9.60" height="8.30" fill="#f79646"/>
<rect x="457.53" y="414.51" width="9.60" height="8.30" fill="#00b050"/>
<rect x="468.57" y="414.51" width="9.60" height="8.30" fill="#ffff00"/>
<rect x="479.62" y="414.51" width="9.60" height="8.30" fill="#ffff00"/>
<rect x="490.66" y="414.51" width="9.60" height="8.30" fill="#0000ff"/>
<rect x="501.70" y="414.51" width="9.60" height="8.30" fill="#ffff00"/>
<rect x="512.75" y="414.51" width="9.60" height="8.30" fill="#0000ff"/>
<rect x="523.79" y="414.51" width="9.60" height="8.30" fill="#00b050"/>
<rect x="534.84" y="414.51" width="9.60" height="8.30" fill="#00b050"/>
<rect x="545.88" y="414.51" width="9.60" height="8.30" fill="#00b050"/>
<rect x="556.92" y="414.51" width="9.60" height="8.30" fill="#00b050"/>
<rect x="567.97" y="414.51" width="9.60" height="8.30" fill="#00b050"/>
<rect x="579.01" y="414.51" width="9.60" height="8.30" fill="#00b050"/>
<rect x="590.06" y="414.51" width="9.60" height="8.30" fill="#00b0f0"/>
<rect x="601.10" y="414.51" width="9.60" height="8.30" fill="#0000ff"/>
<rect x="612.14" y="414.51" width="9.60" height="8.30" fill="#0000ff"/>
<rect x="623.19" y="414.51" width="9.60" height="8.30" fill="#0000ff"/>
<rect x="634.23" y="414.51" width="9.60" height="8.30" fill="#0000ff"/>
<rect x="645.28" y="414.51" width="9.60" height="8.30" fill="#0000ff"/>
<rect x="656.32" y="414.51" width="9.60" height="8.30" fill="#00b050"/>
<rect x="25.80" y="424.40" width="21.10" height="8.30" fill="#fff"/>
<text x="37.10" y="430.75" font-size="5.6" text-anchor="middle" style="stroke-width:0.17px">38</text>
<rect x="48.90" y="424.40" width="9.60" height="8.30" fill="#0000ff"/>
<rect x="59.94" y="424.40" width="9.60" height="8.30" fill="#a6a6a6"/>
<rect x="70.99" y="424.40" width="9.60" height="8.30" fill="#0000ff"/>
<rect x="82.03" y="424.40" width="9.60" height="8.30" fill="#a6a6a6"/>
<rect x="93.08" y="424.40" width="9.60" height="8.30" fill="#0000ff"/>
<rect x="104.12" y="424.40" width="9.60" height="8.30" fill="#0000ff"/>
<rect x="115.16" y="424.40" width="9.60" height="8.30" fill="#a6a6a6"/>
<rect x="126.21" y="424.40" width="9.60" height="8.30" fill="#0000ff"/>
<rect x="137.25" y="424.40" width="9.60" height="8.30" fill="#0000ff"/>
<rect x="148.30" y="424.40" width="9.60" height="8.30" fill="#a6a6a6"/>
<rect x="159.34" y="424.40" width="9.60" height="8.30" fill="#0000ff"/>
<rect x="170.38" y="424.40" width="9.60" height="8.30" fill="#0000ff"/>
<rect x="181.43" y="424.40" width="9.60" height="8.30" fill="#a6a6a6"/>
<rect x="192.47" y="424.40" width="9.60" height="8.30" fill="#0000ff"/>
<rect x="203.52" y="424.40" width="9.60" height="8.30" fill="#a6a6a6"/>
<rect x="214.56" y="424.40" width="9.60" height="8.30" fill="#00b0f0"/>
<rect x="225.60" y="424.40" width="9.60" height="8.30" fill="#00b0f0"/>
<rect x="236.65" y="424.40" width="9.60" height="8.30" fill="#0000ff"/>
<rect x="247.69" y="424.40" width="9.60" height="8.30" fill="#0000ff"/>
<rect x="258.74" y="424.40" width="9.60" height="8.30" fill="#a6a6a6"/>
<rect x="269.78" y="424.40" width="9.60" height="8.30" fill="#0000ff"/>
<rect x="280.82" y="424.40" width="9.60" height="8.30" fill="#0000ff"/>
<rect x="291.87" y="424.40" width="9.60" height="8.30" fill="#00b0f0"/>
<rect x="302.91" y="424.40" width="9.60" height="8.30" fill="#0000ff"/>
<rect x="313.96" y="424.40" width="9.60" height="8.30" fill="#00b0f0"/>
<rect x="325.00" y="424.40" width="9.60" height="8.30" fill="#00b050"/>
<rect x="336.04" y="424.40" width="9.60" height="8.30" fill="#00b050"/>
<rect x="347.09" y="424.40" width="9.60" height="8.30" fill="#00b050"/>
<rect x="358.13" y="424.40" width="9.60" height="8.30" fill="#0000ff"/>
<rect x="369.18" y="424.40" width="9.60" height="8.30" fill="#00b050"/>
<rect x="380.22" y="424.40" width="9.60" height="8.30" fill="#00b050"/>
<rect x="391.26" y="424.40" width="9.60" height="8.30" fill="#ffff00"/>
<rect x="402.31" y="424.40" width="9.60" height="8.30" fill="#ffff00"/>
<rect x="413.35" y="424.40" width="9.60" height="8.30" fill="#ffff00"/>
<rect x="424.40" y="424.40" width="9.60" height="8.30" fill="#ffff00"/>
<rect x="435.44" y="424.40" width="9.60" height="8.30" fill="#f79646"/>
<rect x="446.48" y="424.40" width="9.60" height="8.30" fill="#ffffff"/>
<rect x="457.53" y="424.40" width="9.60" height="8.30" fill="#00b050"/>
<rect x="468.57" y="424.40" width="9.60" height="8.30" fill="#ffff00"/>
<rect x="479.62" y="424.40" width="9.60" height="8.30" fill="#ffff00"/>
<rect x="490.66" y="424.40" width="9.60" height="8.30" fill="#00b0f0"/>
<rect x="501.70" y="424.40" width="9.60" height="8.30" fill="#ffff00"/>
<rect x="512.75" y="424.40" width="9.60" height="8.30" fill="#00b0f0"/>
<rect x="523.79" y="424.40" width="9.60" height="8.30" fill="#ffff00"/>
<rect x="534.84" y="424.40" width="9.60" height="8.30" fill="#00b050"/>
<rect x="545.88" y="424.40" width="9.60" height="8.30" fill="#00b050"/>
<rect x="556.92" y="424.40" width="9.60" height="8.30" fill="#00b050"/>
<rect x="567.97" y="424.40" width="9.60" height="8.30" fill="#00b050"/>
<rect x="579.01" y="424.40" width="9.60" height="8.30" fill="#00b050"/>
<rect x="590.06" y="424.40" width="9.60" height="8.30" fill="#00b0f0"/>
<rect x="601.10" y="424.40" width="9.60" height="8.30" fill="#0000ff"/>
<rect x="612.14" y="424.40" width="9.60" height="8.30" fill="#0000ff"/>
<rect x="623.19" y="424.40" width="9.60" height="8.30" fill="#0000ff"/>
<rect x="634.23" y="424.40" width="9.60" height="8.30" fill="#0000ff"/>
<rect x="645.28" y="424.40" width="9.60" height="8.30" fill="#0000ff"/>
<rect x="656.32" y="424.40" width="9.60" height="8.30" fill="#00b050"/>
<rect x="25.80" y="434.28" width="21.10" height="8.30" fill="#fff"/>
<text x="37.10" y="440.63" font-size="5.6" text-anchor="middle" style="stroke-width:0.17px">39</text>
<rect x="48.90" y="434.28" width="9.60" height="8.30" fill="#a6a6a6"/>
<rect x="59.94" y="434.28" width="9.60" height="8.30" fill="#a6a6a6"/>
<rect x="70.99" y="434.28" width="9.60" height="8.30" fill="#0000ff"/>
<rect x="82.03" y="434.28" width="9.60" height="8.30" fill="#a6a6a6"/>
<rect x="93.08" y="434.28" width="9.60" height="8.30" fill="#0000ff"/>
<rect x="104.12" y="434.28" width="9.60" height="8.30" fill="#0000ff"/>
<rect x="115.16" y="434.28" width="9.60" height="8.30" fill="#a6a6a6"/>
<rect x="126.21" y="434.28" width="9.60" height="8.30" fill="#0000ff"/>
<rect x="137.25" y="434.28" width="9.60" height="8.30" fill="#0000ff"/>
<rect x="148.30" y="434.28" width="9.60" height="8.30" fill="#a6a6a6"/>
<rect x="159.34" y="434.28" width="9.60" height="8.30" fill="#0000ff"/>
<rect x="170.38" y="434.28" width="9.60" height="8.30" fill="#a6a6a6"/>
<rect x="181.43" y="434.28" width="9.60" height="8.30" fill="#a6a6a6"/>
<rect x="192.47" y="434.28" width="9.60" height="8.30" fill="#0000ff"/>
<rect x="203.52" y="434.28" width="9.60" height="8.30" fill="#a6a6a6"/>
<rect x="214.56" y="434.28" width="9.60" height="8.30" fill="#0000ff"/>
<rect x="225.60" y="434.28" width="9.60" height="8.30" fill="#0000ff"/>
<rect x="236.65" y="434.28" width="9.60" height="8.30" fill="#0000ff"/>
<rect x="247.69" y="434.28" width="9.60" height="8.30" fill="#a6a6a6"/>
<rect x="258.74" y="434.28" width="9.60" height="8.30" fill="#a6a6a6"/>
<rect x="269.78" y="434.28" width="9.60" height="8.30" fill="#0000ff"/>
<rect x="280.82" y="434.28" width="9.60" height="8.30" fill="#0000ff"/>
<rect x="291.87" y="434.28" width="9.60" height="8.30" fill="#a6a6a6"/>
<rect x="302.91" y="434.28" width="9.60" height="8.30" fill="#a6a6a6"/>
<rect x="313.96" y="434.28" width="9.60" height="8.30" fill="#0000ff"/>
<rect x="325.00" y="434.28" width="9.60" height="8.30" fill="#0000ff"/>
<rect x="336.04" y="434.28" width="9.60" height="8.30" fill="#0000ff"/>
<rect x="347.09" y="434.28" width="9.60" height="8.30" fill="#0000ff"/>
<rect x="358.13" y="434.28" width="9.60" height="8.30" fill="#0000ff"/>
<rect x="369.18" y="434.28" width="9.60" height="8.30" fill="#00b0f0"/>
<rect x="380.22" y="434.28" width="9.60" height="8.30" fill="#00b050"/>
<rect x="391.26" y="434.28" width="9.60" height="8.30" fill="#00b050"/>
<rect x="402.31" y="434.28" width="9.60" height="8.30" fill="#00b050"/>
<rect x="413.35" y="434.28" width="9.60" height="8.30" fill="#00b050"/>
<rect x="424.40" y="434.28" width="9.60" height="8.30" fill="#00b050"/>
<rect x="435.44" y="434.28" width="9.60" height="8.30" fill="#ffff00"/>
<rect x="446.48" y="434.28" width="9.60" height="8.30" fill="#ffff00"/>
<rect x="457.53" y="434.28" width="9.60" height="8.30" fill="#ffffff"/>
<rect x="468.57" y="434.28" width="9.60" height="8.30" fill="#a6a6a6"/>
<rect x="479.62" y="434.28" width="9.60" height="8.30" fill="#f79646"/>
<rect x="490.66" y="434.28" width="9.60" height="8.30" fill="#ffff00"/>
<rect x="501.70" y="434.28" width="9.60" height="8.30" fill="#ffff00"/>
<rect x="512.75" y="434.28" width="9.60" height="8.30" fill="#00b050"/>
<rect x="523.79" y="434.28" width="9.60" height="8.30" fill="#00b050"/>
<rect x="534.84" y="434.28" width="9.60" height="8.30" fill="#00b0f0"/>
<rect x="545.88" y="434.28" width="9.60" height="8.30" fill="#a6a6a6"/>
<rect x="556.92" y="434.28" width="9.60" height="8.30" fill="#00b0f0"/>
<rect x="567.97" y="434.28" width="9.60" height="8.30" fill="#00b0f0"/>
<rect x="579.01" y="434.28" width="9.60" height="8.30" fill="#00b0f0"/>
<rect x="590.06" y="434.28" width="9.60" height="8.30" fill="#0000ff"/>
<rect x="601.10" y="434.28" width="9.60" height="8.30" fill="#0000ff"/>
<rect x="612.14" y="434.28" width="9.60" height="8.30" fill="#0000ff"/>
<rect x="623.19" y="434.28" width="9.60" height="8.30" fill="#0000ff"/>
<rect x="634.23" y="434.28" width="9.60" height="8.30" fill="#0000ff"/>
<rect x="645.28" y="434.28" width="9.60" height="8.30" fill="#a6a6a6"/>
<rect x="656.32" y="434.28" width="9.60" height="8.30" fill="#00b0f0"/>
<rect x="25.80" y="444.17" width="21.10" height="8.30" fill="#fff"/>
<text x="37.10" y="450.52" font-size="5.6" text-anchor="middle" style="stroke-width:0.17px">40</text>
<rect x="48.90" y="444.17" width="9.60" height="8.30" fill="#0000ff"/>
<rect x="59.94" y="444.17" width="9.60" height="8.30" fill="#a6a6a6"/>
<rect x="70.99" y="444.17" width="9.60" height="8.30" fill="#a6a6a6"/>
<rect x="82.03" y="444.17" width="9.60" height="8.30" fill="#a6a6a6"/>
<rect x="93.08" y="444.17" width="9.60" height="8.30" fill="#0000ff"/>
<rect x="104.12" y="444.17" width="9.60" height="8.30" fill="#0000ff"/>
<rect x="115.16" y="444.17" width="9.60" height="8.30" fill="#a6a6a6"/>
<rect x="126.21" y="444.17" width="9.60" height="8.30" fill="#0000ff"/>
<rect x="137.25" y="444.17" width="9.60" height="8.30" fill="#0000ff"/>
<rect x="148.30" y="444.17" width="9.60" height="8.30" fill="#a6a6a6"/>
<rect x="159.34" y="444.17" width="9.60" height="8.30" fill="#a6a6a6"/>
<rect x="170.38" y="444.17" width="9.60" height="8.30" fill="#0000ff"/>
<rect x="181.43" y="444.17" width="9.60" height="8.30" fill="#a6a6a6"/>
<rect x="192.47" y="444.17" width="9.60" height="8.30" fill="#0000ff"/>
<rect x="203.52" y="444.17" width="9.60" height="8.30" fill="#a6a6a6"/>
<rect x="214.56" y="444.17" width="9.60" height="8.30" fill="#0000ff"/>
<rect x="225.60" y="444.17" width="9.60" height="8.30" fill="#0000ff"/>
<rect x="236.65" y="444.17" width="9.60" height="8.30" fill="#a6a6a6"/>
<rect x="247.69" y="444.17" width="9.60" height="8.30" fill="#0000ff"/>
<rect x="258.74" y="444.17" width="9.60" height="8.30" fill="#a6a6a6"/>
<rect x="269.78" y="444.17" width="9.60" height="8.30" fill="#00b0f0"/>
<rect x="280.82" y="444.17" width="9.60" height="8.30" fill="#00b0f0"/>
<rect x="291.87" y="444.17" width="9.60" height="8.30" fill="#00b0f0"/>
<rect x="302.91" y="444.17" width="9.60" height="8.30" fill="#00b0f0"/>
<rect x="313.96" y="444.17" width="9.60" height="8.30" fill="#00b050"/>
<rect x="325.00" y="444.17" width="9.60" height="8.30" fill="#00b050"/>
<rect x="336.04" y="444.17" width="9.60" height="8.30" fill="#00b050"/>
<rect x="347.09" y="444.17" width="9.60" height="8.30" fill="#00b050"/>
<rect x="358.13" y="444.17" width="9.60" height="8.30" fill="#a6a6a6"/>
<rect x="369.18" y="444.17" width="9.60" height="8.30" fill="#ffff00"/>
<rect x="380.22" y="444.17" width="9.60" height="8.30" fill="#00b050"/>
<rect x="391.26" y="444.17" width="9.60" height="8.30" fill="#00b050"/>
<rect x="402.31" y="444.17" width="9.60" height="8.30" fill="#ffff00"/>
<rect x="413.35" y="444.17" width="9.60" height="8.30" fill="#a6a6a6"/>
<rect x="424.40" y="444.17" width="9.60" height="8.30" fill="#f79646"/>
<rect x="435.44" y="444.17" width="9.60" height="8.30" fill="#f79646"/>
<rect x="446.48" y="444.17" width="9.60" height="8.30" fill="#f79646"/>
<rect x="457.53" y="444.17" width="9.60" height="8.30" fill="#a6a6a6"/>
<rect x="468.57" y="444.17" width="9.60" height="8.30" fill="#ffffff"/>
<rect x="479.62" y="444.17" width="9.60" height="8.30" fill="#f79646"/>
<rect x="490.66" y="444.17" width="9.60" height="8.30" fill="#a6a6a6"/>
<rect x="501.70" y="444.17" width="9.60" height="8.30" fill="#00b050"/>
<rect x="512.75" y="444.17" width="9.60" height="8.30" fill="#a6a6a6"/>
<rect x="523.79" y="444.17" width="9.60" height="8.30" fill="#00b050"/>
<rect x="534.84" y="444.17" width="9.60" height="8.30" fill="#00b050"/>
<rect x="545.88" y="444.17" width="9.60" height="8.30" fill="#00b050"/>
<rect x="556.92" y="444.17" width="9.60" height="8.30" fill="#00b050"/>
<rect x="567.97" y="444.17" width="9.60" height="8.30" fill="#00b0f0"/>
<rect x="579.01" y="444.17" width="9.60" height="8.30" fill="#00b0f0"/>
<rect x="590.06" y="444.17" width="9.60" height="8.30" fill="#0000ff"/>
<rect x="601.10" y="444.17" width="9.60" height="8.30" fill="#a6a6a6"/>
<rect x="612.14" y="444.17" width="9.60" height="8.30" fill="#0000ff"/>
<rect x="623.19" y="444.17" width="9.60" height="8.30" fill="#0000ff"/>
<rect x="634.23" y="444.17" width="9.60" height="8.30" fill="#0000ff"/>
<rect x="645.28" y="444.17" width="9.60" height="8.30" fill="#0000ff"/>
<rect x="656.32" y="444.17" width="9.60" height="8.30" fill="#00b0f0"/>
<rect x="25.80" y="454.05" width="21.10" height="8.30" fill="#fff"/>
<text x="37.10" y="460.40" font-size="5.6" text-anchor="middle" style="stroke-width:0.17px">41</text>
<rect x="48.90" y="454.05" width="9.60" height="8.30" fill="#0000ff"/>
<rect x="59.94" y="454.05" width="9.60" height="8.30" fill="#a6a6a6"/>
<rect x="70.99" y="454.05" width="9.60" height="8.30" fill="#0000ff"/>
<rect x="82.03" y="454.05" width="9.60" height="8.30" fill="#a6a6a6"/>
<rect x="93.08" y="454.05" width="9.60" height="8.30" fill="#0000ff"/>
<rect x="104.12" y="454.05" width="9.60" height="8.30" fill="#0000ff"/>
<rect x="115.16" y="454.05" width="9.60" height="8.30" fill="#a6a6a6"/>
<rect x="126.21" y="454.05" width="9.60" height="8.30" fill="#0000ff"/>
<rect x="137.25" y="454.05" width="9.60" height="8.30" fill="#0000ff"/>
<rect x="148.30" y="454.05" width="9.60" height="8.30" fill="#a6a6a6"/>
<rect x="159.34" y="454.05" width="9.60" height="8.30" fill="#0000ff"/>
<rect x="170.38" y="454.05" width="9.60" height="8.30" fill="#0000ff"/>
<rect x="181.43" y="454.05" width="9.60" height="8.30" fill="#a6a6a6"/>
<rect x="192.47" y="454.05" width="9.60" height="8.30" fill="#0000ff"/>
<rect x="203.52" y="454.05" width="9.60" height="8.30" fill="#a6a6a6"/>
<rect x="214.56" y="454.05" width="9.60" height="8.30" fill="#00b0f0"/>
<rect x="225.60" y="454.05" width="9.60" height="8.30" fill="#00b0f0"/>
<rect x="236.65" y="454.05" width="9.60" height="8.30" fill="#0000ff"/>
<rect x="247.69" y="454.05" width="9.60" height="8.30" fill="#0000ff"/>
<rect x="258.74" y="454.05" width="9.60" height="8.30" fill="#a6a6a6"/>
<rect x="269.78" y="454.05" width="9.60" height="8.30" fill="#0000ff"/>
<rect x="280.82" y="454.05" width="9.60" height="8.30" fill="#0000ff"/>
<rect x="291.87" y="454.05" width="9.60" height="8.30" fill="#00b0f0"/>
<rect x="302.91" y="454.05" width="9.60" height="8.30" fill="#0000ff"/>
<rect x="313.96" y="454.05" width="9.60" height="8.30" fill="#00b0f0"/>
<rect x="325.00" y="454.05" width="9.60" height="8.30" fill="#00b050"/>
<rect x="336.04" y="454.05" width="9.60" height="8.30" fill="#00b050"/>
<rect x="347.09" y="454.05" width="9.60" height="8.30" fill="#00b050"/>
<rect x="358.13" y="454.05" width="9.60" height="8.30" fill="#0000ff"/>
<rect x="369.18" y="454.05" width="9.60" height="8.30" fill="#00b050"/>
<rect x="380.22" y="454.05" width="9.60" height="8.30" fill="#00b0f0"/>
<rect x="391.26" y="454.05" width="9.60" height="8.30" fill="#00b050"/>
<rect x="402.31" y="454.05" width="9.60" height="8.30" fill="#ffff00"/>
<rect x="413.35" y="454.05" width="9.60" height="8.30" fill="#00b0f0"/>
<rect x="424.40" y="454.05" width="9.60" height="8.30" fill="#ffff00"/>
<rect x="435.44" y="454.05" width="9.60" height="8.30" fill="#ffff00"/>
<rect x="446.48" y="454.05" width="9.60" height="8.30" fill="#f79646"/>
<rect x="457.53" y="454.05" width="9.60" height="8.30" fill="#ffff00"/>
<rect x="468.57" y="454.05" width="9.60" height="8.30" fill="#f79646"/>
<rect x="479.62" y="454.05" width="9.60" height="8.30" fill="#ffffff"/>
<rect x="490.66" y="454.05" width="9.60" height="8.30" fill="#ffff00"/>
<rect x="501.70" y="454.05" width="9.60" height="8.30" fill="#f79646"/>
<rect x="512.75" y="454.05" width="9.60" height="8.30" fill="#00b050"/>
<rect x="523.79" y="454.05" width="9.60" height="8.30" fill="#ffff00"/>
<rect x="534.84" y="454.05" width="9.60" height="8.30" fill="#ffff00"/>
<rect x="545.88" y="454.05" width="9.60" height="8.30" fill="#ffff00"/>
<rect x="556.92" y="454.05" width="9.60" height="8.30" fill="#ffff00"/>
<rect x="567.97" y="454.05" width="9.60" height="8.30" fill="#00b050"/>
<rect x="579.01" y="454.05" width="9.60" height="8.30" fill="#00b050"/>
<rect x="590.06" y="454.05" width="9.60" height="8.30" fill="#00b050"/>
<rect x="601.10" y="454.05" width="9.60" height="8.30" fill="#0000ff"/>
<rect x="612.14" y="454.05" width="9.60" height="8.30" fill="#00b0f0"/>
<rect x="623.19" y="454.05" width="9.60" height="8.30" fill="#00b0f0"/>
<rect x="634.23" y="454.05" width="9.60" height="8.30" fill="#0000ff"/>
<rect x="645.28" y="454.05" width="9.60" height="8.30" fill="#0000ff"/>
<rect x="656.32" y="454.05" width="9.60" height="8.30" fill="#00b050"/>
<rect x="25.80" y="463.94" width="21.10" height="8.30" fill="#fff"/>
<text x="37.10" y="470.29" font-size="5.6" text-anchor="middle" style="stroke-width:0.17px">42</text>
<rect x="48.90" y="463.94" width="9.60" height="8.30" fill="#a6a6a6"/>
<rect x="59.94" y="463.94" width="9.60" height="8.30" fill="#a6a6a6"/>
<rect x="70.99" y="463.94" width="9.60" height="8.30" fill="#0000ff"/>
<rect x="82.03" y="463.94" width="9.60" height="8.30" fill="#a6a6a6"/>
<rect x="93.08" y="463.94" width="9.60" height="8.30" fill="#0000ff"/>
<rect x="104.12" y="463.94" width="9.60" height="8.30" fill="#0000ff"/>
<rect x="115.16" y="463.94" width="9.60" height="8.30" fill="#a6a6a6"/>
<rect x="126.21" y="463.94" width="9.60" height="8.30" fill="#0000ff"/>
<rect x="137.25" y="463.94" width="9.60" height="8.30" fill="#0000ff"/>
<rect x="148.30" y="463.94" width="9.60" height="8.30" fill="#a6a6a6"/>
<rect x="159.34" y="463.94" width="9.60" height="8.30" fill="#0000ff"/>
<rect x="170.38" y="463.94" width="9.60" height="8.30" fill="#a6a6a6"/>
<rect x="181.43" y="463.94" width="9.60" height="8.30" fill="#a6a6a6"/>
<rect x="192.47" y="463.94" width="9.60" height="8.30" fill="#0000ff"/>
<rect x="203.52" y="463.94" width="9.60" height="8.30" fill="#a6a6a6"/>
<rect x="214.56" y="463.94" width="9.60" height="8.30" fill="#0000ff"/>
<rect x="225.60" y="463.94" width="9.60" height="8.30" fill="#0000ff"/>
<rect x="236.65" y="463.94" width="9.60" height="8.30" fill="#0000ff"/>
<rect x="247.69" y="463.94" width="9.60" height="8.30" fill="#a6a6a6"/>
<rect x="258.74" y="463.94" width="9.60" height="8.30" fill="#a6a6a6"/>
<rect x="269.78" y="463.94" width="9.60" height="8.30" fill="#0000ff"/>
<rect x="280.82" y="463.94" width="9.60" height="8.30" fill="#0000ff"/>
<rect x="291.87" y="463.94" width="9.60" height="8.30" fill="#a6a6a6"/>
<rect x="302.91" y="463.94" width="9.60" height="8.30" fill="#a6a6a6"/>
<rect x="313.96" y="463.94" width="9.60" height="8.30" fill="#0000ff"/>
<rect x="325.00" y="463.94" width="9.60" height="8.30" fill="#0000ff"/>
<rect x="336.04" y="463.94" width="9.60" height="8.30" fill="#0000ff"/>
<rect x="347.09" y="463.94" width="9.60" height="8.30" fill="#0000ff"/>
<rect x="358.13" y="463.94" width="9.60" height="8.30" fill="#0000ff"/>
<rect x="369.18" y="463.94" width="9.60" height="8.30" fill="#0000ff"/>
<rect x="380.22" y="463.94" width="9.60" height="8.30" fill="#00b0f0"/>
<rect x="391.26" y="463.94" width="9.60" height="8.30" fill="#00b0f0"/>
<rect x="402.31" y="463.94" width="9.60" height="8.30" fill="#00b0f0"/>
<rect x="413.35" y="463.94" width="9.60" height="8.30" fill="#00b0f0"/>
<rect x="424.40" y="463.94" width="9.60" height="8.30" fill="#00b0f0"/>
<rect x="435.44" y="463.94" width="9.60" height="8.30" fill="#00b0f0"/>
<rect x="446.48" y="463.94" width="9.60" height="8.30" fill="#00b050"/>
<rect x="457.53" y="463.94" width="9.60" height="8.30" fill="#ffff00"/>
<rect x="468.57" y="463.94" width="9.60" height="8.30" fill="#a6a6a6"/>
<rect x="479.62" y="463.94" width="9.60" height="8.30" fill="#f79646"/>
<rect x="490.66" y="463.94" width="9.60" height="8.30" fill="#ffffff"/>
<rect x="501.70" y="463.94" width="9.60" height="8.30" fill="#f79646"/>
<rect x="512.75" y="463.94" width="9.60" height="8.30" fill="#f79646"/>
<rect x="523.79" y="463.94" width="9.60" height="8.30" fill="#ffff00"/>
<rect x="534.84" y="463.94" width="9.60" height="8.30" fill="#00b050"/>
<rect x="545.88" y="463.94" width="9.60" height="8.30" fill="#a6a6a6"/>
<rect x="556.92" y="463.94" width="9.60" height="8.30" fill="#00b050"/>
<rect x="567.97" y="463.94" width="9.60" height="8.30" fill="#00b050"/>
<rect x="579.01" y="463.94" width="9.60" height="8.30" fill="#00b0f0"/>
<rect x="590.06" y="463.94" width="9.60" height="8.30" fill="#00b0f0"/>
<rect x="601.10" y="463.94" width="9.60" height="8.30" fill="#0000ff"/>
<rect x="612.14" y="463.94" width="9.60" height="8.30" fill="#0000ff"/>
<rect x="623.19" y="463.94" width="9.60" height="8.30" fill="#0000ff"/>
<rect x="634.23" y="463.94" width="9.60" height="8.30" fill="#0000ff"/>
<rect x="645.28" y="463.94" width="9.60" height="8.30" fill="#a6a6a6"/>
<rect x="656.32" y="463.94" width="9.60" height="8.30" fill="#00b0f0"/>
<rect x="25.80" y="473.83" width="21.10" height="8.30" fill="#fff"/>
<text x="37.10" y="480.18" font-size="5.6" text-anchor="middle" style="stroke-width:0.17px">43</text>
<rect x="48.90" y="473.83" width="9.60" height="8.30" fill="#0000ff"/>
<rect x="59.94" y="473.83" width="9.60" height="8.30" fill="#a6a6a6"/>
<rect x="70.99" y="473.83" width="9.60" height="8.30" fill="#0000ff"/>
<rect x="82.03" y="473.83" width="9.60" height="8.30" fill="#a6a6a6"/>
<rect x="93.08" y="473.83" width="9.60" height="8.30" fill="#0000ff"/>
<rect x="104.12" y="473.83" width="9.60" height="8.30" fill="#0000ff"/>
<rect x="115.16" y="473.83" width="9.60" height="8.30" fill="#a6a6a6"/>
<rect x="126.21" y="473.83" width="9.60" height="8.30" fill="#0000ff"/>
<rect x="137.25" y="473.83" width="9.60" height="8.30" fill="#0000ff"/>
<rect x="148.30" y="473.83" width="9.60" height="8.30" fill="#a6a6a6"/>
<rect x="159.34" y="473.83" width="9.60" height="8.30" fill="#0000ff"/>
<rect x="170.38" y="473.83" width="9.60" height="8.30" fill="#0000ff"/>
<rect x="181.43" y="473.83" width="9.60" height="8.30" fill="#a6a6a6"/>
<rect x="192.47" y="473.83" width="9.60" height="8.30" fill="#0000ff"/>
<rect x="203.52" y="473.83" width="9.60" height="8.30" fill="#a6a6a6"/>
<rect x="214.56" y="473.83" width="9.60" height="8.30" fill="#0000ff"/>
<rect x="225.60" y="473.83" width="9.60" height="8.30" fill="#00b0f0"/>
<rect x="236.65" y="473.83" width="9.60" height="8.30" fill="#0000ff"/>
<rect x="247.69" y="473.83" width="9.60" height="8.30" fill="#0000ff"/>
<rect x="258.74" y="473.83" width="9.60" height="8.30" fill="#a6a6a6"/>
<rect x="269.78" y="473.83" width="9.60" height="8.30" fill="#0000ff"/>
<rect x="280.82" y="473.83" width="9.60" height="8.30" fill="#0000ff"/>
<rect x="291.87" y="473.83" width="9.60" height="8.30" fill="#00b0f0"/>
<rect x="302.91" y="473.83" width="9.60" height="8.30" fill="#0000ff"/>
<rect x="313.96" y="473.83" width="9.60" height="8.30" fill="#00b0f0"/>
<rect x="325.00" y="473.83" width="9.60" height="8.30" fill="#00b0f0"/>
<rect x="336.04" y="473.83" width="9.60" height="8.30" fill="#00b050"/>
<rect x="347.09" y="473.83" width="9.60" height="8.30" fill="#00b050"/>
<rect x="358.13" y="473.83" width="9.60" height="8.30" fill="#0000ff"/>
<rect x="369.18" y="473.83" width="9.60" height="8.30" fill="#0000ff"/>
<rect x="380.22" y="473.83" width="9.60" height="8.30" fill="#0000ff"/>
<rect x="391.26" y="473.83" width="9.60" height="8.30" fill="#00b050"/>
<rect x="402.31" y="473.83" width="9.60" height="8.30" fill="#00b050"/>
<rect x="413.35" y="473.83" width="9.60" height="8.30" fill="#0000ff"/>
<rect x="424.40" y="473.83" width="9.60" height="8.30" fill="#00b0f0"/>
<rect x="435.44" y="473.83" width="9.60" height="8.30" fill="#ffff00"/>
<rect x="446.48" y="473.83" width="9.60" height="8.30" fill="#ffff00"/>
<rect x="457.53" y="473.83" width="9.60" height="8.30" fill="#00b050"/>
<rect x="468.57" y="473.83" width="9.60" height="8.30" fill="#00b050"/>
<rect x="479.62" y="473.83" width="9.60" height="8.30" fill="#f79646"/>
<rect x="490.66" y="473.83" width="9.60" height="8.30" fill="#ffff00"/>
<rect x="501.70" y="473.83" width="9.60" height="8.30" fill="#ffffff"/>
<rect x="512.75" y="473.83" width="9.60" height="8.30" fill="#ffff00"/>
<rect x="523.79" y="473.83" width="9.60" height="8.30" fill="#f79646"/>
<rect x="534.84" y="473.83" width="9.60" height="8.30" fill="#f79646"/>
<rect x="545.88" y="473.83" width="9.60" height="8.30" fill="#ffff00"/>
<rect x="556.92" y="473.83" width="9.60" height="8.30" fill="#ffff00"/>
<rect x="567.97" y="473.83" width="9.60" height="8.30" fill="#ffff00"/>
<rect x="579.01" y="473.83" width="9.60" height="8.30" fill="#00b050"/>
<rect x="590.06" y="473.83" width="9.60" height="8.30" fill="#00b050"/>
<rect x="601.10" y="473.83" width="9.60" height="8.30" fill="#0000ff"/>
<rect x="612.14" y="473.83" width="9.60" height="8.30" fill="#00b0f0"/>
<rect x="623.19" y="473.83" width="9.60" height="8.30" fill="#00b0f0"/>
<rect x="634.23" y="473.83" width="9.60" height="8.30" fill="#00b0f0"/>
<rect x="645.28" y="473.83" width="9.60" height="8.30" fill="#0000ff"/>
<rect x="656.32" y="473.83" width="9.60" height="8.30" fill="#00b050"/>
<rect x="25.80" y="483.71" width="21.10" height="8.30" fill="#fff"/>
<text x="37.10" y="490.06" font-size="5.6" text-anchor="middle" style="stroke-width:0.17px">44</text>
<rect x="48.90" y="483.71" width="9.60" height="8.30" fill="#a6a6a6"/>
<rect x="59.94" y="483.71" width="9.60" height="8.30" fill="#a6a6a6"/>
<rect x="70.99" y="483.71" width="9.60" height="8.30" fill="#0000ff"/>
<rect x="82.03" y="483.71" width="9.60" height="8.30" fill="#a6a6a6"/>
<rect x="93.08" y="483.71" width="9.60" height="8.30" fill="#0000ff"/>
<rect x="104.12" y="483.71" width="9.60" height="8.30" fill="#0000ff"/>
<rect x="115.16" y="483.71" width="9.60" height="8.30" fill="#a6a6a6"/>
<rect x="126.21" y="483.71" width="9.60" height="8.30" fill="#0000ff"/>
<rect x="137.25" y="483.71" width="9.60" height="8.30" fill="#0000ff"/>
<rect x="148.30" y="483.71" width="9.60" height="8.30" fill="#a6a6a6"/>
<rect x="159.34" y="483.71" width="9.60" height="8.30" fill="#0000ff"/>
<rect x="170.38" y="483.71" width="9.60" height="8.30" fill="#a6a6a6"/>
<rect x="181.43" y="483.71" width="9.60" height="8.30" fill="#a6a6a6"/>
<rect x="192.47" y="483.71" width="9.60" height="8.30" fill="#0000ff"/>
<rect x="203.52" y="483.71" width="9.60" height="8.30" fill="#a6a6a6"/>
<rect x="214.56" y="483.71" width="9.60" height="8.30" fill="#0000ff"/>
<rect x="225.60" y="483.71" width="9.60" height="8.30" fill="#0000ff"/>
<rect x="236.65" y="483.71" width="9.60" height="8.30" fill="#0000ff"/>
<rect x="247.69" y="483.71" width="9.60" height="8.30" fill="#a6a6a6"/>
<rect x="258.74" y="483.71" width="9.60" height="8.30" fill="#a6a6a6"/>
<rect x="269.78" y="483.71" width="9.60" height="8.30" fill="#0000ff"/>
<rect x="280.82" y="483.71" width="9.60" height="8.30" fill="#0000ff"/>
<rect x="291.87" y="483.71" width="9.60" height="8.30" fill="#a6a6a6"/>
<rect x="302.91" y="483.71" width="9.60" height="8.30" fill="#a6a6a6"/>
<rect x="313.96" y="483.71" width="9.60" height="8.30" fill="#0000ff"/>
<rect x="325.00" y="483.71" width="9.60" height="8.30" fill="#0000ff"/>
<rect x="336.04" y="483.71" width="9.60" height="8.30" fill="#0000ff"/>
<rect x="347.09" y="483.71" width="9.60" height="8.30" fill="#0000ff"/>
<rect x="358.13" y="483.71" width="9.60" height="8.30" fill="#0000ff"/>
<rect x="369.18" y="483.71" width="9.60" height="8.30" fill="#0000ff"/>
<rect x="380.22" y="483.71" width="9.60" height="8.30" fill="#0000ff"/>
<rect x="391.26" y="483.71" width="9.60" height="8.30" fill="#0000ff"/>
<rect x="402.31" y="483.71" width="9.60" height="8.30" fill="#0000ff"/>
<rect x="413.35" y="483.71" width="9.60" height="8.30" fill="#00b0f0"/>
<rect x="424.40" y="483.71" width="9.60" height="8.30" fill="#00b0f0"/>
<rect x="435.44" y="483.71" width="9.60" height="8.30" fill="#00b0f0"/>
<rect x="446.48" y="483.71" width="9.60" height="8.30" fill="#00b0f0"/>
<rect x="457.53" y="483.71" width="9.60" height="8.30" fill="#00b050"/>
<rect x="468.57" y="483.71" width="9.60" height="8.30" fill="#a6a6a6"/>
<rect x="479.62" y="483.71" width="9.60" height="8.30" fill="#ffff00"/>
<rect x="490.66" y="483.71" width="9.60" height="8.30" fill="#f79646"/>
<rect x="501.70" y="483.71" width="9.60" height="8.30" fill="#f79646"/>
<rect x="512.75" y="483.71" width="9.60" height="8.30" fill="#ffffff"/>
<rect x="523.79" y="483.71" width="9.60" height="8.30" fill="#f79646"/>
<rect x="534.84" y="483.71" width="9.60" height="8.30" fill="#ffff00"/>
<rect x="545.88" y="483.71" width="9.60" height="8.30" fill="#a6a6a6"/>
<rect x="556.92" y="483.71" width="9.60" height="8.30" fill="#ffff00"/>
<rect x="567.97" y="483.71" width="9.60" height="8.30" fill="#ffff00"/>
<rect x="579.01" y="483.71" width="9.60" height="8.30" fill="#00b050"/>
<rect x="590.06" y="483.71" width="9.60" height="8.30" fill="#00b0f0"/>
<rect x="601.10" y="483.71" width="9.60" height="8.30" fill="#0000ff"/>
<rect x="612.14" y="483.71" width="9.60" height="8.30" fill="#0000ff"/>
<rect x="623.19" y="483.71" width="9.60" height="8.30" fill="#0000ff"/>
<rect x="634.23" y="483.71" width="9.60" height="8.30" fill="#0000ff"/>
<rect x="645.28" y="483.71" width="9.60" height="8.30" fill="#a6a6a6"/>
<rect x="656.32" y="483.71" width="9.60" height="8.30" fill="#00b050"/>
<rect x="25.80" y="493.60" width="21.10" height="8.30" fill="#fff"/>
<text x="37.10" y="499.95" font-size="5.6" text-anchor="middle" style="stroke-width:0.17px">45</text>
<rect x="48.90" y="493.60" width="9.60" height="8.30" fill="#0000ff"/>
<rect x="59.94" y="493.60" width="9.60" height="8.30" fill="#a6a6a6"/>
<rect x="70.99" y="493.60" width="9.60" height="8.30" fill="#0000ff"/>
<rect x="82.03" y="493.60" width="9.60" height="8.30" fill="#a6a6a6"/>
<rect x="93.08" y="493.60" width="9.60" height="8.30" fill="#0000ff"/>
<rect x="104.12" y="493.60" width="9.60" height="8.30" fill="#0000ff"/>
<rect x="115.16" y="493.60" width="9.60" height="8.30" fill="#a6a6a6"/>
<rect x="126.21" y="493.60" width="9.60" height="8.30" fill="#0000ff"/>
<rect x="137.25" y="493.60" width="9.60" height="8.30" fill="#0000ff"/>
<rect x="148.30" y="493.60" width="9.60" height="8.30" fill="#a6a6a6"/>
<rect x="159.34" y="493.60" width="9.60" height="8.30" fill="#0000ff"/>
<rect x="170.38" y="493.60" width="9.60" height="8.30" fill="#0000ff"/>
<rect x="181.43" y="493.60" width="9.60" height="8.30" fill="#a6a6a6"/>
<rect x="192.47" y="493.60" width="9.60" height="8.30" fill="#0000ff"/>
<rect x="203.52" y="493.60" width="9.60" height="8.30" fill="#a6a6a6"/>
<rect x="214.56" y="493.60" width="9.60" height="8.30" fill="#0000ff"/>
<rect x="225.60" y="493.60" width="9.60" height="8.30" fill="#0000ff"/>
<rect x="236.65" y="493.60" width="9.60" height="8.30" fill="#0000ff"/>
<rect x="247.69" y="493.60" width="9.60" height="8.30" fill="#0000ff"/>
<rect x="258.74" y="493.60" width="9.60" height="8.30" fill="#a6a6a6"/>
<rect x="269.78" y="493.60" width="9.60" height="8.30" fill="#0000ff"/>
<rect x="280.82" y="493.60" width="9.60" height="8.30" fill="#0000ff"/>
<rect x="291.87" y="493.60" width="9.60" height="8.30" fill="#00b0f0"/>
<rect x="302.91" y="493.60" width="9.60" height="8.30" fill="#0000ff"/>
<rect x="313.96" y="493.60" width="9.60" height="8.30" fill="#00b0f0"/>
<rect x="325.00" y="493.60" width="9.60" height="8.30" fill="#00b0f0"/>
<rect x="336.04" y="493.60" width="9.60" height="8.30" fill="#00b0f0"/>
<rect x="347.09" y="493.60" width="9.60" height="8.30" fill="#00b050"/>
<rect x="358.13" y="493.60" width="9.60" height="8.30" fill="#0000ff"/>
<rect x="369.18" y="493.60" width="9.60" height="8.30" fill="#0000ff"/>
<rect x="380.22" y="493.60" width="9.60" height="8.30" fill="#0000ff"/>
<rect x="391.26" y="493.60" width="9.60" height="8.30" fill="#00b050"/>
<rect x="402.31" y="493.60" width="9.60" height="8.30" fill="#00b050"/>
<rect x="413.35" y="493.60" width="9.60" height="8.30" fill="#0000ff"/>
<rect x="424.40" y="493.60" width="9.60" height="8.30" fill="#00b0f0"/>
<rect x="435.44" y="493.60" width="9.60" height="8.30" fill="#00b050"/>
<rect x="446.48" y="493.60" width="9.60" height="8.30" fill="#ffff00"/>
<rect x="457.53" y="493.60" width="9.60" height="8.30" fill="#00b0f0"/>
<rect x="468.57" y="493.60" width="9.60" height="8.30" fill="#00b050"/>
<rect x="479.62" y="493.60" width="9.60" height="8.30" fill="#ffff00"/>
<rect x="490.66" y="493.60" width="9.60" height="8.30" fill="#00b050"/>
<rect x="501.70" y="493.60" width="9.60" height="8.30" fill="#f79646"/>
<rect x="512.75" y="493.60" width="9.60" height="8.30" fill="#ffff00"/>
<rect x="523.79" y="493.60" width="9.60" height="8.30" fill="#ffffff"/>
<rect x="534.84" y="493.60" width="9.60" height="8.30" fill="#f79646"/>
<rect x="545.88" y="493.60" width="9.60" height="8.30" fill="#ffff00"/>
<rect x="556.92" y="493.60" width="9.60" height="8.30" fill="#ffff00"/>
<rect x="567.97" y="493.60" width="9.60" height="8.30" fill="#ffff00"/>
<rect x="579.01" y="493.60" width="9.60" height="8.30" fill="#ffff00"/>
<rect x="590.06" y="493.60" width="9.60" height="8.30" fill="#00b050"/>
<rect x="601.10" y="493.60" width="9.60" height="8.30" fill="#0000ff"/>
<rect x="612.14" y="493.60" width="9.60" height="8.30" fill="#00b0f0"/>
<rect x="623.19" y="493.60" width="9.60" height="8.30" fill="#00b0f0"/>
<rect x="634.23" y="493.60" width="9.60" height="8.30" fill="#00b0f0"/>
<rect x="645.28" y="493.60" width="9.60" height="8.30" fill="#0000ff"/>
<rect x="656.32" y="493.60" width="9.60" height="8.30" fill="#00b050"/>
<rect x="25.80" y="503.48" width="21.10" height="8.30" fill="#fff"/>
<text x="37.10" y="509.83" font-size="5.6" text-anchor="middle" style="stroke-width:0.17px">46</text>
<rect x="48.90" y="503.48" width="9.60" height="8.30" fill="#0000ff"/>
<rect x="59.94" y="503.48" width="9.60" height="8.30" fill="#a6a6a6"/>
<rect x="70.99" y="503.48" width="9.60" height="8.30" fill="#0000ff"/>
<rect x="82.03" y="503.48" width="9.60" height="8.30" fill="#a6a6a6"/>
<rect x="93.08" y="503.48" width="9.60" height="8.30" fill="#0000ff"/>
<rect x="104.12" y="503.48" width="9.60" height="8.30" fill="#0000ff"/>
<rect x="115.16" y="503.48" width="9.60" height="8.30" fill="#a6a6a6"/>
<rect x="126.21" y="503.48" width="9.60" height="8.30" fill="#0000ff"/>
<rect x="137.25" y="503.48" width="9.60" height="8.30" fill="#0000ff"/>
<rect x="148.30" y="503.48" width="9.60" height="8.30" fill="#a6a6a6"/>
<rect x="159.34" y="503.48" width="9.60" height="8.30" fill="#0000ff"/>
<rect x="170.38" y="503.48" width="9.60" height="8.30" fill="#0000ff"/>
<rect x="181.43" y="503.48" width="9.60" height="8.30" fill="#a6a6a6"/>
<rect x="192.47" y="503.48" width="9.60" height="8.30" fill="#0000ff"/>
<rect x="203.52" y="503.48" width="9.60" height="8.30" fill="#a6a6a6"/>
<rect x="214.56" y="503.48" width="9.60" height="8.30" fill="#0000ff"/>
<rect x="225.60" y="503.48" width="9.60" height="8.30" fill="#0000ff"/>
<rect x="236.65" y="503.48" width="9.60" height="8.30" fill="#0000ff"/>
<rect x="247.69" y="503.48" width="9.60" height="8.30" fill="#0000ff"/>
<rect x="258.74" y="503.48" width="9.60" height="8.30" fill="#a6a6a6"/>
<rect x="269.78" y="503.48" width="9.60" height="8.30" fill="#0000ff"/>
<rect x="280.82" y="503.48" width="9.60" height="8.30" fill="#0000ff"/>
<rect x="291.87" y="503.48" width="9.60" height="8.30" fill="#00b0f0"/>
<rect x="302.91" y="503.48" width="9.60" height="8.30" fill="#0000ff"/>
<rect x="313.96" y="503.48" width="9.60" height="8.30" fill="#00b0f0"/>
<rect x="325.00" y="503.48" width="9.60" height="8.30" fill="#00b0f0"/>
<rect x="336.04" y="503.48" width="9.60" height="8.30" fill="#00b0f0"/>
<rect x="347.09" y="503.48" width="9.60" height="8.30" fill="#00b050"/>
<rect x="358.13" y="503.48" width="9.60" height="8.30" fill="#0000ff"/>
<rect x="369.18" y="503.48" width="9.60" height="8.30" fill="#0000ff"/>
<rect x="380.22" y="503.48" width="9.60" height="8.30" fill="#0000ff"/>
<rect x="391.26" y="503.48" width="9.60" height="8.30" fill="#00b050"/>
<rect x="402.31" y="503.48" width="9.60" height="8.30" fill="#00b050"/>
<rect x="413.35" y="503.48" width="9.60" height="8.30" fill="#0000ff"/>
<rect x="424.40" y="503.48" width="9.60" height="8.30" fill="#00b0f0"/>
<rect x="435.44" y="503.48" width="9.60" height="8.30" fill="#00b050"/>
<rect x="446.48" y="503.48" width="9.60" height="8.30" fill="#ffff00"/>
<rect x="457.53" y="503.48" width="9.60" height="8.30" fill="#00b0f0"/>
<rect x="468.57" y="503.48" width="9.60" height="8.30" fill="#00b050"/>
<rect x="479.62" y="503.48" width="9.60" height="8.30" fill="#ffff00"/>
<rect x="490.66" y="503.48" width="9.60" height="8.30" fill="#00b050"/>
<rect x="501.70" y="503.48" width="9.60" height="8.30" fill="#f79646"/>
<rect x="512.75" y="503.48" width="9.60" height="8.30" fill="#ffff00"/>
<rect x="523.79" y="503.48" width="9.60" height="8.30" fill="#f79646"/>
<rect x="534.84" y="503.48" width="9.60" height="8.30" fill="#ffffff"/>
<rect x="545.88" y="503.48" width="9.60" height="8.30" fill="#f79646"/>
<rect x="556.92" y="503.48" width="9.60" height="8.30" fill="#f79646"/>
<rect x="567.97" y="503.48" width="9.60" height="8.30" fill="#ffff00"/>
<rect x="579.01" y="503.48" width="9.60" height="8.30" fill="#ffff00"/>
<rect x="590.06" y="503.48" width="9.60" height="8.30" fill="#00b050"/>
<rect x="601.10" y="503.48" width="9.60" height="8.30" fill="#00b0f0"/>
<rect x="612.14" y="503.48" width="9.60" height="8.30" fill="#00b0f0"/>
<rect x="623.19" y="503.48" width="9.60" height="8.30" fill="#00b0f0"/>
<rect x="634.23" y="503.48" width="9.60" height="8.30" fill="#00b0f0"/>
<rect x="645.28" y="503.48" width="9.60" height="8.30" fill="#0000ff"/>
<rect x="656.32" y="503.48" width="9.60" height="8.30" fill="#ffff00"/>
<rect x="25.80" y="513.37" width="21.10" height="8.30" fill="#fff"/>
<text x="37.10" y="519.72" font-size="5.6" text-anchor="middle" style="stroke-width:0.17px">47</text>
<rect x="48.90" y="513.37" width="9.60" height="8.30" fill="#0000ff"/>
<rect x="59.94" y="513.37" width="9.60" height="8.30" fill="#a6a6a6"/>
<rect x="70.99" y="513.37" width="9.60" height="8.30" fill="#a6a6a6"/>
<rect x="82.03" y="513.37" width="9.60" height="8.30" fill="#a6a6a6"/>
<rect x="93.08" y="513.37" width="9.60" height="8.30" fill="#0000ff"/>
<rect x="104.12" y="513.37" width="9.60" height="8.30" fill="#0000ff"/>
<rect x="115.16" y="513.37" width="9.60" height="8.30" fill="#a6a6a6"/>
<rect x="126.21" y="513.37" width="9.60" height="8.30" fill="#0000ff"/>
<rect x="137.25" y="513.37" width="9.60" height="8.30" fill="#0000ff"/>
<rect x="148.30" y="513.37" width="9.60" height="8.30" fill="#a6a6a6"/>
<rect x="159.34" y="513.37" width="9.60" height="8.30" fill="#a6a6a6"/>
<rect x="170.38" y="513.37" width="9.60" height="8.30" fill="#0000ff"/>
<rect x="181.43" y="513.37" width="9.60" height="8.30" fill="#a6a6a6"/>
<rect x="192.47" y="513.37" width="9.60" height="8.30" fill="#0000ff"/>
<rect x="203.52" y="513.37" width="9.60" height="8.30" fill="#a6a6a6"/>
<rect x="214.56" y="513.37" width="9.60" height="8.30" fill="#0000ff"/>
<rect x="225.60" y="513.37" width="9.60" height="8.30" fill="#00b0f0"/>
<rect x="236.65" y="513.37" width="9.60" height="8.30" fill="#a6a6a6"/>
<rect x="247.69" y="513.37" width="9.60" height="8.30" fill="#0000ff"/>
<rect x="258.74" y="513.37" width="9.60" height="8.30" fill="#a6a6a6"/>
<rect x="269.78" y="513.37" width="9.60" height="8.30" fill="#0000ff"/>
<rect x="280.82" y="513.37" width="9.60" height="8.30" fill="#0000ff"/>
<rect x="291.87" y="513.37" width="9.60" height="8.30" fill="#00b0f0"/>
<rect x="302.91" y="513.37" width="9.60" height="8.30" fill="#0000ff"/>
<rect x="313.96" y="513.37" width="9.60" height="8.30" fill="#00b0f0"/>
<rect x="325.00" y="513.37" width="9.60" height="8.30" fill="#00b0f0"/>
<rect x="336.04" y="513.37" width="9.60" height="8.30" fill="#00b050"/>
<rect x="347.09" y="513.37" width="9.60" height="8.30" fill="#00b050"/>
<rect x="358.13" y="513.37" width="9.60" height="8.30" fill="#a6a6a6"/>
<rect x="369.18" y="513.37" width="9.60" height="8.30" fill="#0000ff"/>
<rect x="380.22" y="513.37" width="9.60" height="8.30" fill="#0000ff"/>
<rect x="391.26" y="513.37" width="9.60" height="8.30" fill="#00b050"/>
<rect x="402.31" y="513.37" width="9.60" height="8.30" fill="#00b050"/>
<rect x="413.35" y="513.37" width="9.60" height="8.30" fill="#a6a6a6"/>
<rect x="424.40" y="513.37" width="9.60" height="8.30" fill="#00b0f0"/>
<rect x="435.44" y="513.37" width="9.60" height="8.30" fill="#ffff00"/>
<rect x="446.48" y="513.37" width="9.60" height="8.30" fill="#ffff00"/>
<rect x="457.53" y="513.37" width="9.60" height="8.30" fill="#a6a6a6"/>
<rect x="468.57" y="513.37" width="9.60" height="8.30" fill="#00b050"/>
<rect x="479.62" y="513.37" width="9.60" height="8.30" fill="#ffff00"/>
<rect x="490.66" y="513.37" width="9.60" height="8.30" fill="#a6a6a6"/>
<rect x="501.70" y="513.37" width="9.60" height="8.30" fill="#f79646"/>
<rect x="512.75" y="513.37" width="9.60" height="8.30" fill="#a6a6a6"/>
<rect x="523.79" y="513.37" width="9.60" height="8.30" fill="#f79646"/>
<rect x="534.84" y="513.37" width="9.60" height="8.30" fill="#f79646"/>
<rect x="545.88" y="513.37" width="9.60" height="8.30" fill="#ffffff"/>
<rect x="556.92" y="513.37" width="9.60" height="8.30" fill="#f79646"/>
<rect x="567.97" y="513.37" width="9.60" height="8.30" fill="#f79646"/>
<rect x="579.01" y="513.37" width="9.60" height="8.30" fill="#ffff00"/>
<rect x="590.06" y="513.37" width="9.60" height="8.30" fill="#ffff00"/>
<rect x="601.10" y="513.37" width="9.60" height="8.30" fill="#a6a6a6"/>
<rect x="612.14" y="513.37" width="9.60" height="8.30" fill="#00b050"/>
<rect x="623.19" y="513.37" width="9.60" height="8.30" fill="#00b050"/>
<rect x="634.23" y="513.37" width="9.60" height="8.30" fill="#00b050"/>
<rect x="645.28" y="513.37" width="9.60" height="8.30" fill="#0000ff"/>
<rect x="656.32" y="513.37" width="9.60" height="8.30" fill="#ffff00"/>
<rect x="25.80" y="523.26" width="21.10" height="8.30" fill="#fff"/>
<text x="37.10" y="529.61" font-size="5.6" text-anchor="middle" style="stroke-width:0.17px">48</text>
<rect x="48.90" y="523.26" width="9.60" height="8.30" fill="#0000ff"/>
<rect x="59.94" y="523.26" width="9.60" height="8.30" fill="#a6a6a6"/>
<rect x="70.99" y="523.26" width="9.60" height="8.30" fill="#0000ff"/>
<rect x="82.03" y="523.26" width="9.60" height="8.30" fill="#a6a6a6"/>
<rect x="93.08" y="523.26" width="9.60" height="8.30" fill="#0000ff"/>
<rect x="104.12" y="523.26" width="9.60" height="8.30" fill="#0000ff"/>
<rect x="115.16" y="523.26" width="9.60" height="8.30" fill="#a6a6a6"/>
<rect x="126.21" y="523.26" width="9.60" height="8.30" fill="#0000ff"/>
<rect x="137.25" y="523.26" width="9.60" height="8.30" fill="#0000ff"/>
<rect x="148.30" y="523.26" width="9.60" height="8.30" fill="#a6a6a6"/>
<rect x="159.34" y="523.26" width="9.60" height="8.30" fill="#0000ff"/>
<rect x="170.38" y="523.26" width="9.60" height="8.30" fill="#0000ff"/>
<rect x="181.43" y="523.26" width="9.60" height="8.30" fill="#a6a6a6"/>
<rect x="192.47" y="523.26" width="9.60" height="8.30" fill="#0000ff"/>
<rect x="203.52" y="523.26" width="9.60" height="8.30" fill="#a6a6a6"/>
<rect x="214.56" y="523.26" width="9.60" height="8.30" fill="#0000ff"/>
<rect x="225.60" y="523.26" width="9.60" height="8.30" fill="#0000ff"/>
<rect x="236.65" y="523.26" width="9.60" height="8.30" fill="#0000ff"/>
<rect x="247.69" y="523.26" width="9.60" height="8.30" fill="#0000ff"/>
<rect x="258.74" y="523.26" width="9.60" height="8.30" fill="#a6a6a6"/>
<rect x="269.78" y="523.26" width="9.60" height="8.30" fill="#0000ff"/>
<rect x="280.82" y="523.26" width="9.60" height="8.30" fill="#0000ff"/>
<rect x="291.87" y="523.26" width="9.60" height="8.30" fill="#0000ff"/>
<rect x="302.91" y="523.26" width="9.60" height="8.30" fill="#0000ff"/>
<rect x="313.96" y="523.26" width="9.60" height="8.30" fill="#00b0f0"/>
<rect x="325.00" y="523.26" width="9.60" height="8.30" fill="#00b0f0"/>
<rect x="336.04" y="523.26" width="9.60" height="8.30" fill="#00b0f0"/>
<rect x="347.09" y="523.26" width="9.60" height="8.30" fill="#00b0f0"/>
<rect x="358.13" y="523.26" width="9.60" height="8.30" fill="#0000ff"/>
<rect x="369.18" y="523.26" width="9.60" height="8.30" fill="#0000ff"/>
<rect x="380.22" y="523.26" width="9.60" height="8.30" fill="#0000ff"/>
<rect x="391.26" y="523.26" width="9.60" height="8.30" fill="#00b050"/>
<rect x="402.31" y="523.26" width="9.60" height="8.30" fill="#00b050"/>
<rect x="413.35" y="523.26" width="9.60" height="8.30" fill="#0000ff"/>
<rect x="424.40" y="523.26" width="9.60" height="8.30" fill="#0000ff"/>
<rect x="435.44" y="523.26" width="9.60" height="8.30" fill="#00b050"/>
<rect x="446.48" y="523.26" width="9.60" height="8.30" fill="#00b050"/>
<rect x="457.53" y="523.26" width="9.60" height="8.30" fill="#00b0f0"/>
<rect x="468.57" y="523.26" width="9.60" height="8.30" fill="#00b0f0"/>
<rect x="479.62" y="523.26" width="9.60" height="8.30" fill="#ffff00"/>
<rect x="490.66" y="523.26" width="9.60" height="8.30" fill="#00b050"/>
<rect x="501.70" y="523.26" width="9.60" height="8.30" fill="#ffff00"/>
<rect x="512.75" y="523.26" width="9.60" height="8.30" fill="#ffff00"/>
<rect x="523.79" y="523.26" width="9.60" height="8.30" fill="#ffff00"/>
<rect x="534.84" y="523.26" width="9.60" height="8.30" fill="#f79646"/>
<rect x="545.88" y="523.26" width="9.60" height="8.30" fill="#f79646"/>
<rect x="556.92" y="523.26" width="9.60" height="8.30" fill="#ffffff"/>
<rect x="567.97" y="523.26" width="9.60" height="8.30" fill="#f79646"/>
<rect x="579.01" y="523.26" width="9.60" height="8.30" fill="#ffff00"/>
<rect x="590.06" y="523.26" width="9.60" height="8.30" fill="#ffff00"/>
<rect x="601.10" y="523.26" width="9.60" height="8.30" fill="#00b0f0"/>
<rect x="612.14" y="523.26" width="9.60" height="8.30" fill="#00b050"/>
<rect x="623.19" y="523.26" width="9.60" height="8.30" fill="#00b050"/>
<rect x="634.23" y="523.26" width="9.60" height="8.30" fill="#00b050"/>
<rect x="645.28" y="523.26" width="9.60" height="8.30" fill="#00b0f0"/>
<rect x="656.32" y="523.26" width="9.60" height="8.30" fill="#ffff00"/>
<rect x="25.80" y="533.14" width="21.10" height="8.30" fill="#fff"/>
<text x="37.10" y="539.49" font-size="5.6" text-anchor="middle" style="stroke-width:0.17px">49</text>
<rect x="48.90" y="533.14" width="9.60" height="8.30" fill="#0000ff"/>
<rect x="59.94" y="533.14" width="9.60" height="8.30" fill="#a6a6a6"/>
<rect x="70.99" y="533.14" width="9.60" height="8.30" fill="#0000ff"/>
<rect x="82.03" y="533.14" width="9.60" height="8.30" fill="#a6a6a6"/>
<rect x="93.08" y="533.14" width="9.60" height="8.30" fill="#0000ff"/>
<rect x="104.12" y="533.14" width="9.60" height="8.30" fill="#0000ff"/>
<rect x="115.16" y="533.14" width="9.60" height="8.30" fill="#a6a6a6"/>
<rect x="126.21" y="533.14" width="9.60" height="8.30" fill="#0000ff"/>
<rect x="137.25" y="533.14" width="9.60" height="8.30" fill="#0000ff"/>
<rect x="148.30" y="533.14" width="9.60" height="8.30" fill="#a6a6a6"/>
<rect x="159.34" y="533.14" width="9.60" height="8.30" fill="#0000ff"/>
<rect x="170.38" y="533.14" width="9.60" height="8.30" fill="#0000ff"/>
<rect x="181.43" y="533.14" width="9.60" height="8.30" fill="#a6a6a6"/>
<rect x="192.47" y="533.14" width="9.60" height="8.30" fill="#0000ff"/>
<rect x="203.52" y="533.14" width="9.60" height="8.30" fill="#a6a6a6"/>
<rect x="214.56" y="533.14" width="9.60" height="8.30" fill="#0000ff"/>
<rect x="225.60" y="533.14" width="9.60" height="8.30" fill="#0000ff"/>
<rect x="236.65" y="533.14" width="9.60" height="8.30" fill="#0000ff"/>
<rect x="247.69" y="533.14" width="9.60" height="8.30" fill="#0000ff"/>
<rect x="258.74" y="533.14" width="9.60" height="8.30" fill="#a6a6a6"/>
<rect x="269.78" y="533.14" width="9.60" height="8.30" fill="#0000ff"/>
<rect x="280.82" y="533.14" width="9.60" height="8.30" fill="#0000ff"/>
<rect x="291.87" y="533.14" width="9.60" height="8.30" fill="#0000ff"/>
<rect x="302.91" y="533.14" width="9.60" height="8.30" fill="#0000ff"/>
<rect x="313.96" y="533.14" width="9.60" height="8.30" fill="#0000ff"/>
<rect x="325.00" y="533.14" width="9.60" height="8.30" fill="#00b0f0"/>
<rect x="336.04" y="533.14" width="9.60" height="8.30" fill="#00b0f0"/>
<rect x="347.09" y="533.14" width="9.60" height="8.30" fill="#00b0f0"/>
<rect x="358.13" y="533.14" width="9.60" height="8.30" fill="#0000ff"/>
<rect x="369.18" y="533.14" width="9.60" height="8.30" fill="#0000ff"/>
<rect x="380.22" y="533.14" width="9.60" height="8.30" fill="#0000ff"/>
<rect x="391.26" y="533.14" width="9.60" height="8.30" fill="#00b0f0"/>
<rect x="402.31" y="533.14" width="9.60" height="8.30" fill="#00b050"/>
<rect x="413.35" y="533.14" width="9.60" height="8.30" fill="#0000ff"/>
<rect x="424.40" y="533.14" width="9.60" height="8.30" fill="#0000ff"/>
<rect x="435.44" y="533.14" width="9.60" height="8.30" fill="#00b050"/>
<rect x="446.48" y="533.14" width="9.60" height="8.30" fill="#00b050"/>
<rect x="457.53" y="533.14" width="9.60" height="8.30" fill="#0000ff"/>
<rect x="468.57" y="533.14" width="9.60" height="8.30" fill="#00b0f0"/>
<rect x="479.62" y="533.14" width="9.60" height="8.30" fill="#00b050"/>
<rect x="490.66" y="533.14" width="9.60" height="8.30" fill="#00b0f0"/>
<rect x="501.70" y="533.14" width="9.60" height="8.30" fill="#ffff00"/>
<rect x="512.75" y="533.14" width="9.60" height="8.30" fill="#00b050"/>
<rect x="523.79" y="533.14" width="9.60" height="8.30" fill="#ffff00"/>
<rect x="534.84" y="533.14" width="9.60" height="8.30" fill="#ffff00"/>
<rect x="545.88" y="533.14" width="9.60" height="8.30" fill="#ffff00"/>
<rect x="556.92" y="533.14" width="9.60" height="8.30" fill="#f79646"/>
<rect x="567.97" y="533.14" width="9.60" height="8.30" fill="#ffffff"/>
<rect x="579.01" y="533.14" width="9.60" height="8.30" fill="#f79646"/>
<rect x="590.06" y="533.14" width="9.60" height="8.30" fill="#ffff00"/>
<rect x="601.10" y="533.14" width="9.60" height="8.30" fill="#00b050"/>
<rect x="612.14" y="533.14" width="9.60" height="8.30" fill="#00b050"/>
<rect x="623.19" y="533.14" width="9.60" height="8.30" fill="#00b050"/>
<rect x="634.23" y="533.14" width="9.60" height="8.30" fill="#00b050"/>
<rect x="645.28" y="533.14" width="9.60" height="8.30" fill="#00b0f0"/>
<rect x="656.32" y="533.14" width="9.60" height="8.30" fill="#ffff00"/>
<rect x="25.80" y="543.03" width="21.10" height="8.30" fill="#fff"/>
<text x="37.10" y="549.38" font-size="5.6" text-anchor="middle" style="stroke-width:0.17px">50</text>
<rect x="48.90" y="543.03" width="9.60" height="8.30" fill="#0000ff"/>
<rect x="59.94" y="543.03" width="9.60" height="8.30" fill="#a6a6a6"/>
<rect x="70.99" y="543.03" width="9.60" height="8.30" fill="#0000ff"/>
<rect x="82.03" y="543.03" width="9.60" height="8.30" fill="#a6a6a6"/>
<rect x="93.08" y="543.03" width="9.60" height="8.30" fill="#0000ff"/>
<rect x="104.12" y="543.03" width="9.60" height="8.30" fill="#0000ff"/>
<rect x="115.16" y="543.03" width="9.60" height="8.30" fill="#a6a6a6"/>
<rect x="126.21" y="543.03" width="9.60" height="8.30" fill="#0000ff"/>
<rect x="137.25" y="543.03" width="9.60" height="8.30" fill="#0000ff"/>
<rect x="148.30" y="543.03" width="9.60" height="8.30" fill="#a6a6a6"/>
<rect x="159.34" y="543.03" width="9.60" height="8.30" fill="#0000ff"/>
<rect x="170.38" y="543.03" width="9.60" height="8.30" fill="#0000ff"/>
<rect x="181.43" y="543.03" width="9.60" height="8.30" fill="#a6a6a6"/>
<rect x="192.47" y="543.03" width="9.60" height="8.30" fill="#0000ff"/>
<rect x="203.52" y="543.03" width="9.60" height="8.30" fill="#a6a6a6"/>
<rect x="214.56" y="543.03" width="9.60" height="8.30" fill="#0000ff"/>
<rect x="225.60" y="543.03" width="9.60" height="8.30" fill="#0000ff"/>
<rect x="236.65" y="543.03" width="9.60" height="8.30" fill="#0000ff"/>
<rect x="247.69" y="543.03" width="9.60" height="8.30" fill="#0000ff"/>
<rect x="258.74" y="543.03" width="9.60" height="8.30" fill="#a6a6a6"/>
<rect x="269.78" y="543.03" width="9.60" height="8.30" fill="#0000ff"/>
<rect x="280.82" y="543.03" width="9.60" height="8.30" fill="#0000ff"/>
<rect x="291.87" y="543.03" width="9.60" height="8.30" fill="#0000ff"/>
<rect x="302.91" y="543.03" width="9.60" height="8.30" fill="#0000ff"/>
<rect x="313.96" y="543.03" width="9.60" height="8.30" fill="#0000ff"/>
<rect x="325.00" y="543.03" width="9.60" height="8.30" fill="#00b0f0"/>
<rect x="336.04" y="543.03" width="9.60" height="8.30" fill="#00b0f0"/>
<rect x="347.09" y="543.03" width="9.60" height="8.30" fill="#00b0f0"/>
<rect x="358.13" y="543.03" width="9.60" height="8.30" fill="#0000ff"/>
<rect x="369.18" y="543.03" width="9.60" height="8.30" fill="#0000ff"/>
<rect x="380.22" y="543.03" width="9.60" height="8.30" fill="#0000ff"/>
<rect x="391.26" y="543.03" width="9.60" height="8.30" fill="#00b0f0"/>
<rect x="402.31" y="543.03" width="9.60" height="8.30" fill="#00b050"/>
<rect x="413.35" y="543.03" width="9.60" height="8.30" fill="#0000ff"/>
<rect x="424.40" y="543.03" width="9.60" height="8.30" fill="#0000ff"/>
<rect x="435.44" y="543.03" width="9.60" height="8.30" fill="#00b050"/>
<rect x="446.48" y="543.03" width="9.60" height="8.30" fill="#00b050"/>
<rect x="457.53" y="543.03" width="9.60" height="8.30" fill="#0000ff"/>
<rect x="468.57" y="543.03" width="9.60" height="8.30" fill="#0000ff"/>
<rect x="479.62" y="543.03" width="9.60" height="8.30" fill="#00b050"/>
<rect x="490.66" y="543.03" width="9.60" height="8.30" fill="#00b0f0"/>
<rect x="501.70" y="543.03" width="9.60" height="8.30" fill="#00b050"/>
<rect x="512.75" y="543.03" width="9.60" height="8.30" fill="#00b0f0"/>
<rect x="523.79" y="543.03" width="9.60" height="8.30" fill="#ffff00"/>
<rect x="534.84" y="543.03" width="9.60" height="8.30" fill="#ffff00"/>
<rect x="545.88" y="543.03" width="9.60" height="8.30" fill="#ffff00"/>
<rect x="556.92" y="543.03" width="9.60" height="8.30" fill="#f79646"/>
<rect x="567.97" y="543.03" width="9.60" height="8.30" fill="#f79646"/>
<rect x="579.01" y="543.03" width="9.60" height="8.30" fill="#ffffff"/>
<rect x="590.06" y="543.03" width="9.60" height="8.30" fill="#f79646"/>
<rect x="601.10" y="543.03" width="9.60" height="8.30" fill="#00b050"/>
<rect x="612.14" y="543.03" width="9.60" height="8.30" fill="#ffff00"/>
<rect x="623.19" y="543.03" width="9.60" height="8.30" fill="#ffff00"/>
<rect x="634.23" y="543.03" width="9.60" height="8.30" fill="#ffff00"/>
<rect x="645.28" y="543.03" width="9.60" height="8.30" fill="#00b050"/>
<rect x="656.32" y="543.03" width="9.60" height="8.30" fill="#f79646"/>
<rect x="25.80" y="552.91" width="21.10" height="8.30" fill="#fff"/>
<text x="37.10" y="559.26" font-size="5.6" text-anchor="middle" style="stroke-width:0.17px">51</text>
<rect x="48.90" y="552.91" width="9.60" height="8.30" fill="#0000ff"/>
<rect x="59.94" y="552.91" width="9.60" height="8.30" fill="#a6a6a6"/>
<rect x="70.99" y="552.91" width="9.60" height="8.30" fill="#0000ff"/>
<rect x="82.03" y="552.91" width="9.60" height="8.30" fill="#a6a6a6"/>
<rect x="93.08" y="552.91" width="9.60" height="8.30" fill="#0000ff"/>
<rect x="104.12" y="552.91" width="9.60" height="8.30" fill="#0000ff"/>
<rect x="115.16" y="552.91" width="9.60" height="8.30" fill="#a6a6a6"/>
<rect x="126.21" y="552.91" width="9.60" height="8.30" fill="#0000ff"/>
<rect x="137.25" y="552.91" width="9.60" height="8.30" fill="#0000ff"/>
<rect x="148.30" y="552.91" width="9.60" height="8.30" fill="#a6a6a6"/>
<rect x="159.34" y="552.91" width="9.60" height="8.30" fill="#0000ff"/>
<rect x="170.38" y="552.91" width="9.60" height="8.30" fill="#0000ff"/>
<rect x="181.43" y="552.91" width="9.60" height="8.30" fill="#a6a6a6"/>
<rect x="192.47" y="552.91" width="9.60" height="8.30" fill="#0000ff"/>
<rect x="203.52" y="552.91" width="9.60" height="8.30" fill="#a6a6a6"/>
<rect x="214.56" y="552.91" width="9.60" height="8.30" fill="#0000ff"/>
<rect x="225.60" y="552.91" width="9.60" height="8.30" fill="#0000ff"/>
<rect x="236.65" y="552.91" width="9.60" height="8.30" fill="#0000ff"/>
<rect x="247.69" y="552.91" width="9.60" height="8.30" fill="#0000ff"/>
<rect x="258.74" y="552.91" width="9.60" height="8.30" fill="#a6a6a6"/>
<rect x="269.78" y="552.91" width="9.60" height="8.30" fill="#0000ff"/>
<rect x="280.82" y="552.91" width="9.60" height="8.30" fill="#0000ff"/>
<rect x="291.87" y="552.91" width="9.60" height="8.30" fill="#0000ff"/>
<rect x="302.91" y="552.91" width="9.60" height="8.30" fill="#0000ff"/>
<rect x="313.96" y="552.91" width="9.60" height="8.30" fill="#0000ff"/>
<rect x="325.00" y="552.91" width="9.60" height="8.30" fill="#0000ff"/>
<rect x="336.04" y="552.91" width="9.60" height="8.30" fill="#0000ff"/>
<rect x="347.09" y="552.91" width="9.60" height="8.30" fill="#00b0f0"/>
<rect x="358.13" y="552.91" width="9.60" height="8.30" fill="#0000ff"/>
<rect x="369.18" y="552.91" width="9.60" height="8.30" fill="#0000ff"/>
<rect x="380.22" y="552.91" width="9.60" height="8.30" fill="#0000ff"/>
<rect x="391.26" y="552.91" width="9.60" height="8.30" fill="#00b0f0"/>
<rect x="402.31" y="552.91" width="9.60" height="8.30" fill="#00b0f0"/>
<rect x="413.35" y="552.91" width="9.60" height="8.30" fill="#0000ff"/>
<rect x="424.40" y="552.91" width="9.60" height="8.30" fill="#0000ff"/>
<rect x="435.44" y="552.91" width="9.60" height="8.30" fill="#00b0f0"/>
<rect x="446.48" y="552.91" width="9.60" height="8.30" fill="#00b050"/>
<rect x="457.53" y="552.91" width="9.60" height="8.30" fill="#0000ff"/>
<rect x="468.57" y="552.91" width="9.60" height="8.30" fill="#0000ff"/>
<rect x="479.62" y="552.91" width="9.60" height="8.30" fill="#00b050"/>
<rect x="490.66" y="552.91" width="9.60" height="8.30" fill="#0000ff"/>
<rect x="501.70" y="552.91" width="9.60" height="8.30" fill="#00b050"/>
<rect x="512.75" y="552.91" width="9.60" height="8.30" fill="#00b0f0"/>
<rect x="523.79" y="552.91" width="9.60" height="8.30" fill="#00b050"/>
<rect x="534.84" y="552.91" width="9.60" height="8.30" fill="#00b050"/>
<rect x="545.88" y="552.91" width="9.60" height="8.30" fill="#ffff00"/>
<rect x="556.92" y="552.91" width="9.60" height="8.30" fill="#ffff00"/>
<rect x="567.97" y="552.91" width="9.60" height="8.30" fill="#ffff00"/>
<rect x="579.01" y="552.91" width="9.60" height="8.30" fill="#f79646"/>
<rect x="590.06" y="552.91" width="9.60" height="8.30" fill="#ffffff"/>
<rect x="601.10" y="552.91" width="9.60" height="8.30" fill="#00b050"/>
<rect x="612.14" y="552.91" width="9.60" height="8.30" fill="#ffff00"/>
<rect x="623.19" y="552.91" width="9.60" height="8.30" fill="#ffff00"/>
<rect x="634.23" y="552.91" width="9.60" height="8.30" fill="#ffff00"/>
<rect x="645.28" y="552.91" width="9.60" height="8.30" fill="#00b050"/>
<rect x="656.32" y="552.91" width="9.60" height="8.30" fill="#f79646"/>
<rect x="25.80" y="562.80" width="21.10" height="8.30" fill="#fff"/>
<text x="37.10" y="569.15" font-size="5.6" text-anchor="middle" style="stroke-width:0.17px">52</text>
<rect x="48.90" y="562.80" width="9.60" height="8.30" fill="#a6a6a6"/>
<rect x="59.94" y="562.80" width="9.60" height="8.30" fill="#a6a6a6"/>
<rect x="70.99" y="562.80" width="9.60" height="8.30" fill="#0000ff"/>
<rect x="82.03" y="562.80" width="9.60" height="8.30" fill="#a6a6a6"/>
<rect x="93.08" y="562.80" width="9.60" height="8.30" fill="#0000ff"/>
<rect x="104.12" y="562.80" width="9.60" height="8.30" fill="#0000ff"/>
<rect x="115.16" y="562.80" width="9.60" height="8.30" fill="#a6a6a6"/>
<rect x="126.21" y="562.80" width="9.60" height="8.30" fill="#0000ff"/>
<rect x="137.25" y="562.80" width="9.60" height="8.30" fill="#0000ff"/>
<rect x="148.30" y="562.80" width="9.60" height="8.30" fill="#a6a6a6"/>
<rect x="159.34" y="562.80" width="9.60" height="8.30" fill="#0000ff"/>
<rect x="170.38" y="562.80" width="9.60" height="8.30" fill="#a6a6a6"/>
<rect x="181.43" y="562.80" width="9.60" height="8.30" fill="#a6a6a6"/>
<rect x="192.47" y="562.80" width="9.60" height="8.30" fill="#0000ff"/>
<rect x="203.52" y="562.80" width="9.60" height="8.30" fill="#a6a6a6"/>
<rect x="214.56" y="562.80" width="9.60" height="8.30" fill="#0000ff"/>
<rect x="225.60" y="562.80" width="9.60" height="8.30" fill="#0000ff"/>
<rect x="236.65" y="562.80" width="9.60" height="8.30" fill="#0000ff"/>
<rect x="247.69" y="562.80" width="9.60" height="8.30" fill="#a6a6a6"/>
<rect x="258.74" y="562.80" width="9.60" height="8.30" fill="#a6a6a6"/>
<rect x="269.78" y="562.80" width="9.60" height="8.30" fill="#0000ff"/>
<rect x="280.82" y="562.80" width="9.60" height="8.30" fill="#0000ff"/>
<rect x="291.87" y="562.80" width="9.60" height="8.30" fill="#a6a6a6"/>
<rect x="302.91" y="562.80" width="9.60" height="8.30" fill="#a6a6a6"/>
<rect x="313.96" y="562.80" width="9.60" height="8.30" fill="#0000ff"/>
<rect x="325.00" y="562.80" width="9.60" height="8.30" fill="#0000ff"/>
<rect x="336.04" y="562.80" width="9.60" height="8.30" fill="#0000ff"/>
<rect x="347.09" y="562.80" width="9.60" height="8.30" fill="#0000ff"/>
<rect x="358.13" y="562.80" width="9.60" height="8.30" fill="#0000ff"/>
<rect x="369.18" y="562.80" width="9.60" height="8.30" fill="#0000ff"/>
<rect x="380.22" y="562.80" width="9.60" height="8.30" fill="#0000ff"/>
<rect x="391.26" y="562.80" width="9.60" height="8.30" fill="#0000ff"/>
<rect x="402.31" y="562.80" width="9.60" height="8.30" fill="#0000ff"/>
<rect x="413.35" y="562.80" width="9.60" height="8.30" fill="#0000ff"/>
<rect x="424.40" y="562.80" width="9.60" height="8.30" fill="#0000ff"/>
<rect x="435.44" y="562.80" width="9.60" height="8.30" fill="#0000ff"/>
<rect x="446.48" y="562.80" width="9.60" height="8.30" fill="#0000ff"/>
<rect x="457.53" y="562.80" width="9.60" height="8.30" fill="#0000ff"/>
<rect x="468.57" y="562.80" width="9.60" height="8.30" fill="#a6a6a6"/>
<rect x="479.62" y="562.80" width="9.60" height="8.30" fill="#0000ff"/>
<rect x="490.66" y="562.80" width="9.60" height="8.30" fill="#0000ff"/>
<rect x="501.70" y="562.80" width="9.60" height="8.30" fill="#0000ff"/>
<rect x="512.75" y="562.80" width="9.60" height="8.30" fill="#00b0f0"/>
<rect x="523.79" y="562.80" width="9.60" height="8.30" fill="#00b0f0"/>
<rect x="534.84" y="562.80" width="9.60" height="8.30" fill="#00b050"/>
<rect x="545.88" y="562.80" width="9.60" height="8.30" fill="#a6a6a6"/>
<rect x="556.92" y="562.80" width="9.60" height="8.30" fill="#00b050"/>
<rect x="567.97" y="562.80" width="9.60" height="8.30" fill="#ffff00"/>
<rect x="579.01" y="562.80" width="9.60" height="8.30" fill="#ffff00"/>
<rect x="590.06" y="562.80" width="9.60" height="8.30" fill="#ffff00"/>
<rect x="601.10" y="562.80" width="9.60" height="8.30" fill="#ffffff"/>
<rect x="612.14" y="562.80" width="9.60" height="8.30" fill="#ffff00"/>
<rect x="623.19" y="562.80" width="9.60" height="8.30" fill="#ffff00"/>
<rect x="634.23" y="562.80" width="9.60" height="8.30" fill="#00b050"/>
<rect x="645.28" y="562.80" width="9.60" height="8.30" fill="#a6a6a6"/>
<rect x="656.32" y="562.80" width="9.60" height="8.30" fill="#ffff00"/>
<rect x="25.80" y="572.69" width="21.10" height="8.30" fill="#fff"/>
<text x="37.10" y="579.04" font-size="5.6" text-anchor="middle" style="stroke-width:0.17px">53</text>
<rect x="48.90" y="572.69" width="9.60" height="8.30" fill="#0000ff"/>
<rect x="59.94" y="572.69" width="9.60" height="8.30" fill="#a6a6a6"/>
<rect x="70.99" y="572.69" width="9.60" height="8.30" fill="#0000ff"/>
<rect x="82.03" y="572.69" width="9.60" height="8.30" fill="#a6a6a6"/>
<rect x="93.08" y="572.69" width="9.60" height="8.30" fill="#0000ff"/>
<rect x="104.12" y="572.69" width="9.60" height="8.30" fill="#0000ff"/>
<rect x="115.16" y="572.69" width="9.60" height="8.30" fill="#a6a6a6"/>
<rect x="126.21" y="572.69" width="9.60" height="8.30" fill="#0000ff"/>
<rect x="137.25" y="572.69" width="9.60" height="8.30" fill="#0000ff"/>
<rect x="148.30" y="572.69" width="9.60" height="8.30" fill="#a6a6a6"/>
<rect x="159.34" y="572.69" width="9.60" height="8.30" fill="#0000ff"/>
<rect x="170.38" y="572.69" width="9.60" height="8.30" fill="#0000ff"/>
<rect x="181.43" y="572.69" width="9.60" height="8.30" fill="#a6a6a6"/>
<rect x="192.47" y="572.69" width="9.60" height="8.30" fill="#0000ff"/>
<rect x="203.52" y="572.69" width="9.60" height="8.30" fill="#a6a6a6"/>
<rect x="214.56" y="572.69" width="9.60" height="8.30" fill="#0000ff"/>
<rect x="225.60" y="572.69" width="9.60" height="8.30" fill="#0000ff"/>
<rect x="236.65" y="572.69" width="9.60" height="8.30" fill="#0000ff"/>
<rect x="247.69" y="572.69" width="9.60" height="8.30" fill="#0000ff"/>
<rect x="258.74" y="572.69" width="9.60" height="8.30" fill="#a6a6a6"/>
<rect x="269.78" y="572.69" width="9.60" height="8.30" fill="#0000ff"/>
<rect x="280.82" y="572.69" width="9.60" height="8.30" fill="#0000ff"/>
<rect x="291.87" y="572.69" width="9.60" height="8.30" fill="#0000ff"/>
<rect x="302.91" y="572.69" width="9.60" height="8.30" fill="#0000ff"/>
<rect x="313.96" y="572.69" width="9.60" height="8.30" fill="#0000ff"/>
<rect x="325.00" y="572.69" width="9.60" height="8.30" fill="#0000ff"/>
<rect x="336.04" y="572.69" width="9.60" height="8.30" fill="#0000ff"/>
<rect x="347.09" y="572.69" width="9.60" height="8.30" fill="#0000ff"/>
<rect x="358.13" y="572.69" width="9.60" height="8.30" fill="#0000ff"/>
<rect x="369.18" y="572.69" width="9.60" height="8.30" fill="#0000ff"/>
<rect x="380.22" y="572.69" width="9.60" height="8.30" fill="#0000ff"/>
<rect x="391.26" y="572.69" width="9.60" height="8.30" fill="#00b0f0"/>
<rect x="402.31" y="572.69" width="9.60" height="8.30" fill="#00b0f0"/>
<rect x="413.35" y="572.69" width="9.60" height="8.30" fill="#0000ff"/>
<rect x="424.40" y="572.69" width="9.60" height="8.30" fill="#0000ff"/>
<rect x="435.44" y="572.69" width="9.60" height="8.30" fill="#00b0f0"/>
<rect x="446.48" y="572.69" width="9.60" height="8.30" fill="#00b0f0"/>
<rect x="457.53" y="572.69" width="9.60" height="8.30" fill="#0000ff"/>
<rect x="468.57" y="572.69" width="9.60" height="8.30" fill="#0000ff"/>
<rect x="479.62" y="572.69" width="9.60" height="8.30" fill="#00b050"/>
<rect x="490.66" y="572.69" width="9.60" height="8.30" fill="#0000ff"/>
<rect x="501.70" y="572.69" width="9.60" height="8.30" fill="#00b050"/>
<rect x="512.75" y="572.69" width="9.60" height="8.30" fill="#0000ff"/>
<rect x="523.79" y="572.69" width="9.60" height="8.30" fill="#00b050"/>
<rect x="534.84" y="572.69" width="9.60" height="8.30" fill="#00b050"/>
<rect x="545.88" y="572.69" width="9.60" height="8.30" fill="#00b050"/>
<rect x="556.92" y="572.69" width="9.60" height="8.30" fill="#ffff00"/>
<rect x="567.97" y="572.69" width="9.60" height="8.30" fill="#ffff00"/>
<rect x="579.01" y="572.69" width="9.60" height="8.30" fill="#f79646"/>
<rect x="590.06" y="572.69" width="9.60" height="8.30" fill="#f79646"/>
<rect x="601.10" y="572.69" width="9.60" height="8.30" fill="#ffff00"/>
<rect x="612.14" y="572.69" width="9.60" height="8.30" fill="#ffffff"/>
<rect x="623.19" y="572.69" width="9.60" height="8.30" fill="#ffff00"/>
<rect x="634.23" y="572.69" width="9.60" height="8.30" fill="#ffff00"/>
<rect x="645.28" y="572.69" width="9.60" height="8.30" fill="#00b050"/>
<rect x="656.32" y="572.69" width="9.60" height="8.30" fill="#f79646"/>
<rect x="25.80" y="582.57" width="21.10" height="8.30" fill="#fff"/>
<text x="37.10" y="588.92" font-size="5.6" text-anchor="middle" style="stroke-width:0.17px">54</text>
<rect x="48.90" y="582.57" width="9.60" height="8.30" fill="#0000ff"/>
<rect x="59.94" y="582.57" width="9.60" height="8.30" fill="#a6a6a6"/>
<rect x="70.99" y="582.57" width="9.60" height="8.30" fill="#0000ff"/>
<rect x="82.03" y="582.57" width="9.60" height="8.30" fill="#a6a6a6"/>
<rect x="93.08" y="582.57" width="9.60" height="8.30" fill="#0000ff"/>
<rect x="104.12" y="582.57" width="9.60" height="8.30" fill="#0000ff"/>
<rect x="115.16" y="582.57" width="9.60" height="8.30" fill="#a6a6a6"/>
<rect x="126.21" y="582.57" width="9.60" height="8.30" fill="#0000ff"/>
<rect x="137.25" y="582.57" width="9.60" height="8.30" fill="#0000ff"/>
<rect x="148.30" y="582.57" width="9.60" height="8.30" fill="#a6a6a6"/>
<rect x="159.34" y="582.57" width="9.60" height="8.30" fill="#0000ff"/>
<rect x="170.38" y="582.57" width="9.60" height="8.30" fill="#0000ff"/>
<rect x="181.43" y="582.57" width="9.60" height="8.30" fill="#a6a6a6"/>
<rect x="192.47" y="582.57" width="9.60" height="8.30" fill="#0000ff"/>
<rect x="203.52" y="582.57" width="9.60" height="8.30" fill="#a6a6a6"/>
<rect x="214.56" y="582.57" width="9.60" height="8.30" fill="#0000ff"/>
<rect x="225.60" y="582.57" width="9.60" height="8.30" fill="#0000ff"/>
<rect x="236.65" y="582.57" width="9.60" height="8.30" fill="#0000ff"/>
<rect x="247.69" y="582.57" width="9.60" height="8.30" fill="#0000ff"/>
<rect x="258.74" y="582.57" width="9.60" height="8.30" fill="#a6a6a6"/>
<rect x="269.78" y="582.57" width="9.60" height="8.30" fill="#0000ff"/>
<rect x="280.82" y="582.57" width="9.60" height="8.30" fill="#0000ff"/>
<rect x="291.87" y="582.57" width="9.60" height="8.30" fill="#0000ff"/>
<rect x="302.91" y="582.57" width="9.60" height="8.30" fill="#0000ff"/>
<rect x="313.96" y="582.57" width="9.60" height="8.30" fill="#0000ff"/>
<rect x="325.00" y="582.57" width="9.60" height="8.30" fill="#0000ff"/>
<rect x="336.04" y="582.57" width="9.60" height="8.30" fill="#0000ff"/>
<rect x="347.09" y="582.57" width="9.60" height="8.30" fill="#0000ff"/>
<rect x="358.13" y="582.57" width="9.60" height="8.30" fill="#0000ff"/>
<rect x="369.18" y="582.57" width="9.60" height="8.30" fill="#0000ff"/>
<rect x="380.22" y="582.57" width="9.60" height="8.30" fill="#0000ff"/>
<rect x="391.26" y="582.57" width="9.60" height="8.30" fill="#0000ff"/>
<rect x="402.31" y="582.57" width="9.60" height="8.30" fill="#0000ff"/>
<rect x="413.35" y="582.57" width="9.60" height="8.30" fill="#0000ff"/>
<rect x="424.40" y="582.57" width="9.60" height="8.30" fill="#0000ff"/>
<rect x="435.44" y="582.57" width="9.60" height="8.30" fill="#00b0f0"/>
<rect x="446.48" y="582.57" width="9.60" height="8.30" fill="#00b0f0"/>
<rect x="457.53" y="582.57" width="9.60" height="8.30" fill="#0000ff"/>
<rect x="468.57" y="582.57" width="9.60" height="8.30" fill="#0000ff"/>
<rect x="479.62" y="582.57" width="9.60" height="8.30" fill="#00b0f0"/>
<rect x="490.66" y="582.57" width="9.60" height="8.30" fill="#0000ff"/>
<rect x="501.70" y="582.57" width="9.60" height="8.30" fill="#00b0f0"/>
<rect x="512.75" y="582.57" width="9.60" height="8.30" fill="#0000ff"/>
<rect x="523.79" y="582.57" width="9.60" height="8.30" fill="#00b0f0"/>
<rect x="534.84" y="582.57" width="9.60" height="8.30" fill="#00b050"/>
<rect x="545.88" y="582.57" width="9.60" height="8.30" fill="#00b050"/>
<rect x="556.92" y="582.57" width="9.60" height="8.30" fill="#00b050"/>
<rect x="567.97" y="582.57" width="9.60" height="8.30" fill="#ffff00"/>
<rect x="579.01" y="582.57" width="9.60" height="8.30" fill="#ffff00"/>
<rect x="590.06" y="582.57" width="9.60" height="8.30" fill="#ffff00"/>
<rect x="601.10" y="582.57" width="9.60" height="8.30" fill="#00b050"/>
<rect x="612.14" y="582.57" width="9.60" height="8.30" fill="#ffff00"/>
<rect x="623.19" y="582.57" width="9.60" height="8.30" fill="#ffffff"/>
<rect x="634.23" y="582.57" width="9.60" height="8.30" fill="#00b050"/>
<rect x="645.28" y="582.57" width="9.60" height="8.30" fill="#00b050"/>
<rect x="656.32" y="582.57" width="9.60" height="8.30" fill="#ffff00"/>
<rect x="25.80" y="592.46" width="21.10" height="8.30" fill="#fff"/>
<text x="37.10" y="598.81" font-size="5.6" text-anchor="middle" style="stroke-width:0.17px">55</text>
<rect x="48.90" y="592.46" width="9.60" height="8.30" fill="#0000ff"/>
<rect x="59.94" y="592.46" width="9.60" height="8.30" fill="#a6a6a6"/>
<rect x="70.99" y="592.46" width="9.60" height="8.30" fill="#0000ff"/>
<rect x="82.03" y="592.46" width="9.60" height="8.30" fill="#a6a6a6"/>
<rect x="93.08" y="592.46" width="9.60" height="8.30" fill="#0000ff"/>
<rect x="104.12" y="592.46" width="9.60" height="8.30" fill="#0000ff"/>
<rect x="115.16" y="592.46" width="9.60" height="8.30" fill="#a6a6a6"/>
<rect x="126.21" y="592.46" width="9.60" height="8.30" fill="#0000ff"/>
<rect x="137.25" y="592.46" width="9.60" height="8.30" fill="#0000ff"/>
<rect x="148.30" y="592.46" width="9.60" height="8.30" fill="#a6a6a6"/>
<rect x="159.34" y="592.46" width="9.60" height="8.30" fill="#0000ff"/>
<rect x="170.38" y="592.46" width="9.60" height="8.30" fill="#0000ff"/>
<rect x="181.43" y="592.46" width="9.60" height="8.30" fill="#a6a6a6"/>
<rect x="192.47" y="592.46" width="9.60" height="8.30" fill="#0000ff"/>
<rect x="203.52" y="592.46" width="9.60" height="8.30" fill="#a6a6a6"/>
<rect x="214.56" y="592.46" width="9.60" height="8.30" fill="#0000ff"/>
<rect x="225.60" y="592.46" width="9.60" height="8.30" fill="#0000ff"/>
<rect x="236.65" y="592.46" width="9.60" height="8.30" fill="#0000ff"/>
<rect x="247.69" y="592.46" width="9.60" height="8.30" fill="#0000ff"/>
<rect x="258.74" y="592.46" width="9.60" height="8.30" fill="#a6a6a6"/>
<rect x="269.78" y="592.46" width="9.60" height="8.30" fill="#0000ff"/>
<rect x="280.82" y="592.46" width="9.60" height="8.30" fill="#0000ff"/>
<rect x="291.87" y="592.46" width="9.60" height="8.30" fill="#0000ff"/>
<rect x="302.91" y="592.46" width="9.60" height="8.30" fill="#0000ff"/>
<rect x="313.96" y="592.46" width="9.60" height="8.30" fill="#0000ff"/>
<rect x="325.00" y="592.46" width="9.60" height="8.30" fill="#0000ff"/>
<rect x="336.04" y="592.46" width="9.60" height="8.30" fill="#0000ff"/>
<rect x="347.09" y="592.46" width="9.60" height="8.30" fill="#0000ff"/>
<rect x="358.13" y="592.46" width="9.60" height="8.30" fill="#0000ff"/>
<rect x="369.18" y="592.46" width="9.60" height="8.30" fill="#0000ff"/>
<rect x="380.22" y="592.46" width="9.60" height="8.30" fill="#0000ff"/>
<rect x="391.26" y="592.46" width="9.60" height="8.30" fill="#0000ff"/>
<rect x="402.31" y="592.46" width="9.60" height="8.30" fill="#00b0f0"/>
<rect x="413.35" y="592.46" width="9.60" height="8.30" fill="#0000ff"/>
<rect x="424.40" y="592.46" width="9.60" height="8.30" fill="#0000ff"/>
<rect x="435.44" y="592.46" width="9.60" height="8.30" fill="#00b0f0"/>
<rect x="446.48" y="592.46" width="9.60" height="8.30" fill="#00b0f0"/>
<rect x="457.53" y="592.46" width="9.60" height="8.30" fill="#0000ff"/>
<rect x="468.57" y="592.46" width="9.60" height="8.30" fill="#0000ff"/>
<rect x="479.62" y="592.46" width="9.60" height="8.30" fill="#00b0f0"/>
<rect x="490.66" y="592.46" width="9.60" height="8.30" fill="#0000ff"/>
<rect x="501.70" y="592.46" width="9.60" height="8.30" fill="#00b0f0"/>
<rect x="512.75" y="592.46" width="9.60" height="8.30" fill="#0000ff"/>
<rect x="523.79" y="592.46" width="9.60" height="8.30" fill="#00b050"/>
<rect x="534.84" y="592.46" width="9.60" height="8.30" fill="#00b050"/>
<rect x="545.88" y="592.46" width="9.60" height="8.30" fill="#00b050"/>
<rect x="556.92" y="592.46" width="9.60" height="8.30" fill="#00b050"/>
<rect x="567.97" y="592.46" width="9.60" height="8.30" fill="#ffff00"/>
<rect x="579.01" y="592.46" width="9.60" height="8.30" fill="#ffff00"/>
<rect x="590.06" y="592.46" width="9.60" height="8.30" fill="#ffff00"/>
<rect x="601.10" y="592.46" width="9.60" height="8.30" fill="#00b050"/>
<rect x="612.14" y="592.46" width="9.60" height="8.30" fill="#ffff00"/>
<rect x="623.19" y="592.46" width="9.60" height="8.30" fill="#ffff00"/>
<rect x="634.23" y="592.46" width="9.60" height="8.30" fill="#ffffff"/>
<rect x="645.28" y="592.46" width="9.60" height="8.30" fill="#00b050"/>
<rect x="656.32" y="592.46" width="9.60" height="8.30" fill="#f79646"/>
<rect x="25.80" y="602.34" width="21.10" height="8.30" fill="#fff"/>
<text x="37.10" y="608.69" font-size="5.6" text-anchor="middle" style="stroke-width:0.17px">56</text>
<rect x="48.90" y="602.34" width="9.60" height="8.30" fill="#0000ff"/>
<rect x="59.94" y="602.34" width="9.60" height="8.30" fill="#a6a6a6"/>
<rect x="70.99" y="602.34" width="9.60" height="8.30" fill="#a6a6a6"/>
<rect x="82.03" y="602.34" width="9.60" height="8.30" fill="#a6a6a6"/>
<rect x="93.08" y="602.34" width="9.60" height="8.30" fill="#0000ff"/>
<rect x="104.12" y="602.34" width="9.60" height="8.30" fill="#0000ff"/>
<rect x="115.16" y="602.34" width="9.60" height="8.30" fill="#a6a6a6"/>
<rect x="126.21" y="602.34" width="9.60" height="8.30" fill="#0000ff"/>
<rect x="137.25" y="602.34" width="9.60" height="8.30" fill="#0000ff"/>
<rect x="148.30" y="602.34" width="9.60" height="8.30" fill="#a6a6a6"/>
<rect x="159.34" y="602.34" width="9.60" height="8.30" fill="#a6a6a6"/>
<rect x="170.38" y="602.34" width="9.60" height="8.30" fill="#0000ff"/>
<rect x="181.43" y="602.34" width="9.60" height="8.30" fill="#a6a6a6"/>
<rect x="192.47" y="602.34" width="9.60" height="8.30" fill="#0000ff"/>
<rect x="203.52" y="602.34" width="9.60" height="8.30" fill="#a6a6a6"/>
<rect x="214.56" y="602.34" width="9.60" height="8.30" fill="#0000ff"/>
<rect x="225.60" y="602.34" width="9.60" height="8.30" fill="#0000ff"/>
<rect x="236.65" y="602.34" width="9.60" height="8.30" fill="#a6a6a6"/>
<rect x="247.69" y="602.34" width="9.60" height="8.30" fill="#0000ff"/>
<rect x="258.74" y="602.34" width="9.60" height="8.30" fill="#a6a6a6"/>
<rect x="269.78" y="602.34" width="9.60" height="8.30" fill="#0000ff"/>
<rect x="280.82" y="602.34" width="9.60" height="8.30" fill="#0000ff"/>
<rect x="291.87" y="602.34" width="9.60" height="8.30" fill="#0000ff"/>
<rect x="302.91" y="602.34" width="9.60" height="8.30" fill="#0000ff"/>
<rect x="313.96" y="602.34" width="9.60" height="8.30" fill="#0000ff"/>
<rect x="325.00" y="602.34" width="9.60" height="8.30" fill="#0000ff"/>
<rect x="336.04" y="602.34" width="9.60" height="8.30" fill="#0000ff"/>
<rect x="347.09" y="602.34" width="9.60" height="8.30" fill="#0000ff"/>
<rect x="358.13" y="602.34" width="9.60" height="8.30" fill="#a6a6a6"/>
<rect x="369.18" y="602.34" width="9.60" height="8.30" fill="#0000ff"/>
<rect x="380.22" y="602.34" width="9.60" height="8.30" fill="#0000ff"/>
<rect x="391.26" y="602.34" width="9.60" height="8.30" fill="#0000ff"/>
<rect x="402.31" y="602.34" width="9.60" height="8.30" fill="#0000ff"/>
<rect x="413.35" y="602.34" width="9.60" height="8.30" fill="#a6a6a6"/>
<rect x="424.40" y="602.34" width="9.60" height="8.30" fill="#0000ff"/>
<rect x="435.44" y="602.34" width="9.60" height="8.30" fill="#0000ff"/>
<rect x="446.48" y="602.34" width="9.60" height="8.30" fill="#0000ff"/>
<rect x="457.53" y="602.34" width="9.60" height="8.30" fill="#a6a6a6"/>
<rect x="468.57" y="602.34" width="9.60" height="8.30" fill="#0000ff"/>
<rect x="479.62" y="602.34" width="9.60" height="8.30" fill="#0000ff"/>
<rect x="490.66" y="602.34" width="9.60" height="8.30" fill="#a6a6a6"/>
<rect x="501.70" y="602.34" width="9.60" height="8.30" fill="#0000ff"/>
<rect x="512.75" y="602.34" width="9.60" height="8.30" fill="#a6a6a6"/>
<rect x="523.79" y="602.34" width="9.60" height="8.30" fill="#0000ff"/>
<rect x="534.84" y="602.34" width="9.60" height="8.30" fill="#0000ff"/>
<rect x="545.88" y="602.34" width="9.60" height="8.30" fill="#00b0f0"/>
<rect x="556.92" y="602.34" width="9.60" height="8.30" fill="#00b0f0"/>
<rect x="567.97" y="602.34" width="9.60" height="8.30" fill="#00b050"/>
<rect x="579.01" y="602.34" width="9.60" height="8.30" fill="#00b050"/>
<rect x="590.06" y="602.34" width="9.60" height="8.30" fill="#00b050"/>
<rect x="601.10" y="602.34" width="9.60" height="8.30" fill="#a6a6a6"/>
<rect x="612.14" y="602.34" width="9.60" height="8.30" fill="#00b050"/>
<rect x="623.19" y="602.34" width="9.60" height="8.30" fill="#00b050"/>
<rect x="634.23" y="602.34" width="9.60" height="8.30" fill="#00b050"/>
<rect x="645.28" y="602.34" width="9.60" height="8.30" fill="#ffffff"/>
<rect x="656.32" y="602.34" width="9.60" height="8.30" fill="#ffff00"/>
<rect x="25.80" y="612.23" width="21.10" height="8.30" fill="#fff"/>
<text x="37.10" y="618.58" font-size="5.6" text-anchor="middle" style="stroke-width:0.17px">57</text>
<rect x="48.90" y="612.23" width="9.60" height="8.30" fill="#0000ff"/>
<rect x="59.94" y="612.23" width="9.60" height="8.30" fill="#a6a6a6"/>
<rect x="70.99" y="612.23" width="9.60" height="8.30" fill="#0000ff"/>
<rect x="82.03" y="612.23" width="9.60" height="8.30" fill="#a6a6a6"/>
<rect x="93.08" y="612.23" width="9.60" height="8.30" fill="#0000ff"/>
<rect x="104.12" y="612.23" width="9.60" height="8.30" fill="#0000ff"/>
<rect x="115.16" y="612.23" width="9.60" height="8.30" fill="#a6a6a6"/>
<rect x="126.21" y="612.23" width="9.60" height="8.30" fill="#00b0f0"/>
<rect x="137.25" y="612.23" width="9.60" height="8.30" fill="#00b0f0"/>
<rect x="148.30" y="612.23" width="9.60" height="8.30" fill="#a6a6a6"/>
<rect x="159.34" y="612.23" width="9.60" height="8.30" fill="#0000ff"/>
<rect x="170.38" y="612.23" width="9.60" height="8.30" fill="#0000ff"/>
<rect x="181.43" y="612.23" width="9.60" height="8.30" fill="#a6a6a6"/>
<rect x="192.47" y="612.23" width="9.60" height="8.30" fill="#0000ff"/>
<rect x="203.52" y="612.23" width="9.60" height="8.30" fill="#a6a6a6"/>
<rect x="214.56" y="612.23" width="9.60" height="8.30" fill="#00b050"/>
<rect x="225.60" y="612.23" width="9.60" height="8.30" fill="#00b050"/>
<rect x="236.65" y="612.23" width="9.60" height="8.30" fill="#0000ff"/>
<rect x="247.69" y="612.23" width="9.60" height="8.30" fill="#0000ff"/>
<rect x="258.74" y="612.23" width="9.60" height="8.30" fill="#a6a6a6"/>
<rect x="269.78" y="612.23" width="9.60" height="8.30" fill="#0000ff"/>
<rect x="280.82" y="612.23" width="9.60" height="8.30" fill="#0000ff"/>
<rect x="291.87" y="612.23" width="9.60" height="8.30" fill="#00b050"/>
<rect x="302.91" y="612.23" width="9.60" height="8.30" fill="#0000ff"/>
<rect x="313.96" y="612.23" width="9.60" height="8.30" fill="#00b050"/>
<rect x="325.00" y="612.23" width="9.60" height="8.30" fill="#00b050"/>
<rect x="336.04" y="612.23" width="9.60" height="8.30" fill="#00b050"/>
<rect x="347.09" y="612.23" width="9.60" height="8.30" fill="#ffff00"/>
<rect x="358.13" y="612.23" width="9.60" height="8.30" fill="#0000ff"/>
<rect x="369.18" y="612.23" width="9.60" height="8.30" fill="#00b0f0"/>
<rect x="380.22" y="612.23" width="9.60" height="8.30" fill="#0000ff"/>
<rect x="391.26" y="612.23" width="9.60" height="8.30" fill="#ffff00"/>
<rect x="402.31" y="612.23" width="9.60" height="8.30" fill="#ffff00"/>
<rect x="413.35" y="612.23" width="9.60" height="8.30" fill="#0000ff"/>
<rect x="424.40" y="612.23" width="9.60" height="8.30" fill="#00b0f0"/>
<rect x="435.44" y="612.23" width="9.60" height="8.30" fill="#ffff00"/>
<rect x="446.48" y="612.23" width="9.60" height="8.30" fill="#ffff00"/>
<rect x="457.53" y="612.23" width="9.60" height="8.30" fill="#00b050"/>
<rect x="468.57" y="612.23" width="9.60" height="8.30" fill="#00b050"/>
<rect x="479.62" y="612.23" width="9.60" height="8.30" fill="#f79646"/>
<rect x="490.66" y="612.23" width="9.60" height="8.30" fill="#00b050"/>
<rect x="501.70" y="612.23" width="9.60" height="8.30" fill="#f79646"/>
<rect x="512.75" y="612.23" width="9.60" height="8.30" fill="#ffff00"/>
<rect x="523.79" y="612.23" width="9.60" height="8.30" fill="#f79646"/>
<rect x="534.84" y="612.23" width="9.60" height="8.30" fill="#f79646"/>
<rect x="545.88" y="612.23" width="9.60" height="8.30" fill="#f79646"/>
<rect x="556.92" y="612.23" width="9.60" height="8.30" fill="#ff0000"/>
<rect x="567.97" y="612.23" width="9.60" height="8.30" fill="#ff0000"/>
<rect x="579.01" y="612.23" width="9.60" height="8.30" fill="#ff0000"/>
<rect x="590.06" y="612.23" width="9.60" height="8.30" fill="#ff0000"/>
<rect x="601.10" y="612.23" width="9.60" height="8.30" fill="#f79646"/>
<rect x="612.14" y="612.23" width="9.60" height="8.30" fill="#f79646"/>
<rect x="623.19" y="612.23" width="9.60" height="8.30" fill="#f79646"/>
<rect x="634.23" y="612.23" width="9.60" height="8.30" fill="#f79646"/>
<rect x="645.28" y="612.23" width="9.60" height="8.30" fill="#f79646"/>
<rect x="656.32" y="612.23" width="9.60" height="8.30" fill="#ffffff"/>
<text transform="translate(347.60,41.80) scale(1.0,0.935)" font-size="19.9" text-anchor="middle" >Final state f</text>
<text x="0" y="0" font-size="19.7" text-anchor="middle" transform="translate(18.7,333.9) rotate(-90)">Initial state i</text>
<text transform="translate(340.00,15.60) scale(1.0,1.055)" font-size="21.95" text-anchor="middle" >The total rate coefficients</text>
<rect x="68.80" y="660.90" width="124.30" height="146.10" fill="#000"/>
<rect x="71.10" y="663.30" width="19.90" height="15.60" fill="#ff0000"/>
<rect x="93.30" y="663.30" width="97.50" height="15.60" fill="#fff"/>
<text x="142.40" y="675.20" font-size="15" text-anchor="middle" >log(K<tspan font-size="11" dy="3">if</tspan><tspan dy="-3">) &gt; -8</tspan></text>
<rect x="71.10" y="681.23" width="19.90" height="15.60" fill="#f79646"/>
<rect x="93.30" y="681.23" width="97.50" height="15.60" fill="#fff"/>
<text x="142.40" y="693.13" font-size="15" text-anchor="middle" >log(K<tspan font-size="11" dy="3">if</tspan><tspan dy="-3">) &gt; -9</tspan></text>
<rect x="71.10" y="699.16" width="19.90" height="15.60" fill="#ffff00"/>
<rect x="93.30" y="699.16" width="97.50" height="15.60" fill="#fff"/>
<text x="142.40" y="711.06" font-size="15" text-anchor="middle" >log(K<tspan font-size="11" dy="3">if</tspan><tspan dy="-3">) &gt; -10</tspan></text>
<rect x="71.10" y="717.09" width="19.90" height="15.60" fill="#00b050"/>
<rect x="93.30" y="717.09" width="97.50" height="15.60" fill="#fff"/>
<text x="142.40" y="728.99" font-size="15" text-anchor="middle" >log(K<tspan font-size="11" dy="3">if</tspan><tspan dy="-3">) &gt; -11</tspan></text>
<rect x="71.10" y="735.02" width="19.90" height="15.60" fill="#00b0f0"/>
<rect x="93.30" y="735.02" width="97.50" height="15.60" fill="#fff"/>
<text x="142.40" y="746.92" font-size="15" text-anchor="middle" >log(K<tspan font-size="11" dy="3">if</tspan><tspan dy="-3">) &gt; -12</tspan></text>
<rect x="71.10" y="752.95" width="19.90" height="15.60" fill="#0000ff"/>
<rect x="93.30" y="752.95" width="97.50" height="15.60" fill="#fff"/>
<text x="142.40" y="764.85" font-size="15" text-anchor="middle" >log(K<tspan font-size="11" dy="3">if</tspan><tspan dy="-3">) &lt; -12</tspan></text>
<rect x="71.10" y="770.88" width="19.90" height="15.60" fill="#a6a6a6"/>
<rect x="93.30" y="770.88" width="97.50" height="15.60" fill="#fff"/>
<text x="142.40" y="782.78" font-size="15" text-anchor="middle" >K<tspan font-size="11" dy="3">if</tspan><tspan dy="-3"> = 0</tspan></text>
<rect x="71.10" y="788.81" width="19.90" height="15.60" fill="#ffffff"/>
<rect x="93.30" y="788.81" width="97.50" height="15.60" fill="#fff"/>
<text x="142.40" y="800.71" font-size="15" text-anchor="middle" >elastic</text>
<rect x="245.70" y="660.90" width="333.80" height="285.10" fill="#000"/>
<rect x="248.20" y="663.50" width="19.50" height="15.70" fill="#fff"/>
<rect x="270.00" y="663.50" width="307.30" height="15.70" fill="#fff"/>
<rect x="248.20" y="681.20" width="19.50" height="262.30" fill="#fff"/>
<text x="425.20" y="676.50" font-size="16.5" text-anchor="middle" >Final state f</text>
<text x="0" y="0" font-size="16.7" text-anchor="middle" transform="translate(263.3,812.2) rotate(-90)">Initial state i</text>
<rect x="270.00" y="681.20" width="20.10" height="16.50" fill="#fff"/>
<rect x="291.60" y="681.20" width="20.90" height="16.50" fill="#fff"/>
<text transform="translate(302.45,692.20) scale(0.92,1.0)" font-size="13.8" text-anchor="middle" text-rendering="geometricPrecision" style="stroke-width:0.18px">3</text>
<rect x="313.73" y="681.20" width="20.90" height="16.50" fill="#fff"/>
<text transform="translate(324.58,692.20) scale(0.92,1.0)" font-size="13.8" text-anchor="middle" text-rendering="geometricPrecision" style="stroke-width:0.18px">4</text>
<rect x="335.86" y="681.20" width="20.90" height="16.50" fill="#fff"/>
<text transform="translate(346.71,693.50) scale(0.92,1.0)" font-size="13.8" text-anchor="middle" text-rendering="geometricPrecision" style="stroke-width:0.18px">5</text>
<rect x="357.99" y="681.20" width="20.90" height="16.50" fill="#fff"/>
<text transform="translate(368.84,693.50) scale(0.92,1.0)" font-size="13.8" text-anchor="middle" text-rendering="geometricPrecision" style="stroke-width:0.18px">6</text>
<rect x="380.12" y="681.20" width="20.90" height="16.50" fill="#fff"/>
<text transform="translate(390.97,691.90) scale(0.92,1.0)" font-size="13.8" text-anchor="middle" text-rendering="geometricPrecision" style="stroke-width:0.18px">7</text>
<rect x="402.25" y="681.20" width="20.90" height="16.50" fill="#fff"/>
<text transform="translate(413.10,692.00) scale(0.92,1.0)" font-size="13.8" text-anchor="middle" text-rendering="geometricPrecision" style="stroke-width:0.18px">8</text>
<rect x="424.38" y="681.20" width="20.90" height="16.50" fill="#fff"/>
<text transform="translate(435.23,691.90) scale(0.92,1.0)" font-size="13.8" text-anchor="middle" text-rendering="geometricPrecision" style="stroke-width:0.18px">10</text>
<rect x="446.51" y="681.20" width="20.90" height="16.50" fill="#fff"/>
<text transform="translate(457.36,691.90) scale(0.92,1.0)" font-size="13.8" text-anchor="middle" text-rendering="geometricPrecision" style="stroke-width:0.18px">11</text>
<rect x="468.64" y="681.20" width="20.90" height="16.50" fill="#fff"/>
<text transform="translate(479.49,691.90) scale(0.92,1.0)" font-size="13.8" text-anchor="middle" text-rendering="geometricPrecision" style="stroke-width:0.18px">12</text>
<rect x="490.77" y="681.20" width="20.90" height="16.50" fill="#fff"/>
<text transform="translate(501.62,691.90) scale(0.92,1.0)" font-size="13.8" text-anchor="middle" text-rendering="geometricPrecision" style="stroke-width:0.18px">14</text>
<rect x="512.90" y="681.20" width="20.90" height="16.50" fill="#fff"/>
<text transform="translate(523.75,691.90) scale(0.92,1.0)" font-size="13.8" text-anchor="middle" text-rendering="geometricPrecision" style="stroke-width:0.18px">15</text>
<rect x="535.03" y="681.20" width="20.90" height="16.50" fill="#fff"/>
<text transform="translate(545.88,691.90) scale(0.92,1.0)" font-size="13.8" text-anchor="middle" text-rendering="geometricPrecision" style="stroke-width:0.18px">16</text>
<rect x="557.16" y="681.20" width="20.90" height="16.50" fill="#fff"/>
<text transform="translate(568.01,691.90) scale(0.92,1.0)" font-size="13.8" text-anchor="middle" text-rendering="geometricPrecision" style="stroke-width:0.18px">21</text>
<rect x="270.00" y="698.90" width="20.10" height="16.50" fill="#fff"/>
<text x="280.20" y="710.75" font-size="13.6" text-anchor="middle" style="stroke-width:0.2px">3</text>
<rect x="291.60" y="698.90" width="20.90" height="16.50" fill="#ffffff"/>
<rect x="313.73" y="698.90" width="20.90" height="16.50" fill="#00b050"/>
<rect x="335.86" y="698.90" width="20.90" height="16.50" fill="#0000ff"/>
<rect x="357.99" y="698.90" width="20.90" height="16.50" fill="#0000ff"/>
<rect x="380.12" y="698.90" width="20.90" height="16.50" fill="#0000ff"/>
<rect x="402.25" y="698.90" width="20.90" height="16.50" fill="#0000ff"/>
<rect x="424.38" y="698.90" width="20.90" height="16.50" fill="#0000ff"/>
<rect x="446.51" y="698.90" width="20.90" height="16.50" fill="#0000ff"/>
<rect x="468.64" y="698.90" width="20.90" height="16.50" fill="#0000ff"/>
<rect x="490.77" y="698.90" width="20.90" height="16.50" fill="#0000ff"/>
<rect x="512.90" y="698.90" width="20.90" height="16.50" fill="#0000ff"/>
<rect x="535.03" y="698.90" width="20.90" height="16.50" fill="#0000ff"/>
<rect x="557.16" y="698.90" width="20.90" height="16.50" fill="#0000ff"/>
<rect x="270.00" y="716.80" width="20.10" height="16.50" fill="#fff"/>
<text x="280.20" y="728.65" font-size="13.6" text-anchor="middle" style="stroke-width:0.2px">4</text>
<rect x="291.60" y="716.80" width="20.90" height="16.50" fill="#00b050"/>
<rect x="313.73" y="716.80" width="20.90" height="16.50" fill="#ffffff"/>
<rect x="335.86" y="716.80" width="20.90" height="16.50" fill="#00b0f0"/>
<rect x="357.99" y="716.80" width="20.90" height="16.50" fill="#00b0f0"/>
<rect x="380.12" y="716.80" width="20.90" height="16.50" fill="#0000ff"/>
<rect x="402.25" y="716.80" width="20.90" height="16.50" fill="#0000ff"/>
<rect x="424.38" y="716.80" width="20.90" height="16.50" fill="#0000ff"/>
<rect x="446.51" y="716.80" width="20.90" height="16.50" fill="#0000ff"/>
<rect x="468.64" y="716.80" width="20.90" height="16.50" fill="#0000ff"/>
<rect x="490.77" y="716.80" width="20.90" height="16.50" fill="#0000ff"/>
<rect x="512.90" y="716.80" width="20.90" height="16.50" fill="#0000ff"/>
<rect x="535.03" y="716.80" width="20.90" height="16.50" fill="#0000ff"/>
<rect x="557.16" y="716.80" width="20.90" height="16.50" fill="#0000ff"/>
<rect x="270.00" y="734.70" width="20.10" height="16.50" fill="#fff"/>
<text x="280.20" y="746.55" font-size="13.6" text-anchor="middle" style="stroke-width:0.2px">5</text>
<rect x="291.60" y="734.70" width="20.90" height="16.50" fill="#0000ff"/>
<rect x="313.73" y="734.70" width="20.90" height="16.50" fill="#00b0f0"/>
<rect x="335.86" y="734.70" width="20.90" height="16.50" fill="#ffffff"/>
<rect x="357.99" y="734.70" width="20.90" height="16.50" fill="#ffff00"/>
<rect x="380.12" y="734.70" width="20.90" height="16.50" fill="#00b050"/>
<rect x="402.25" y="734.70" width="20.90" height="16.50" fill="#00b050"/>
<rect x="424.38" y="734.70" width="20.90" height="16.50" fill="#00b0f0"/>
<rect x="446.51" y="734.70" width="20.90" height="16.50" fill="#00b0f0"/>
<rect x="468.64" y="734.70" width="20.90" height="16.50" fill="#00b0f0"/>
<rect x="490.77" y="734.70" width="20.90" height="16.50" fill="#0000ff"/>
<rect x="512.90" y="734.70" width="20.90" height="16.50" fill="#0000ff"/>
<rect x="535.03" y="734.70" width="20.90" height="16.50" fill="#0000ff"/>
<rect x="557.16" y="734.70" width="20.90" height="16.50" fill="#00b050"/>
<rect x="270.00" y="752.90" width="20.10" height="16.50" fill="#fff"/>
<text x="280.20" y="764.75" font-size="13.6" text-anchor="middle" style="stroke-width:0.2px">6</text>
<rect x="291.60" y="752.90" width="20.90" height="16.50" fill="#0000ff"/>
<rect x="313.73" y="752.90" width="20.90" height="16.50" fill="#00b0f0"/>
<rect x="335.86" y="752.90" width="20.90" height="16.50" fill="#f79646"/>
<rect x="357.99" y="752.90" width="20.90" height="16.50" fill="#ffffff"/>
<rect x="380.12" y="752.90" width="20.90" height="16.50" fill="#ffff00"/>
<rect x="402.25" y="752.90" width="20.90" height="16.50" fill="#ffff00"/>
<rect x="424.38" y="752.90" width="20.90" height="16.50" fill="#00b050"/>
<rect x="446.51" y="752.90" width="20.90" height="16.50" fill="#00b050"/>
<rect x="468.64" y="752.90" width="20.90" height="16.50" fill="#00b050"/>
<rect x="490.77" y="752.90" width="20.90" height="16.50" fill="#0000ff"/>
<rect x="512.90" y="752.90" width="20.90" height="16.50" fill="#0000ff"/>
<rect x="535.03" y="752.90" width="20.90" height="16.50" fill="#0000ff"/>
<rect x="557.16" y="752.90" width="20.90" height="16.50" fill="#ffff00"/>
<rect x="270.00" y="771.10" width="20.10" height="16.20" fill="#fff"/>
<text x="280.20" y="782.80" font-size="13.6" text-anchor="middle" style="stroke-width:0.2px">7</text>
<rect x="291.60" y="771.10" width="20.90" height="16.20" fill="#0000ff"/>
<rect x="313.73" y="771.10" width="20.90" height="16.20" fill="#00b0f0"/>
<rect x="335.86" y="771.10" width="20.90" height="16.20" fill="#ffff00"/>
<rect x="357.99" y="771.10" width="20.90" height="16.20" fill="#ffff00"/>
<rect x="380.12" y="771.10" width="20.90" height="16.20" fill="#ffffff"/>
<rect x="402.25" y="771.10" width="20.90" height="16.20" fill="#f79646"/>
<rect x="424.38" y="771.10" width="20.90" height="16.20" fill="#ffff00"/>
<rect x="446.51" y="771.10" width="20.90" height="16.20" fill="#00b050"/>
<rect x="468.64" y="771.10" width="20.90" height="16.20" fill="#00b050"/>
<rect x="490.77" y="771.10" width="20.90" height="16.20" fill="#0000ff"/>
<rect x="512.90" y="771.10" width="20.90" height="16.20" fill="#0000ff"/>
<rect x="535.03" y="771.10" width="20.90" height="16.20" fill="#0000ff"/>
<rect x="557.16" y="771.10" width="20.90" height="16.20" fill="#ffff00"/>
<rect x="270.00" y="789.00" width="20.10" height="16.20" fill="#fff"/>
<text x="280.20" y="800.70" font-size="13.6" text-anchor="middle" style="stroke-width:0.2px">8</text>
<rect x="291.60" y="789.00" width="20.90" height="16.20" fill="#0000ff"/>
<rect x="313.73" y="789.00" width="20.90" height="16.20" fill="#0000ff"/>
<rect x="335.86" y="789.00" width="20.90" height="16.20" fill="#ffff00"/>
<rect x="357.99" y="789.00" width="20.90" height="16.20" fill="#ffff00"/>
<rect x="380.12" y="789.00" width="20.90" height="16.20" fill="#f79646"/>
<rect x="402.25" y="789.00" width="20.90" height="16.20" fill="#ffffff"/>
<rect x="424.38" y="789.00" width="20.90" height="16.20" fill="#ffff00"/>
<rect x="446.51" y="789.00" width="20.90" height="16.20" fill="#00b050"/>
<rect x="468.64" y="789.00" width="20.90" height="16.20" fill="#00b050"/>
<rect x="490.77" y="789.00" width="20.90" height="16.20" fill="#0000ff"/>
<rect x="512.90" y="789.00" width="20.90" height="16.20" fill="#0000ff"/>
<rect x="535.03" y="789.00" width="20.90" height="16.20" fill="#0000ff"/>
<rect x="557.16" y="789.00" width="20.90" height="16.20" fill="#ffff00"/>
<rect x="270.00" y="806.90" width="20.10" height="16.30" fill="#fff"/>
<text x="280.20" y="818.65" font-size="13.6" text-anchor="middle" style="stroke-width:0.2px">10</text>
<rect x="291.60" y="806.90" width="20.90" height="16.30" fill="#0000ff"/>
<rect x="313.73" y="806.90" width="20.90" height="16.30" fill="#0000ff"/>
<rect x="335.86" y="806.90" width="20.90" height="16.30" fill="#00b050"/>
<rect x="357.99" y="806.90" width="20.90" height="16.30" fill="#ffff00"/>
<rect x="380.12" y="806.90" width="20.90" height="16.30" fill="#ffff00"/>
<rect x="402.25" y="806.90" width="20.90" height="16.30" fill="#ffff00"/>
<rect x="424.38" y="806.90" width="20.90" height="16.30" fill="#ffffff"/>
<rect x="446.51" y="806.90" width="20.90" height="16.30" fill="#ffff00"/>
<rect x="468.64" y="806.90" width="20.90" height="16.30" fill="#00b050"/>
<rect x="490.77" y="806.90" width="20.90" height="16.30" fill="#0000ff"/>
<rect x="512.90" y="806.90" width="20.90" height="16.30" fill="#0000ff"/>
<rect x="535.03" y="806.90" width="20.90" height="16.30" fill="#0000ff"/>
<rect x="557.16" y="806.90" width="20.90" height="16.30" fill="#ffff00"/>
<rect x="270.00" y="825.00" width="20.10" height="18.70" fill="#fff"/>
<text x="280.20" y="837.95" font-size="13.6" text-anchor="middle" style="stroke-width:0.2px">11</text>
<rect x="291.60" y="825.00" width="20.90" height="18.70" fill="#0000ff"/>
<rect x="313.73" y="825.00" width="20.90" height="18.70" fill="#0000ff"/>
<rect x="335.86" y="825.00" width="20.90" height="18.70" fill="#00b050"/>
<rect x="357.99" y="825.00" width="20.90" height="18.70" fill="#ffff00"/>
<rect x="380.12" y="825.00" width="20.90" height="18.70" fill="#ffff00"/>
<rect x="402.25" y="825.00" width="20.90" height="18.70" fill="#ffff00"/>
<rect x="424.38" y="825.00" width="20.90" height="18.70" fill="#ffff00"/>
<rect x="446.51" y="825.00" width="20.90" height="18.70" fill="#ffffff"/>
<rect x="468.64" y="825.00" width="20.90" height="18.70" fill="#00b050"/>
<rect x="490.77" y="825.00" width="20.90" height="18.70" fill="#0000ff"/>
<rect x="512.90" y="825.00" width="20.90" height="18.70" fill="#0000ff"/>
<rect x="535.03" y="825.00" width="20.90" height="18.70" fill="#0000ff"/>
<rect x="557.16" y="825.00" width="20.90" height="18.70" fill="#ffff00"/>
<rect x="270.00" y="845.20" width="20.10" height="18.90" fill="#fff"/>
<text x="280.20" y="858.25" font-size="13.6" text-anchor="middle" style="stroke-width:0.2px">12</text>
<rect x="291.60" y="845.20" width="20.90" height="18.90" fill="#0000ff"/>
<rect x="313.73" y="845.20" width="20.90" height="18.90" fill="#0000ff"/>
<rect x="335.86" y="845.20" width="20.90" height="18.90" fill="#00b050"/>
<rect x="357.99" y="845.20" width="20.90" height="18.90" fill="#ffff00"/>
<rect x="380.12" y="845.20" width="20.90" height="18.90" fill="#ffff00"/>
<rect x="402.25" y="845.20" width="20.90" height="18.90" fill="#ffff00"/>
<rect x="424.38" y="845.20" width="20.90" height="18.90" fill="#ffff00"/>
<rect x="446.51" y="845.20" width="20.90" height="18.90" fill="#ffff00"/>
<rect x="468.64" y="845.20" width="20.90" height="18.90" fill="#ffffff"/>
<rect x="490.77" y="845.20" width="20.90" height="18.90" fill="#0000ff"/>
<rect x="512.90" y="845.20" width="20.90" height="18.90" fill="#0000ff"/>
<rect x="535.03" y="845.20" width="20.90" height="18.90" fill="#0000ff"/>
<rect x="557.16" y="845.20" width="20.90" height="18.90" fill="#ffff00"/>
<rect x="270.00" y="865.60" width="20.10" height="18.50" fill="#fff"/>
<text x="280.20" y="878.45" font-size="13.6" text-anchor="middle" style="stroke-width:0.2px">14</text>
<rect x="291.60" y="865.60" width="20.90" height="18.50" fill="#0000ff"/>
<rect x="313.73" y="865.60" width="20.90" height="18.50" fill="#0000ff"/>
<rect x="335.86" y="865.60" width="20.90" height="18.50" fill="#0000ff"/>
<rect x="357.99" y="865.60" width="20.90" height="18.50" fill="#0000ff"/>
<rect x="380.12" y="865.60" width="20.90" height="18.50" fill="#0000ff"/>
<rect x="402.25" y="865.60" width="20.90" height="18.50" fill="#0000ff"/>
<rect x="424.38" y="865.60" width="20.90" height="18.50" fill="#0000ff"/>
<rect x="446.51" y="865.60" width="20.90" height="18.50" fill="#0000ff"/>
<rect x="468.64" y="865.60" width="20.90" height="18.50" fill="#0000ff"/>
<rect x="490.77" y="865.60" width="20.90" height="18.50" fill="#ffffff"/>
<rect x="512.90" y="865.60" width="20.90" height="18.50" fill="#0000ff"/>
<rect x="535.03" y="865.60" width="20.90" height="18.50" fill="#0000ff"/>
<rect x="557.16" y="865.60" width="20.90" height="18.50" fill="#0000ff"/>
<rect x="270.00" y="885.70" width="20.10" height="17.70" fill="#fff"/>
<text x="280.20" y="898.15" font-size="13.6" text-anchor="middle" style="stroke-width:0.2px">15</text>
<rect x="291.60" y="885.70" width="20.90" height="17.70" fill="#0000ff"/>
<rect x="313.73" y="885.70" width="20.90" height="17.70" fill="#0000ff"/>
<rect x="335.86" y="885.70" width="20.90" height="17.70" fill="#0000ff"/>
<rect x="357.99" y="885.70" width="20.90" height="17.70" fill="#0000ff"/>
<rect x="380.12" y="885.70" width="20.90" height="17.70" fill="#0000ff"/>
<rect x="402.25" y="885.70" width="20.90" height="17.70" fill="#0000ff"/>
<rect x="424.38" y="885.70" width="20.90" height="17.70" fill="#0000ff"/>
<rect x="446.51" y="885.70" width="20.90" height="17.70" fill="#0000ff"/>
<rect x="468.64" y="885.70" width="20.90" height="17.70" fill="#0000ff"/>
<rect x="490.77" y="885.70" width="20.90" height="17.70" fill="#0000ff"/>
<rect x="512.90" y="885.70" width="20.90" height="17.70" fill="#ffffff"/>
<rect x="535.03" y="885.70" width="20.90" height="17.70" fill="#0000ff"/>
<rect x="557.16" y="885.70" width="20.90" height="17.70" fill="#0000ff"/>
<rect x="270.00" y="905.00" width="20.10" height="18.50" fill="#fff"/>
<text x="280.20" y="917.85" font-size="13.6" text-anchor="middle" style="stroke-width:0.2px">16</text>
<rect x="291.60" y="905.00" width="20.90" height="18.50" fill="#0000ff"/>
<rect x="313.73" y="905.00" width="20.90" height="18.50" fill="#0000ff"/>
<rect x="335.86" y="905.00" width="20.90" height="18.50" fill="#0000ff"/>
<rect x="357.99" y="905.00" width="20.90" height="18.50" fill="#0000ff"/>
<rect x="380.12" y="905.00" width="20.90" height="18.50" fill="#0000ff"/>
<rect x="402.25" y="905.00" width="20.90" height="18.50" fill="#0000ff"/>
<rect x="424.38" y="905.00" width="20.90" height="18.50" fill="#0000ff"/>
<rect x="446.51" y="905.00" width="20.90" height="18.50" fill="#0000ff"/>
<rect x="468.64" y="905.00" width="20.90" height="18.50" fill="#0000ff"/>
<rect x="490.77" y="905.00" width="20.90" height="18.50" fill="#0000ff"/>
<rect x="512.90" y="905.00" width="20.90" height="18.50" fill="#0000ff"/>
<rect x="535.03" y="905.00" width="20.90" height="18.50" fill="#ffffff"/>
<rect x="557.16" y="905.00" width="20.90" height="18.50" fill="#0000ff"/>
<rect x="270.00" y="925.00" width="20.10" height="18.50" fill="#fff"/>
<text x="280.20" y="937.85" font-size="13.6" text-anchor="middle" style="stroke-width:0.2px">21</text>
<rect x="291.60" y="925.00" width="20.90" height="18.50" fill="#00b0f0"/>
<rect x="313.73" y="925.00" width="20.90" height="18.50" fill="#ffff00"/>
<rect x="335.86" y="925.00" width="20.90" height="18.50" fill="#ff0000"/>
<rect x="357.99" y="925.00" width="20.90" height="18.50" fill="#ff0000"/>
<rect x="380.12" y="925.00" width="20.90" height="18.50" fill="#ff0000"/>
<rect x="402.25" y="925.00" width="20.90" height="18.50" fill="#ff0000"/>
<rect x="424.38" y="925.00" width="20.90" height="18.50" fill="#ff0000"/>
<rect x="446.51" y="925.00" width="20.90" height="18.50" fill="#ff0000"/>
<rect x="468.64" y="925.00" width="20.90" height="18.50" fill="#f79646"/>
<rect x="490.77" y="925.00" width="20.90" height="18.50" fill="#00b0f0"/>
<rect x="512.90" y="925.00" width="20.90" height="18.50" fill="#00b0f0"/>
<rect x="535.03" y="925.00" width="20.90" height="18.50" fill="#0000ff"/>
<rect x="557.16" y="925.00" width="20.90" height="18.50" fill="#ffffff"/>
<text transform="translate(254.10,650.90) scale(1.0,1.055)" font-size="21.9" text-anchor="start" >The rate coefficients related to</text>
<text x="526.30" y="640.10" font-size="13.6" text-anchor="start" >4</text>
<text transform="translate(533.60,651.20) scale(1.0,0.95)" font-size="23.2" text-anchor="start" >Σ</text>
<text x="546.90" y="640.60" font-size="14.0" text-anchor="start" >-</text>
<text transform="translate(557.00,651.20) scale(1.0,1.055)" font-size="21.9" text-anchor="start" >only</text>
</svg>
</body></html>
